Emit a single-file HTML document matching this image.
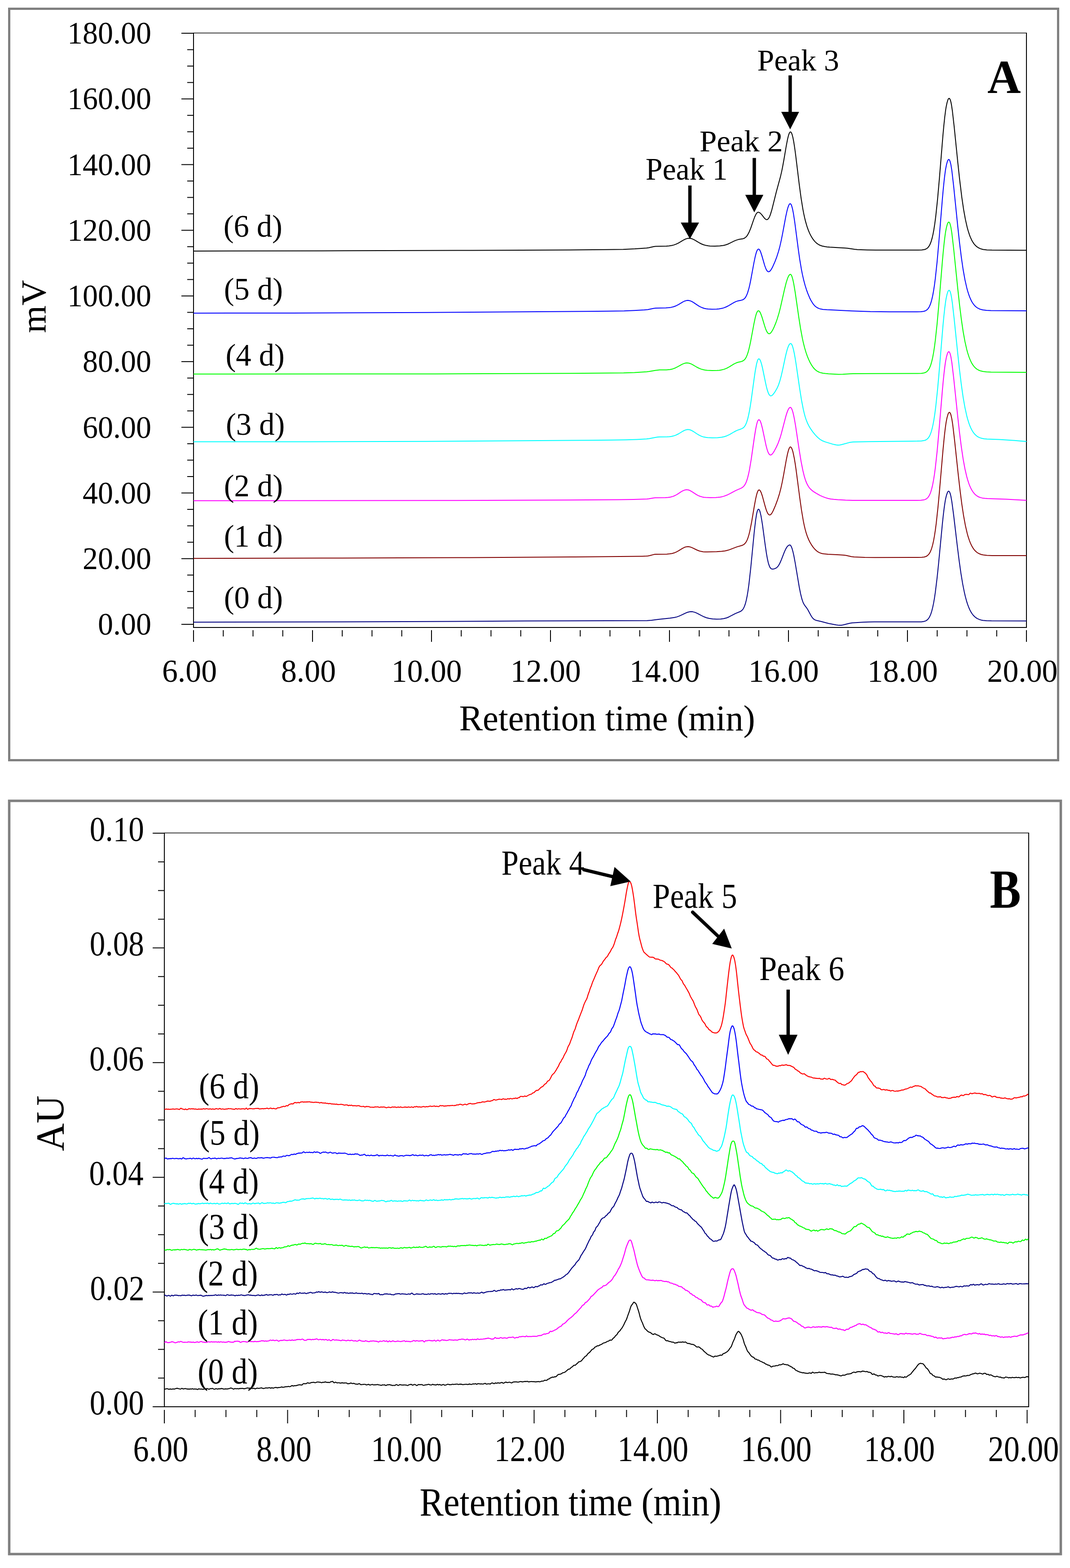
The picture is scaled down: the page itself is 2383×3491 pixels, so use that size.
<!DOCTYPE html>
<html><head><meta charset="utf-8"><title>Chromatograms</title>
<style>html,body{margin:0;padding:0;background:#fff;}svg{display:block;}
text{font-family:"Liberation Serif","Times New Roman",serif;font-size:100px;fill:#000;}</style></head>
<body><svg xmlns="http://www.w3.org/2000/svg" width="2383" height="3491" viewBox="0 0 2383 3491">
<rect width="2383" height="3491" fill="#fff"/>
<rect x="20.5" y="19.5" width="2336" height="1673" fill="none" stroke="#808080" stroke-width="5"/>
<line x1="430" y1="73.5" x2="2287" y2="73.5" stroke="#000" stroke-width="1.5"/>
<line x1="2286" y1="73" x2="2286" y2="1398" stroke="#000" stroke-width="2"/>
<line x1="431" y1="73" x2="431" y2="1398" stroke="#000" stroke-width="2"/>
<line x1="430" y1="1397" x2="2287" y2="1397" stroke="#000" stroke-width="2"/>
<line x1="404" y1="1390.0" x2="431" y2="1390.0" stroke="#000" stroke-width="2"/>
<line x1="417" y1="1353.445" x2="431" y2="1353.445" stroke="#000" stroke-width="2"/>
<line x1="417" y1="1316.89" x2="431" y2="1316.89" stroke="#000" stroke-width="2"/>
<line x1="417" y1="1280.335" x2="431" y2="1280.335" stroke="#000" stroke-width="2"/>
<line x1="404" y1="1243.78" x2="431" y2="1243.78" stroke="#000" stroke-width="2"/>
<line x1="417" y1="1207.225" x2="431" y2="1207.225" stroke="#000" stroke-width="2"/>
<line x1="417" y1="1170.67" x2="431" y2="1170.67" stroke="#000" stroke-width="2"/>
<line x1="417" y1="1134.115" x2="431" y2="1134.115" stroke="#000" stroke-width="2"/>
<line x1="404" y1="1097.56" x2="431" y2="1097.56" stroke="#000" stroke-width="2"/>
<line x1="417" y1="1061.005" x2="431" y2="1061.005" stroke="#000" stroke-width="2"/>
<line x1="417" y1="1024.45" x2="431" y2="1024.45" stroke="#000" stroke-width="2"/>
<line x1="417" y1="987.895" x2="431" y2="987.895" stroke="#000" stroke-width="2"/>
<line x1="404" y1="951.34" x2="431" y2="951.34" stroke="#000" stroke-width="2"/>
<line x1="417" y1="914.7850000000001" x2="431" y2="914.7850000000001" stroke="#000" stroke-width="2"/>
<line x1="417" y1="878.23" x2="431" y2="878.23" stroke="#000" stroke-width="2"/>
<line x1="417" y1="841.675" x2="431" y2="841.675" stroke="#000" stroke-width="2"/>
<line x1="404" y1="805.12" x2="431" y2="805.12" stroke="#000" stroke-width="2"/>
<line x1="417" y1="768.565" x2="431" y2="768.565" stroke="#000" stroke-width="2"/>
<line x1="417" y1="732.01" x2="431" y2="732.01" stroke="#000" stroke-width="2"/>
<line x1="417" y1="695.455" x2="431" y2="695.455" stroke="#000" stroke-width="2"/>
<line x1="404" y1="658.9" x2="431" y2="658.9" stroke="#000" stroke-width="2"/>
<line x1="417" y1="622.345" x2="431" y2="622.345" stroke="#000" stroke-width="2"/>
<line x1="417" y1="585.79" x2="431" y2="585.79" stroke="#000" stroke-width="2"/>
<line x1="417" y1="549.235" x2="431" y2="549.235" stroke="#000" stroke-width="2"/>
<line x1="404" y1="512.6800000000001" x2="431" y2="512.6800000000001" stroke="#000" stroke-width="2"/>
<line x1="417" y1="476.125" x2="431" y2="476.125" stroke="#000" stroke-width="2"/>
<line x1="417" y1="439.57000000000005" x2="431" y2="439.57000000000005" stroke="#000" stroke-width="2"/>
<line x1="417" y1="403.015" x2="431" y2="403.015" stroke="#000" stroke-width="2"/>
<line x1="404" y1="366.46000000000004" x2="431" y2="366.46000000000004" stroke="#000" stroke-width="2"/>
<line x1="417" y1="329.905" x2="431" y2="329.905" stroke="#000" stroke-width="2"/>
<line x1="417" y1="293.3499999999999" x2="431" y2="293.3499999999999" stroke="#000" stroke-width="2"/>
<line x1="417" y1="256.7950000000001" x2="431" y2="256.7950000000001" stroke="#000" stroke-width="2"/>
<line x1="404" y1="220.24" x2="431" y2="220.24" stroke="#000" stroke-width="2"/>
<line x1="417" y1="183.68499999999995" x2="431" y2="183.68499999999995" stroke="#000" stroke-width="2"/>
<line x1="417" y1="147.1300000000001" x2="431" y2="147.1300000000001" stroke="#000" stroke-width="2"/>
<line x1="417" y1="110.57500000000005" x2="431" y2="110.57500000000005" stroke="#000" stroke-width="2"/>
<line x1="404" y1="74.01999999999998" x2="431" y2="74.01999999999998" stroke="#000" stroke-width="2"/>
<line x1="431.0" y1="1403" x2="431.0" y2="1429" stroke="#000" stroke-width="2"/>
<line x1="497.25" y1="1403" x2="497.25" y2="1417" stroke="#000" stroke-width="2"/>
<line x1="563.5" y1="1403" x2="563.5" y2="1417" stroke="#000" stroke-width="2"/>
<line x1="629.75" y1="1403" x2="629.75" y2="1417" stroke="#000" stroke-width="2"/>
<line x1="696.0" y1="1403" x2="696.0" y2="1429" stroke="#000" stroke-width="2"/>
<line x1="762.25" y1="1403" x2="762.25" y2="1417" stroke="#000" stroke-width="2"/>
<line x1="828.5" y1="1403" x2="828.5" y2="1417" stroke="#000" stroke-width="2"/>
<line x1="894.75" y1="1403" x2="894.75" y2="1417" stroke="#000" stroke-width="2"/>
<line x1="961.0" y1="1403" x2="961.0" y2="1429" stroke="#000" stroke-width="2"/>
<line x1="1027.25" y1="1403" x2="1027.25" y2="1417" stroke="#000" stroke-width="2"/>
<line x1="1093.5" y1="1403" x2="1093.5" y2="1417" stroke="#000" stroke-width="2"/>
<line x1="1159.75" y1="1403" x2="1159.75" y2="1417" stroke="#000" stroke-width="2"/>
<line x1="1226.0" y1="1403" x2="1226.0" y2="1429" stroke="#000" stroke-width="2"/>
<line x1="1292.25" y1="1403" x2="1292.25" y2="1417" stroke="#000" stroke-width="2"/>
<line x1="1358.5" y1="1403" x2="1358.5" y2="1417" stroke="#000" stroke-width="2"/>
<line x1="1424.75" y1="1403" x2="1424.75" y2="1417" stroke="#000" stroke-width="2"/>
<line x1="1491.0" y1="1403" x2="1491.0" y2="1429" stroke="#000" stroke-width="2"/>
<line x1="1557.25" y1="1403" x2="1557.25" y2="1417" stroke="#000" stroke-width="2"/>
<line x1="1623.5" y1="1403" x2="1623.5" y2="1417" stroke="#000" stroke-width="2"/>
<line x1="1689.75" y1="1403" x2="1689.75" y2="1417" stroke="#000" stroke-width="2"/>
<line x1="1756.0" y1="1403" x2="1756.0" y2="1429" stroke="#000" stroke-width="2"/>
<line x1="1822.25" y1="1403" x2="1822.25" y2="1417" stroke="#000" stroke-width="2"/>
<line x1="1888.5" y1="1403" x2="1888.5" y2="1417" stroke="#000" stroke-width="2"/>
<line x1="1954.75" y1="1403" x2="1954.75" y2="1417" stroke="#000" stroke-width="2"/>
<line x1="2021.0" y1="1403" x2="2021.0" y2="1429" stroke="#000" stroke-width="2"/>
<line x1="2087.25" y1="1403" x2="2087.25" y2="1417" stroke="#000" stroke-width="2"/>
<line x1="2153.5" y1="1403" x2="2153.5" y2="1417" stroke="#000" stroke-width="2"/>
<line x1="2219.75" y1="1403" x2="2219.75" y2="1417" stroke="#000" stroke-width="2"/>
<line x1="2286.0" y1="1403" x2="2286.0" y2="1429" stroke="#000" stroke-width="2"/>
<rect x="20.5" y="1783" width="2342" height="1677" fill="none" stroke="#808080" stroke-width="5.5"/>
<line x1="365" y1="1854.5" x2="2292" y2="1854.5" stroke="#000" stroke-width="1.5"/>
<line x1="2291" y1="1854" x2="2291" y2="3133" stroke="#000" stroke-width="2"/>
<line x1="366" y1="1854" x2="366" y2="3133" stroke="#000" stroke-width="2"/>
<line x1="340" y1="3132" x2="2292" y2="3132" stroke="#000" stroke-width="2"/>
<line x1="340" y1="3132.0" x2="366" y2="3132.0" stroke="#000" stroke-width="2"/>
<line x1="352" y1="3068.15" x2="366" y2="3068.15" stroke="#000" stroke-width="2"/>
<line x1="352" y1="3004.3" x2="366" y2="3004.3" stroke="#000" stroke-width="2"/>
<line x1="352" y1="2940.45" x2="366" y2="2940.45" stroke="#000" stroke-width="2"/>
<line x1="340" y1="2876.6" x2="366" y2="2876.6" stroke="#000" stroke-width="2"/>
<line x1="352" y1="2812.75" x2="366" y2="2812.75" stroke="#000" stroke-width="2"/>
<line x1="352" y1="2748.9" x2="366" y2="2748.9" stroke="#000" stroke-width="2"/>
<line x1="352" y1="2685.05" x2="366" y2="2685.05" stroke="#000" stroke-width="2"/>
<line x1="340" y1="2621.2" x2="366" y2="2621.2" stroke="#000" stroke-width="2"/>
<line x1="352" y1="2557.35" x2="366" y2="2557.35" stroke="#000" stroke-width="2"/>
<line x1="352" y1="2493.5" x2="366" y2="2493.5" stroke="#000" stroke-width="2"/>
<line x1="352" y1="2429.65" x2="366" y2="2429.65" stroke="#000" stroke-width="2"/>
<line x1="340" y1="2365.8" x2="366" y2="2365.8" stroke="#000" stroke-width="2"/>
<line x1="352" y1="2301.95" x2="366" y2="2301.95" stroke="#000" stroke-width="2"/>
<line x1="352" y1="2238.1" x2="366" y2="2238.1" stroke="#000" stroke-width="2"/>
<line x1="352" y1="2174.25" x2="366" y2="2174.25" stroke="#000" stroke-width="2"/>
<line x1="340" y1="2110.4" x2="366" y2="2110.4" stroke="#000" stroke-width="2"/>
<line x1="352" y1="2046.55" x2="366" y2="2046.55" stroke="#000" stroke-width="2"/>
<line x1="352" y1="1982.7" x2="366" y2="1982.7" stroke="#000" stroke-width="2"/>
<line x1="352" y1="1918.85" x2="366" y2="1918.85" stroke="#000" stroke-width="2"/>
<line x1="340" y1="1855.0" x2="366" y2="1855.0" stroke="#000" stroke-width="2"/>
<line x1="366.0" y1="3139" x2="366.0" y2="3169" stroke="#000" stroke-width="2"/>
<line x1="434.625" y1="3139" x2="434.625" y2="3155" stroke="#000" stroke-width="2"/>
<line x1="503.25" y1="3139" x2="503.25" y2="3155" stroke="#000" stroke-width="2"/>
<line x1="571.875" y1="3139" x2="571.875" y2="3155" stroke="#000" stroke-width="2"/>
<line x1="640.5" y1="3139" x2="640.5" y2="3169" stroke="#000" stroke-width="2"/>
<line x1="709.125" y1="3139" x2="709.125" y2="3155" stroke="#000" stroke-width="2"/>
<line x1="777.75" y1="3139" x2="777.75" y2="3155" stroke="#000" stroke-width="2"/>
<line x1="846.375" y1="3139" x2="846.375" y2="3155" stroke="#000" stroke-width="2"/>
<line x1="915.0" y1="3139" x2="915.0" y2="3169" stroke="#000" stroke-width="2"/>
<line x1="983.625" y1="3139" x2="983.625" y2="3155" stroke="#000" stroke-width="2"/>
<line x1="1052.25" y1="3139" x2="1052.25" y2="3155" stroke="#000" stroke-width="2"/>
<line x1="1120.875" y1="3139" x2="1120.875" y2="3155" stroke="#000" stroke-width="2"/>
<line x1="1189.5" y1="3139" x2="1189.5" y2="3169" stroke="#000" stroke-width="2"/>
<line x1="1258.125" y1="3139" x2="1258.125" y2="3155" stroke="#000" stroke-width="2"/>
<line x1="1326.75" y1="3139" x2="1326.75" y2="3155" stroke="#000" stroke-width="2"/>
<line x1="1395.375" y1="3139" x2="1395.375" y2="3155" stroke="#000" stroke-width="2"/>
<line x1="1464.0" y1="3139" x2="1464.0" y2="3169" stroke="#000" stroke-width="2"/>
<line x1="1532.625" y1="3139" x2="1532.625" y2="3155" stroke="#000" stroke-width="2"/>
<line x1="1601.25" y1="3139" x2="1601.25" y2="3155" stroke="#000" stroke-width="2"/>
<line x1="1669.875" y1="3139" x2="1669.875" y2="3155" stroke="#000" stroke-width="2"/>
<line x1="1738.5" y1="3139" x2="1738.5" y2="3169" stroke="#000" stroke-width="2"/>
<line x1="1807.125" y1="3139" x2="1807.125" y2="3155" stroke="#000" stroke-width="2"/>
<line x1="1875.75" y1="3139" x2="1875.75" y2="3155" stroke="#000" stroke-width="2"/>
<line x1="1944.375" y1="3139" x2="1944.375" y2="3155" stroke="#000" stroke-width="2"/>
<line x1="2013.0" y1="3139" x2="2013.0" y2="3169" stroke="#000" stroke-width="2"/>
<line x1="2081.625" y1="3139" x2="2081.625" y2="3155" stroke="#000" stroke-width="2"/>
<line x1="2150.25" y1="3139" x2="2150.25" y2="3155" stroke="#000" stroke-width="2"/>
<line x1="2218.875" y1="3139" x2="2218.875" y2="3155" stroke="#000" stroke-width="2"/>
<line x1="2287.5" y1="3139" x2="2287.5" y2="3169" stroke="#000" stroke-width="2"/>
<path d="M431.0,559.0l286,-0.5l333,-1l244,-1.2l54,-0.5l40,-0.6l26,-1.1l26,-1.9l5,-0.8l11,-2.5l4,-0.5l24,-0.5l6,-0.5l5,-0.6l5,-1.2l5,-1.7l6,-2.8l10,-6l4,-2.1l3,-1.3l2,-0.6l4,-0.6l4,0.3l2,0.5l3,1.1l4,2l10,6l5,2.6l5,2l6,1.6l4,0.7l4,0.4l11,0.3l11,-0.4l8,-1.1l5,-1.2l5,-1.8l5,-2.3l9,-4.5l5,-2.1l5,-1.5l10,-1.7l3,-1.2l3,-2.2l2,-2.1l2,-2.8l3,-5.5l4,-9.7l6,-17.4l3,-8l3,-6.1l2,-2.6l1,-0.8l1,-0.4l1,-0.1l1,0.2l1,0.4l2,1.3l3,3l7,8.9l2,1.7l1,0.6l1,0.3l1,0l1,-0.2l1,-0.6l2,-2.3l1,-1.7l1,-2l2,-5.2l3,-9.9l10,-40l9,-32.9l3,-13l2,-9.8l3,-16.5l5,-29.5l3,-15.6l2,-8l1,-3.1l1,-2.4l1,-1.6l1,-0.8l1,0l1,0.9l1,1.8l1,2.6l2,7.6l2,10.6l2,13l2,14.8l8,65.6l4,29.6l4,24.8l2,10.5l2,9.2l2,8.1l3,10.4l3,8.6l3,7.2l3,6l4,6.6l4,5.2l4,4l4,2.9l4,2.2l5,1.8l6,1.3l5,0.7l6,0.5l34,1.9l6,0.6l15,2.2l7,0.7l21,0.7l19,0.3l95,0l8,-0.3l5,-0.6l2,-0.5l2,-0.8l3,-1.9l2,-1.9l1,-1.2l2,-3.1l1,-1.9l2,-4.8l1,-2.9l2,-6.9l2,-8.8l2,-10.9l2,-13l2,-15.4l4,-37.6l4,-45.3l8,-97.4l2,-21.6l2,-18.9l2,-15.6l1,-6.4l2,-9.7l2,-6.8l1,-2.1l1,-1.2l1,-0.3l1,0.8l1,1.7l1,2.9l1,3.9l1,5.1l2,13.2l4,35.2l8,78.8l4,37.5l5,40.9l4,27.3l4,22.2l4,17.6l2,7.3l3,9.3l2,5.2l3,6.6l2,3.6l3,4.6l3,3.5l3,2.8l3,2.1l4,2.1l4,1.4l4,0.9l8,1l11,0.4l77,0.4" fill="none" stroke="#000000" stroke-width="2.0" stroke-linejoin="round"/>
<path d="M431.0,697.2l220,-0.3l299,-1.1l356,-2.5l48,-0.5l36,-0.6l23,-0.9l22,-1.3l8,-0.8l12,-2.5l5,-0.7l23,-0.5l6,-0.4l5,-0.7l6,-1.4l6,-2.3l5,-2.6l10,-6l4,-1.9l4,-1.1l3,-0.3l2,0.2l2,0.4l4,1.5l4,2.2l10,6.8l4,2.4l5,2.4l6,2l4,0.8l4,0.5l9,0.5l10,-0.3l5,-0.4l4,-0.7l4,-0.8l3,-0.9l6,-2.4l5,-2.6l11,-6.5l5,-2.5l4,-1.3l8,-1.7l3,-0.9l2,-1l2,-1.7l2,-2.3l1,-1.6l2,-3.9l2,-5.1l3,-10.2l2,-8.5l2,-9.7l7,-38.1l3,-14.4l2,-7.6l1,-3l1,-2.4l1,-1.8l1,-1.1l1,-0.6l1,0.2l1,0.7l1,1.3l2,4.2l3,9.2l6,20.9l3,8l2,3.5l1,1.2l1,0.9l1,0.4l1,0.1l1,-0.3l1,-0.6l1,-0.9l2,-2.5l2,-3.3l2,-3.8l5,-11.4l4,-10.5l4,-12.6l3,-11.3l3,-13.3l3,-15l7,-37.6l3,-13.6l2,-7.1l2,-5l1,-1.5l1,-1l1,-0.2l1,0.5l1,1.4l1,2.3l2,7.2l2,10.1l3,19.5l8,61.3l3,21.1l4,23.8l2,10.1l3,13.2l3,11.1l3,9.6l3,8.4l4,9.5l3,6l4,6.6l3,3.8l2,2.1l2,1.8l3,2l4,1.9l4,1.2l5,0.8l9,0.7l54,2.7l43,1.5l43,0.4l60,0.1l9,-0.2l6,-0.8l4,-1.3l3,-1.8l3,-3.1l2,-3l1,-1.9l2,-4.7l1,-2.8l2,-6.9l2,-8.6l2,-10.7l2,-12.9l2,-15.2l4,-37.3l4,-45.1l8,-97.7l2,-21.9l2,-19.3l2,-16l1,-6.6l2,-10.2l2,-7.1l1,-2.3l1,-1.4l1,-0.5l1,0.5l1,1.6l1,2.6l1,3.7l1,4.7l2,12.8l4,34.7l9,88.3l4,36.7l4,32.3l4,27.4l4,22.4l4,17.7l2,7.4l3,9.4l2,5.2l3,6.6l2,3.7l3,4.5l3,3.6l3,2.7l3,2.2l4,2l4,1.4l4,0.9l8,1l10,0.4l79,0.6" fill="none" stroke="#0000FF" stroke-width="2.0" stroke-linejoin="round"/>
<path d="M431.0,832.7l538,-0.3l331,-1.3l89,-0.8l24,-0.8l27,-1.7l6,-0.7l13,-2.4l6,-0.8l4,-0.3l15,-0.2l8,-0.7l6,-1.3l6,-2.2l5,-2.5l10,-5.5l4,-1.8l4,-1.1l3,-0.3l4,0.5l4,1.2l4,1.9l10,5.9l4,2l5,2.1l6,1.7l4,0.7l4,0.4l11,0.5l11,-0.2l5,-0.3l4,-0.6l6,-1.4l6,-2.3l6,-3.2l11,-6.7l5,-2.4l4,-1.3l7,-1.6l3,-1.1l3,-1.9l2,-2.1l1,-1.4l2,-3.5l2,-4.6l2,-5.9l2,-7.3l2,-8.5l2,-9.6l7,-37.6l3,-14.1l2,-7.4l1,-2.8l1,-2.3l1,-1.6l1,-1l1,-0.3l1,0.2l1,0.7l1,1.2l2,3.8l3,8.1l6,19.9l2,6l2,4.8l2,3.6l1,1.2l1,0.9l1,0.6l1,0.1l1,-0.1l1,-0.5l1,-0.8l2,-2.3l3,-4.9l3,-6.2l4,-9.7l3,-8.5l4,-13.3l3,-11.7l9,-40l4,-16l3,-9.3l2,-4.6l2,-3l1,-0.9l1,-0.5l1,0.2l1,1.1l1,1.7l1,2.6l2,7.2l2,9.6l3,17.9l8,55.5l4,25.5l4,21.4l2,9.2l3,11.9l3,10l3,8.6l3,7.3l3,6.3l3,5.4l4,5.9l3,3.5l4,3.6l3,1.9l4,1.9l4,1.2l4,0.8l5,0.7l7,0.6l23,1.3l9,-0.2l16,-1l7,-0.3l41,-0.3l102,-0.2l9,-0.3l5,-0.6l4,-1.3l3,-1.8l3,-3.1l2,-3l1,-1.8l2,-4.7l1,-2.8l2,-6.8l2,-8.6l2,-10.6l2,-12.8l2,-15.1l4,-37l4,-44.9l8,-97.1l2,-21.7l2,-19.2l2,-16l1,-6.5l2,-10.1l2,-7.1l1,-2.3l1,-1.4l1,-0.5l1,0.5l1,1.5l1,2.6l1,3.7l1,4.7l2,12.7l4,34.5l9,87.7l4,36.4l4,32.1l4,27.2l4,22.2l4,17.7l2,7.3l3,9.3l2,5.2l3,6.6l2,3.6l3,4.5l3,3.5l3,2.7l3,2.1l4,2.1l4,1.3l4,0.9l8,1l10,0.4l79,0.6" fill="none" stroke="#00FF00" stroke-width="2.0" stroke-linejoin="round"/>
<path d="M431.0,983.6l261,-0.2l256,-0.6l365,-2.5l48,-0.5l33,-0.6l24,-0.8l22,-1.2l6,-0.7l13,-2.5l6,-0.9l4,-0.3l17,-0.3l5,-0.3l4,-0.5l5,-1.1l5,-1.7l6,-2.9l9,-5.5l4,-2.1l4,-1.5l2,-0.4l2,-0.2l2,0.1l2,0.4l4,1.5l4,2.2l9,6l5,2.9l5,2.2l5,1.5l4,0.7l4,0.5l10,0.5l12,-0.3l9,-0.9l6,-1.3l6,-2.1l6,-2.9l10,-5.8l4,-2.1l4,-1.8l7,-2.4l3,-1.3l2,-1.2l2,-1.8l2,-2.6l2,-3.6l2,-4.9l2,-6.4l2,-8.1l2,-9.8l2,-11.6l2,-13.1l7,-51.2l2,-13.5l3,-16.1l2,-7.1l1,-2.3l1,-1.3l1,-0.4l1,0.4l1,1l1,1.7l1,2.3l2,6.2l2,8l7,34l2,8.9l2,7.5l2,5.8l2,4l1,1.3l1,0.8l1,0.5l1,0.1l1,-0.3l1,-0.5l2,-1.7l2,-2.4l3,-4.2l4,-6.8l2,-4.1l2,-4.8l3,-9l3,-11.2l3,-13.2l6,-28.2l2,-8.5l2,-7.5l2,-6.2l2,-4.5l1,-1.6l1,-1.1l1,-0.6l1,-0.2l1,0.5l1,1.2l1,1.8l1,2.5l2,7l2,9.2l2,11.1l2,12.5l8,55.1l4,25l4,20.6l2,8.5l2,7.4l2,6.3l3,7.7l3,6.2l4,6.8l5,7.1l6,7.3l5,5.2l5,4.2l3,1.9l3,1.6l6,2.4l19,5.7l5,1l4,0.3l4,-0.2l4,-0.7l18,-4.9l4,-0.7l4,-0.4l35,-0.8l108,-1.1l9,-0.4l5,-0.6l4,-1.1l2,-1.1l2,-1.4l2,-2l1,-1.2l2,-3.2l1,-2l2,-4.9l1,-3l2,-7.1l2,-9l2,-10.9l2,-13.2l2,-15.5l4,-37.8l3,-33.3l9,-108.3l2,-21.1l2,-18.5l2,-15.2l1,-6.1l2,-9.4l2,-6.4l1,-2l1,-1l1,-0.1l1,0.9l1,1.9l1,3l1,4.1l1,5.1l2,13.4l4,35l8,77.7l4,36.7l4,32.6l4,27.8l4,22.8l4,18.1l2,7.6l3,9.6l2,5.4l3,6.8l2,3.7l3,4.7l2,2.5l3,3.1l3,2.5l3,1.8l4,1.8l4,1.1l5,0.9l6,0.6l27,1.1l16,0.8l19,1.4l26,2.2" fill="none" stroke="#00FFFF" stroke-width="2.0" stroke-linejoin="round"/>
<path d="M431.0,1114.7l552,-0.4l324,-1.3l69,-0.5l35,-0.5l30,-1l4,-0.4l10,-1.9l4,-0.5l23,-0.3l6,-0.4l5,-0.8l6,-1.6l5,-2.1l5,-2.9l9,-5.9l4,-2.1l4,-1.4l3,-0.4l2,0.2l2,0.3l4,1.5l4,2.3l8,5.2l5,3l5,2.2l5,1.4l4,0.8l4,0.4l10,0.4l12,-0.3l5,-0.4l5,-0.6l4,-0.8l4,-1l7,-2.6l6,-2.9l14,-7.6l10,-4.2l3,-1.5l3,-2.1l2,-2.1l2,-2.8l2,-3.7l2,-5l2,-6.4l2,-7.9l2,-9.5l4,-23.7l7,-48.9l3,-18.5l2,-9.8l1,-3.9l1,-3.1l1,-2.2l1,-1.5l1,-0.5l1,0.2l1,0.9l1,1.6l2,5.1l3,11.5l8,37.8l2,7.7l2,6.1l1,2.4l2,3.4l1,1l1,0.6l1,0.2l1,-0.1l1,-0.5l2,-1.8l2,-2.6l2,-3.1l5,-9.4l4,-8.9l4,-10.9l3,-9.9l9,-34.6l2,-7.1l2,-6.2l2,-5.1l2,-3.5l1,-1.2l1,-0.8l1,-0.3l1,0.3l1,0.9l1,1.6l1,2.2l2,6.3l2,8.6l2,10.4l2,11.9l8,53.2l4,24.5l4,20.4l3,12.3l2,6.7l2,5.7l2,4.7l3,5.6l2,3l3,3.5l3,2.8l4,3l6,3.8l8,4.4l6,2.8l6,2.3l6,1.8l6,1.2l7,0.9l9,0.8l17,1l16,0.4l143,0l9,-0.2l6,-0.7l4,-1.2l3,-1.8l3,-3l2,-3l1,-1.8l2,-4.5l1,-2.8l2,-6.7l2,-8.4l2,-10.5l2,-12.5l2,-14.8l4,-36.4l4,-44l8,-95.4l2,-21.3l2,-18.9l2,-15.6l1,-6.4l2,-10l2,-6.9l1,-2.3l1,-1.4l1,-0.5l1,0.5l1,1.5l1,2.5l1,3.6l1,4.7l2,12.4l4,33.8l9,86l4,35.7l4,31.5l4,26.7l4,21.8l4,17.3l2,7.1l3,9.2l2,5.1l3,6.4l2,3.5l3,4.4l3,3.5l3,2.6l3,2.1l3,1.6l4,1.4l4,1l5,0.7l6,0.5l43,1.4l44,2.5" fill="none" stroke="#FF00FF" stroke-width="2.0" stroke-linejoin="round"/>
<path d="M431.0,1243.3l288,-0.7l326,-1.2l236,-1.5l125,-1.1l25,-0.4l9,-0.3l3,-0.3l4,-0.8l9,-2.4l4,-0.6l25,-0.3l7,-0.6l5,-0.8l5,-1.5l5,-2.1l4,-2.3l9,-5.6l4,-2l4,-1.4l4,-0.4l3,0.3l4,1.1l4,1.7l9,4.4l5,2l4,1.1l5,0.8l4,0.3l5,0.1l21,-0.6l11,-0.7l8,-1.1l5,-1.1l4,-1.2l17,-6.5l10,-2.9l3,-1l2,-1.1l2,-1.5l2,-2.1l2,-2.9l2,-4l2,-5.3l2,-6.6l2,-8l4,-20.2l6,-35.5l3,-16.1l2,-8.7l1,-3.5l1,-2.9l1,-2.2l1,-1.5l1,-0.7l1,-0.1l1,0.6l1,1.1l2,3.7l3,8.7l6,22l2,6.7l2,5.5l2,4.1l1,1.4l1,1.1l1,0.6l1,0.3l1,-0.2l1,-0.5l1,-0.8l2,-2.5l3,-5.6l5,-11.7l5,-13.5l4,-12.7l3,-11.5l3,-13.7l3,-15.7l6,-33.6l3,-14.6l2,-7.6l1,-2.8l1,-2.3l1,-1.5l1,-0.7l1,0.1l1,0.9l1,1.6l1,2.2l2,6.4l3,14.2l2,12l2,13.6l8,61.2l4,28.4l4,23.7l2,9.8l2,8.6l2,7.3l3,9.1l3,7.3l3,6l3,5.1l4,5.8l4,4.7l4,3.7l3,2.1l4,2l4,1.3l4,0.9l10,1l25,1.1l11,0.8l5,0.8l11,2.5l6,0.6l24,1l23,0.4l95,-0.3l9,-0.2l5,-0.6l4,-1.2l2,-1l2,-1.4l3,-3.2l2,-3.2l1,-1.9l2,-4.9l1,-2.9l2,-7l2,-8.8l2,-10.8l2,-12.9l2,-15.1l4,-36.7l3,-32.4l8,-93.1l3,-31.1l2,-17.5l2,-14.2l2,-10.4l2,-7.3l1,-2.6l1,-1.7l1,-0.8l1,0.1l1,1l1,2.1l1,3.1l2,9.2l2,13.3l4,34l8,74.7l4,35.1l4,31.2l4,26.4l4,21.7l4,17.3l2,7.1l3,9.1l2,5.2l3,6.4l2,3.5l3,4.5l3,3.4l3,2.7l3,2.1l4,2l4,1.4l4,0.8l8,1l12,0.4l76,0.1" fill="none" stroke="#800000" stroke-width="2.0" stroke-linejoin="round"/>
<path d="M431.0,1385.2l207,-0.4l262,-0.8l271,-1.4l270,-0.9l10,-0.7l15,-1.9l26,-2.8l10,-1.5l5,-1.2l5,-1.7l5,-2.2l10,-4.8l4,-1.6l4,-1l4,-0.5l4,0.3l5,1.3l5,2.2l10,5.3l5,2.4l5,1.9l6,1.6l8,1.2l9,0.4l9,-0.2l7,-0.9l6,-1.6l5,-2l14,-7.3l4,-1.8l7,-2.8l3,-1.7l2,-1.8l1,-1.1l2,-3l2,-4.3l2,-5.7l2,-7.7l2,-9.7l2,-12.2l2,-14.5l4,-35.8l8,-82.3l3,-25.2l2,-12.3l1,-4.5l1,-3.3l1,-2.1l1,-0.9l1,0.3l1,1.2l1,2.2l1,3.2l2,8.8l3,18.2l6,44.6l3,20.4l2,11.2l2,8.9l1,3.5l2,5.4l1,1.8l1,1.4l1,1l1,0.7l2,0.6l3,-0.3l3,-0.9l3,-1.6l2,-1.6l2,-2.3l1,-1.4l3,-5.5l3,-6.9l7,-17.9l3,-6.5l2,-3.5l2,-2.6l1,-1l2,-1.4l2,-0.4l1,0.4l1,1l1,1.6l2,4.9l2,7.2l2,8.9l3,16.1l9,53.6l3,15l3,11.9l2,5.9l1,2.4l2,3.8l2,2.9l4,5.3l2,3l7,13.1l2,3.2l2,2.7l3,2.7l2,1.2l3,1.2l11,2.5l16,4.2l17,3.2l4,0.5l4,0.3l4,-0.1l4,-0.6l14,-3.5l6,-1.1l24,-1.4l13,-0.5l12,-0.2l98,0l7,-0.2l5,-0.6l4,-1.2l3,-1.6l3,-2.8l2,-2.7l1,-1.7l2,-4.2l1,-2.5l2,-6.1l2,-7.7l2,-9.4l2,-11.3l2,-13.4l4,-32.5l3,-28.9l9,-93.9l2,-18.5l2,-16.2l2,-13.3l1,-5.3l2,-8.3l2,-5.7l1,-1.8l1,-1l1,-0.2l1,0.7l1,1.6l1,2.5l1,3.5l1,4.4l2,11.5l4,30.2l8,67.5l4,31.9l4,28.5l4,24.2l4,20l2,8.4l3,10.9l2,6.2l3,7.9l2,4.4l3,5.5l2,3.1l3,3.8l3,3l3,2.3l3,1.8l4,1.8l4,1.2l4,0.8l8,0.8l11,0.3l78,0.1" fill="none" stroke="#000080" stroke-width="2.0" stroke-linejoin="round"/>
<path d="M366.0,2469.8l1.5,0.2l1.5,-0.6l1.5,-0.4l1.5,0.7l1.5,0l1.5,-0.3l1.5,0.3l1.5,0.1l1.5,-0.1l1.5,-0.1l1.5,-0.1l1.5,-0.4l1.5,-0.1l1.5,0.2l1.5,0.4l1.5,-0.1l1.5,-0.5l1.5,-0.2l1.5,0.2l1.5,0.2l1.5,0.4l1.5,0.7l1.5,-0.8l1.5,-1.9l1.5,-0.1l1.5,1.1l1.5,0.5l1.5,0.3l1.5,0.7l1.5,0.2l1.5,-1.1l1.5,0.2l1.5,1.1l1.5,-0.1l1.5,-0.7l1.5,-0.9l1.5,-0.5l1.5,0.7l1.5,0.1l1.5,-0.6l1.5,0.1l1.5,0.2l1.5,-0.1l1.5,0.3l1.5,0.3l1.5,-0.1l1.5,0l1.5,0.5l1.5,0.3l1.5,-0.6l1.5,-0.3l1.5,0.2l1.5,0.1l1.5,-0.1l1.5,-0.2l1.5,0.3l1.5,-0.3l1.5,-0.7l1.5,0.3l1.5,0.5l1.5,-0.1l1.5,-0.7l1.5,-0.1l1.5,0.5l1.5,0.2l1.5,0.4l1.5,-0.2l1.5,-0.7l1.5,0.7l1.5,0.6l1.5,-0.7l1.5,-0.3l1.5,0.6l1.5,0.3l1.5,-0.1l1.5,-0.9l1.5,-0.6l1.5,0.4l1.5,0.5l1.5,0.4l1.5,-0.5l1.5,-1l1.5,0.3l1.5,1.2l1.5,0.1l1.5,-0.6l1.5,0.1l1.5,0.4l1.5,0.2l1.5,0.1l1.5,-0.4l1.5,-0.4l1.5,0.2l1.5,-0.2l1.5,-0.9l1.5,0.3l1.5,0.2l1.5,-0.2l1.5,0.2l1.5,0.4l1.5,0.3l1.5,0.1l1.5,0.3l1.5,0.3l1.5,-0.7l1.5,-1.1l1.5,0.2l1.5,1.1l1.5,-0.3l1.5,-0.6l1.5,0.2l1.5,0.3l1.5,0.2l1.5,-0.1l1.5,-0.5l1.5,-0.1l1.5,0.1l1.5,-0.1l1.5,0.8l1.5,0.1l1.5,-1.8l1.5,-0.5l1.5,2l1.5,0.9l1.5,-1.5l1.5,-0.6l1.5,0.5l1.5,-0.2l1.5,-0.2l1.5,0.5l1.5,0.2l1.5,-0.1l1.5,0l1.5,-0.3l1.5,-0.3l1.5,-0.1l1.5,0l1.5,0.1l1.5,-0.4l1.5,0.4l1.5,1l1.5,-0.2l1.5,-0.3l1.5,0.1l1.5,-0.4l1.5,0l1.5,0.4l1.5,-0.3l1.5,-0.3l1.5,0.3l1.5,-0.4l1.5,-0.6l1.5,0l1.5,0.9l1.5,0.4l1.5,-0.6l1.5,-0.7l1.5,-0.3l1.5,0.7l1.5,0.8l1.5,-0.5l1.5,-0.4l1.5,0.4l1.5,0.4l1.5,0.3l1.5,0.1l1.5,-1.1l1.5,-1l1.5,-0.3l1.5,-0.1l1.5,-0.2l1.5,-0.4l1.5,-0.8l1.5,-0.6l1.5,0l1.5,-0.7l1.5,-0.6l1.5,0.5l1.5,0.2l1.5,-0.8l1.5,-1.2l1.5,-0.1l1.5,0.7l1.5,-1.1l1.5,-2l1.5,-0.6l1.5,-0.4l1.5,-0.6l1.5,-0.2l1.5,0.2l1.5,0.2l1.5,-1.1l1.5,-1.7l1.5,-0.3l1.5,0.2l1.5,0.4l1.5,0.1l1.5,-0.8l1.5,-0.2l1.5,0.9l1.5,-0.1l1.5,-1.4l1.5,-0.5l1.5,0l1.5,-0.3l1.5,0.3l1.5,0.6l1.5,-0.5l1.5,-0.1l1.5,0.3l1.5,-0.3l1.5,-0.1l1.5,0.1l1.5,-0.1l1.5,-0.2l1.5,0.2l1.5,0.4l1.5,0.2l1.5,0.1l1.5,0.3l1.5,0.3l1.5,-0.2l1.5,-0.2l1.5,-0.1l1.5,-0.2l1.5,0.3l1.5,0.4l1.5,-0.2l1.5,0.2l1.5,0.8l1.5,0.3l1.5,-0.8l1.5,-0.3l1.5,1l1.5,0.2l1.5,-0.2l1.5,0.5l1.5,-0.2l1.5,-0.2l1.5,0.6l1.5,0.5l1.5,-0.2l1.5,0.1l1.5,0.9l1.5,-0.5l1.5,-0.4l1.5,0.8l1.5,0.4l1.5,0l1.5,0.1l1.5,0.2l1.5,0.1l1.5,0l1.5,0.4l1.5,-0.2l1.5,-0.2l1.5,0.7l1.5,0.4l1.5,-0.3l1.5,0l1.5,0.1l1.5,-0.6l1.5,0.2l1.5,0.5l1.5,0l1.5,0.5l1.5,0.7l1.5,0.1l1.5,-0.6l1.5,0.1l1.5,-0.1l1.5,0.4l1.5,1.3l1.5,-0.5l1.5,-0.5l1.5,0.8l1.5,-0.5l1.5,-0.4l1.5,1l1.5,0.6l1.5,-0.5l1.5,0l1.5,0.2l1.5,0l1.5,0.4l1.5,0.1l1.5,-0.6l1.5,-0.2l1.5,0.4l1.5,0.5l1.5,0.8l1.5,0.3l1.5,0.1l1.5,-0.1l1.5,-0.2l1.5,-0.1l1.5,1l1.5,0.5l1.5,-0.8l1.5,-0.5l1.5,0.2l1.5,-0.1l1.5,0.2l1.5,0.3l1.5,0.6l1.5,0.5l1.5,-0.1l1.5,0l1.5,0.2l1.5,0l1.5,0.2l1.5,-0.7l1.5,-0.5l1.5,0.4l1.5,-0.1l1.5,-0.2l1.5,0l1.5,0.4l1.5,0.8l1.5,0l1.5,-0.8l1.5,-0.1l1.5,0.3l1.5,0l1.5,-0.4l1.5,0.1l1.5,0.3l1.5,0.4l1.5,0.8l1.5,0.2l1.5,-0.5l1.5,-0.5l1.5,-0.4l1.5,0.4l1.5,0.3l1.5,0.4l1.5,-0.3l1.5,-1.1l1.5,-0.1l1.5,0.4l1.5,0l1.5,-0.3l1.5,0.1l1.5,0.7l1.5,0.2l1.5,-0.4l1.5,-0.6l1.5,0.3l1.5,0.6l1.5,-0.6l1.5,-0.5l1.5,0.8l1.5,0.5l1.5,-0.2l1.5,-0.2l1.5,-0.3l1.5,-0.3l1.5,0.1l1.5,0.1l1.5,0.5l1.5,-0.1l1.5,-0.7l1.5,-0.1l1.5,0.5l1.5,0.5l1.5,-0.5l1.5,-0.7l1.5,0.4l1.5,1l1.5,-0.3l1.5,-1.4l1.5,0l1.5,0.6l1.5,-1l1.5,-0.2l1.5,1.1l1.5,0.2l1.5,-0.5l1.5,0.1l1.5,0.4l1.5,0.2l1.5,-0.2l1.5,-0.4l1.5,-0.6l1.5,-0.2l1.5,0.5l1.5,0.6l1.5,-0.4l1.5,-0.6l1.5,0.4l1.5,0.2l1.5,-0.6l1.5,-0.3l1.5,-0.5l1.5,-0.3l1.5,0.6l1.5,0.2l1.5,-0.2l1.5,-0.1l1.5,-0.5l1.5,-0.2l1.5,0.9l1.5,0.3l1.5,-0.7l1.5,0.2l1.5,0.6l1.5,0l1.5,-0.4l1.5,-1.4l1.5,-0.5l1.5,0.7l1.5,-0.1l1.5,-0.4l1.5,0.4l1.5,0.8l1.5,0l1.5,-0.6l1.5,0.2l1.5,-0.2l1.5,-0.3l1.5,-0.2l1.5,0.1l1.5,0.2l1.5,-0.3l1.5,-0.2l1.5,0.1l1.5,-0.4l1.5,-0.1l1.5,0.5l1.5,0l1.5,-0.3l1.5,0.1l1.5,-0.4l1.5,-0.9l1.5,-0.2l1.5,0.3l1.5,-0.4l1.5,-0.9l1.5,-0.3l1.5,0.1l1.5,0.5l1.5,0.8l1.5,0.4l1.5,-0.5l1.5,-0.8l1.5,-0.6l1.5,0.2l1.5,0.7l1.5,0.5l1.5,-0.9l1.5,-1l1.5,-0.5l1.5,-0.4l1.5,-0.3l1.5,0.2l1.5,0.6l1.5,0.4l1.5,-0.4l1.5,0.2l1.5,-0.1l1.5,-0.5l1.5,-0.1l1.5,-0.6l1.5,-0.8l1.5,-0.2l1.5,-0.2l1.5,-0.4l1.5,-0.1l1.5,0.1l1.5,-0.3l1.5,-0.6l1.5,-0.5l1.5,-0.4l1.5,0.4l1.5,0.3l1.5,-0.5l1.5,-0.2l1.5,-0.5l1.5,-0.8l1.5,-0.3l1.5,0.3l1.5,0l1.5,0.1l1.5,0l1.5,-0.9l1.5,-0.3l1.5,-0.2l1.5,-1.1l1.5,-1.1l1.5,-0.1l1.5,0.7l1.5,0.5l1.5,-0.3l1.5,-0.6l1.5,-0.2l1.5,-0.5l1.5,-0.6l1.5,0.4l1.5,0l1.5,0.1l1.5,0.5l1.5,-1l1.5,-0.9l1.5,0.5l1.5,0.6l1.5,-0.1l1.5,0.2l1.5,0.2l1.5,-0.7l1.5,-0.9l1.5,0.5l1.5,0.5l1.5,-1l1.5,-0.5l1.5,0.6l1.5,0.4l1.5,-0.1l1.5,-0.6l1.5,-0.5l1.5,0.3l1.5,-0.5l1.5,-0.6l1.5,1.1l1.5,0.1l1.5,-1.5l1.5,-0.3l1.5,-0.1l1.5,-1.7l1.5,-1.2l1.5,0.1l1.5,0.2l1.5,0.2l1.5,0.2l1.5,-0.7l1.5,-0.8l1.5,0.5l1.5,0.6l1.5,-0.5l1.5,-1l1.5,-0.8l1.5,-0.8l1.5,-0.9l1.5,-0.4l1.5,-0.4l1.5,-0.4l1.5,-1.2l1.5,-1.5l1.5,-0.3l1.5,-0.5l1.5,-1.8l1.5,-1.3l1.5,-1.2l1.5,-0.8l1.5,0.2l1.5,-0.3l1.5,-1.5l1.5,-1.6l1.5,-1.4l1.5,-1.4l1.5,-1.3l1.5,-0.5l1.5,-0.8l1.5,-1.7l1.5,-2l1.5,-1.4l1.5,-0.9l1.5,-0.8l1.5,-2.5l1.5,-2.5l1.5,-0.6l1.5,-0.6l1.5,-2l1.5,-2.3l1.5,-2.9l1.5,-3.3l1.5,-2.3l1.5,-1.5l1.5,-1.2l1.5,-1.6l1.5,-2.2l1.5,-2.4l1.5,-2.3l1.5,-2.8l1.5,-2.6l1.5,-2.2l1.5,-3.5l1.5,-3.6l1.5,-1.8l1.5,-2.4l1.5,-3.3l1.5,-2.1l1.5,-2.4l1.5,-3.5l1.5,-3.1l1.5,-2.7l1.5,-2.5l1.5,-2.7l1.5,-4l1.5,-4.6l1.5,-3.4l1.5,-2.3l1.5,-3.1l1.5,-4.4l1.5,-3.9l1.5,-3.6l1.5,-4.7l1.5,-5l1.5,-4.5l1.5,-3.1l1.5,-3.4l1.5,-5l1.5,-4.7l1.5,-4.1l1.5,-3.5l1.5,-3.5l1.5,-4.3l1.5,-3.9l1.5,-3.8l1.5,-3.9l1.5,-3.6l1.5,-4.4l1.5,-4.8l1.5,-4.4l1.5,-3.6l1.5,-3.2l1.5,-2.9l1.5,-2.5l1.5,-4.1l1.5,-5.3l1.5,-4.1l1.5,-3.9l1.5,-5.1l1.5,-3.8l1.5,-3.4l1.5,-4.6l1.5,-4.2l1.5,-3.4l1.5,-3.4l1.5,-3.6l1.5,-3.6l1.5,-3.4l1.5,-3.3l1.5,-3.2l1.5,-3.8l1.5,-3.8l1.5,-2.8l1.5,-2.1l1.5,-1.1l1.5,-1.3l1.5,-2.4l1.5,-2.9l1.5,-2.4l1.5,-1.8l1.5,-1.8l1.5,-2.2l1.5,-2l1.5,-1.1l1.5,-1.7l1.5,-3l1.5,-2.5l1.5,-2.3l1.5,-2.1l1.5,-3l1.5,-3.3l1.5,-1.8l1.5,-2.2l1.5,-3.7l1.5,-3.9l1.5,-4.9l1.5,-4.8l1.5,-3.6l1.5,-4.4l1.5,-4.9l1.5,-4l1.5,-4.9l1.5,-5.6l1.5,-5.7l1.5,-6.3l1.5,-6.7l1.5,-7.3l1.5,-7.8l1.5,-8l1.5,-8.1l1.5,-8.5l1.5,-9.3l1.5,-9.4l1.5,-8l1.5,-6.9l1.5,-6.4l1.5,-2.9l1.5,0.1l1.5,1.4l1.5,3.3l1.5,5.5l1.5,7.7l1.5,9l1.5,9.9l1.5,11.5l1.5,12.3l1.5,12l1.5,10.4l1.5,9.5l1.5,10.3l1.5,10.4l1.5,8.6l1.5,6.8l1.5,5.4l1.5,5.8l1.5,5.7l1.5,4.3l1.5,4l1.5,3.2l1.5,1.4l1.5,1.3l1.5,1.5l1.5,1.2l1.5,1.5l1.5,1.3l1.5,1.2l1.5,1.3l1.5,0.5l1.5,0l1.5,0.2l1.5,-0.1l1.5,0l1.5,0.4l1.5,0.9l1.5,1.5l1.5,1l1.5,0.3l1.5,0l1.5,0.1l1.5,0l1.5,0.4l1.5,1.3l1.5,0.5l1.5,0.3l1.5,0.5l1.5,0.2l1.5,0.8l1.5,0.9l1.5,0.6l1.5,1.2l1.5,1.8l1.5,1.5l1.5,1l1.5,0.3l1.5,0.4l1.5,1.1l1.5,1.6l1.5,2.2l1.5,2l1.5,0.9l1.5,0.7l1.5,1.6l1.5,1.4l1.5,1.3l1.5,2l1.5,1.9l1.5,1.3l1.5,1.8l1.5,2l1.5,1.7l1.5,2.3l1.5,3l1.5,2.8l1.5,2.4l1.5,1.2l1.5,2.1l1.5,3.9l1.5,2.9l1.5,1.6l1.5,2.2l1.5,2.8l1.5,2.6l1.5,2.5l1.5,2.6l1.5,2.7l1.5,2.7l1.5,3.6l1.5,3.8l1.5,2.6l1.5,2.7l1.5,2.4l1.5,2.5l1.5,3.4l1.5,4.1l1.5,3.8l1.5,3.1l1.5,2.4l1.5,3.1l1.5,4l1.5,4.1l1.5,3l1.5,1.7l1.5,1.9l1.5,3.2l1.5,4l1.5,2.5l1.5,2l1.5,1.9l1.5,1.3l1.5,2.6l1.5,3.4l1.5,2.1l1.5,1.1l1.5,1.4l1.5,2.5l1.5,1.8l1.5,0.6l1.5,1.1l1.5,1.6l1.5,1.4l1.5,1l1.5,0.4l1.5,0.4l1.5,0.4l1.5,0.1l1.5,-0.1l1.5,0l1.5,-0.6l1.5,-1.5l1.5,-1.3l1.5,-1.7l1.5,-3.1l1.5,-3.8l1.5,-4.1l1.5,-5.8l1.5,-7.1l1.5,-8.5l1.5,-9.7l1.5,-9.8l1.5,-10.9l1.5,-13.3l1.5,-14.1l1.5,-13.4l1.5,-13.3l1.5,-12.7l1.5,-11.7l1.5,-10.1l1.5,-7.6l1.5,-5.8l1.5,-3.2l1.5,-0.2l1.5,2.5l1.5,4.2l1.5,6.1l1.5,8.7l1.5,10.7l1.5,12.9l1.5,14.3l1.5,14l1.5,13.3l1.5,12.6l1.5,12.3l1.5,11.9l1.5,11.2l1.5,9.3l1.5,8.3l1.5,7.7l1.5,4.9l1.5,4l1.5,4.6l1.5,3.7l1.5,2.6l1.5,3l1.5,3.8l1.5,3.7l1.5,3.9l1.5,3.1l1.5,2l1.5,2.6l1.5,3.2l1.5,3.1l1.5,2.1l1.5,1.2l1.5,1.1l1.5,1.8l1.5,1.1l1.5,0.1l1.5,0.9l1.5,1.3l1.5,0.7l1.5,1.3l1.5,1.7l1.5,0.9l1.5,0l1.5,0.7l1.5,1.6l1.5,0.5l1.5,0l1.5,0.9l1.5,2l1.5,2.3l1.5,1.2l1.5,0.5l1.5,1.2l1.5,2.2l1.5,1.6l1.5,1.6l1.5,2.1l1.5,1.7l1.5,1.9l1.5,1l1.5,-0.1l1.5,0.5l1.5,0.5l1.5,0.9l1.5,0.3l1.5,-0.2l1.5,0.3l1.5,-0.7l1.5,-0.9l1.5,0.3l1.5,0l1.5,-0.9l1.5,-0.5l1.5,0.1l1.5,0.5l1.5,-0.2l1.5,-0.4l1.5,-0.2l1.5,-0.7l1.5,0.4l1.5,1l1.5,0.1l1.5,0.3l1.5,0l1.5,0l1.5,0.8l1.5,1l1.5,0.6l1.5,0.6l1.5,0.8l1.5,1.1l1.5,1.9l1.5,1.8l1.5,0.7l1.5,0.6l1.5,1.6l1.5,0.9l1.5,0.5l1.5,1.6l1.5,1.6l1.5,0.9l1.5,0.8l1.5,0.8l1.5,0.4l1.5,-0.4l1.5,-0.3l1.5,1.1l1.5,1.4l1.5,0.9l1.5,1.1l1.5,0.8l1.5,0.8l1.5,0.7l1.5,0l1.5,0.5l1.5,0.2l1.5,0.4l1.5,0.8l1.5,0.6l1.5,0.3l1.5,0l1.5,0.2l1.5,0.3l1.5,0.3l1.5,0l1.5,0.1l1.5,0.3l1.5,-0.5l1.5,0.1l1.5,1.2l1.5,0.4l1.5,-0.2l1.5,0.3l1.5,0l1.5,-1.3l1.5,-0.7l1.5,0.5l1.5,0.8l1.5,0.4l1.5,0.2l1.5,-0.1l1.5,-0.9l1.5,-0.7l1.5,0.7l1.5,1.6l1.5,0.4l1.5,-0.4l1.5,0l1.5,0.5l1.5,0.7l1.5,0.2l1.5,0.3l1.5,1.6l1.5,1.5l1.5,1.2l1.5,1.3l1.5,1l1.5,0.8l1.5,0.1l1.5,-0.5l1.5,1.4l1.5,1.7l1.5,0l1.5,0.4l1.5,0.6l1.5,0l1.5,-0.2l1.5,-1.2l1.5,-1.3l1.5,-0.7l1.5,-0.6l1.5,-0.5l1.5,-1l1.5,-1.6l1.5,-1.3l1.5,-0.9l1.5,-2.3l1.5,-2.4l1.5,-1.8l1.5,-2.2l1.5,-2l1.5,-1.3l1.5,-1.1l1.5,-1.4l1.5,-1.8l1.5,-2.1l1.5,-0.9l1.5,-0.1l1.5,-0.9l1.5,-0.6l1.5,0.4l1.5,-0.1l1.5,-0.5l1.5,0.5l1.5,1.5l1.5,0.9l1.5,1.1l1.5,1.7l1.5,1.9l1.5,3.1l1.5,3.2l1.5,1.9l1.5,1.9l1.5,2.4l1.5,1.8l1.5,1.5l1.5,2.2l1.5,2.4l1.5,2.7l1.5,1.5l1.5,0.4l1.5,1.7l1.5,2l1.5,0.7l1.5,-0.2l1.5,0.1l1.5,0.5l1.5,0.2l1.5,0.9l1.5,1.7l1.5,0.6l1.5,-0.2l1.5,-0.2l1.5,-0.4l1.5,0.4l1.5,0.9l1.5,0.1l1.5,-0.5l1.5,-0.1l1.5,0.9l1.5,0.6l1.5,-0.4l1.5,0.5l1.5,1.1l1.5,-0.2l1.5,-0.7l1.5,-0.3l1.5,0.2l1.5,0.9l1.5,0.6l1.5,0l1.5,0.1l1.5,-0.6l1.5,-0.1l1.5,0.5l1.5,-0.5l1.5,-0.6l1.5,0.1l1.5,-0.4l1.5,-0.9l1.5,-0.2l1.5,0l1.5,-0.3l1.5,-0.3l1.5,-0.9l1.5,-0.7l1.5,-0.1l1.5,-0.3l1.5,-0.5l1.5,-0.6l1.5,-0.8l1.5,-0.6l1.5,-1l1.5,-0.6l1.5,0.4l1.5,0.3l1.5,-1l1.5,-1l1.5,-0.2l1.5,-0.8l1.5,-0.7l1.5,0.2l1.5,0.3l1.5,-0.1l1.5,-0.3l1.5,0.4l1.5,0.6l1.5,0.2l1.5,0.2l1.5,0.7l1.5,1.2l1.5,1l1.5,0.8l1.5,0.7l1.5,0.8l1.5,0.9l1.5,1.7l1.5,1.7l1.5,1.2l1.5,1.3l1.5,1.4l1.5,1.2l1.5,0.1l1.5,0.5l1.5,1.6l1.5,1l1.5,0.8l1.5,1.3l1.5,1.1l1.5,0.4l1.5,0.2l1.5,0.5l1.5,1l1.5,0.5l1.5,-0.3l1.5,0.1l1.5,0.2l1.5,-0.7l1.5,0.8l1.5,1.3l1.5,-0.2l1.5,0.1l1.5,0.1l1.5,-0.5l1.5,-0.2l1.5,0.8l1.5,0.7l1.5,-0.2l1.5,0.4l1.5,0.8l1.5,0.1l1.5,-0.5l1.5,0l1.5,-0.2l1.5,-1.3l1.5,-0.4l1.5,0.3l1.5,-0.7l1.5,-0.2l1.5,0.7l1.5,-0.3l1.5,-1.1l1.5,-0.5l1.5,0.2l1.5,0.7l1.5,-0.4l1.5,-1.6l1.5,-1.1l1.5,-0.9l1.5,-0.1l1.5,0.6l1.5,0.6l1.5,-0.8l1.5,-1.3l1.5,-0.5l1.5,-0.1l1.5,0l1.5,0l1.5,0.3l1.5,0.2l1.5,-1l1.5,-1.7l1.5,-0.7l1.5,0.7l1.5,0.6l1.5,-0.5l1.5,-0.4l1.5,-0.2l1.5,-0.6l1.5,0.1l1.5,0.8l1.5,0l1.5,0l1.5,0.2l1.5,-0.2l1.5,-0.1l1.5,0.5l1.5,0.7l1.5,-0.1l1.5,-0.4l1.5,0.6l1.5,1.4l1.5,0.4l1.5,-0.6l1.5,0.1l1.5,0.7l1.5,0.6l1.5,0.7l1.5,0.6l1.5,-0.2l1.5,-0.5l1.5,0.3l1.5,0.9l1.5,1.1l1.5,1.3l1.5,-0.3l1.5,-1l1.5,0l1.5,-0.3l1.5,0.4l1.5,1.5l1.5,0.5l1.5,0.1l1.5,0.6l1.5,-0.4l1.5,-0.1l1.5,1.1l1.5,0.4l1.5,-0.1l1.5,0.3l1.5,0.3l1.5,0l1.5,-0.4l1.5,-0.7l1.5,0.5l1.5,0.9l1.5,0.2l1.5,0.5l1.5,0.3l1.5,-0.5l1.5,0.3l1.5,0.7l1.5,0l1.5,0l1.5,-0.2l1.5,-0.9l1.5,-1.1l1.5,-0.9l1.5,-0.2l1.5,0.6l1.5,0l1.5,-0.4l1.5,-0.3l1.5,-0.4l1.5,-0.1l1.5,-0.4l1.5,-0.7l1.5,-0.4l1.5,0.2l1.5,-0.1l1.5,-1.5l1.5,-0.3l1.5,0.5l1.5,-0.7l1.5,-0.6l1.5,-0.4l1.5,-1.6l1.5,-0.9l1.5,0.3" fill="none" stroke="#FF0000" stroke-width="2.2" stroke-linejoin="round"/>
<path d="M366.0,2579.4l1.5,-0.3l1.5,-0.7l1.5,0l1.5,1.6l1.5,0.4l1.5,-0.7l1.5,0.1l1.5,-0.2l1.5,-0.2l1.5,0.3l1.5,-0.3l1.5,-0.5l1.5,0.1l1.5,0.4l1.5,0.2l1.5,-0.1l1.5,-0.3l1.5,-0.2l1.5,0.2l1.5,0.4l1.5,0.2l1.5,-0.1l1.5,-0.3l1.5,-0.3l1.5,1l1.5,0.2l1.5,-1.8l1.5,-1l1.5,0.8l1.5,1.1l1.5,0.5l1.5,0.3l1.5,-0.1l1.5,-0.4l1.5,-0.2l1.5,0l1.5,-0.1l1.5,-0.6l1.5,0l1.5,1l1.5,0.3l1.5,-1l1.5,-0.8l1.5,0.6l1.5,0.7l1.5,0.2l1.5,-0.4l1.5,-0.5l1.5,0.8l1.5,0l1.5,-0.9l1.5,0.5l1.5,0.7l1.5,-0.1l1.5,0.6l1.5,0.4l1.5,-1l1.5,-1l1.5,0l1.5,0.4l1.5,-0.1l1.5,-0.2l1.5,0.3l1.5,-0.1l1.5,-0.9l1.5,-0.9l1.5,0.3l1.5,1.5l1.5,0.7l1.5,0.1l1.5,-0.7l1.5,-0.5l1.5,0.4l1.5,-0.3l1.5,-0.7l1.5,0.6l1.5,1.1l1.5,0l1.5,-0.6l1.5,-0.5l1.5,0.1l1.5,0.4l1.5,-0.3l1.5,-0.4l1.5,-0.1l1.5,0l1.5,0.7l1.5,0.3l1.5,-0.3l1.5,0.2l1.5,-0.3l1.5,-0.5l1.5,-0.1l1.5,0.1l1.5,0.2l1.5,-0.3l1.5,-0.3l1.5,-0.1l1.5,-0.3l1.5,-0.1l1.5,0.7l1.5,0.9l1.5,0.4l1.5,0.4l1.5,0.4l1.5,-0.9l1.5,-0.4l1.5,0.2l1.5,-0.4l1.5,-0.2l1.5,-0.2l1.5,-0.5l1.5,-0.1l1.5,0.6l1.5,0l1.5,0l1.5,0.9l1.5,0l1.5,-0.8l1.5,-0.5l1.5,0.1l1.5,0.4l1.5,0.4l1.5,-0.1l1.5,-0.8l1.5,-0.3l1.5,-0.2l1.5,-0.3l1.5,0.3l1.5,0.7l1.5,0.7l1.5,0l1.5,-0.7l1.5,-0.1l1.5,0.5l1.5,0.5l1.5,-0.4l1.5,-0.7l1.5,-0.6l1.5,-0.1l1.5,0.4l1.5,0.1l1.5,-0.3l1.5,-0.3l1.5,0.3l1.5,0.4l1.5,0.5l1.5,-0.1l1.5,-0.5l1.5,-0.5l1.5,-0.1l1.5,-0.1l1.5,-0.1l1.5,0.3l1.5,0.1l1.5,0.3l1.5,0.3l1.5,-0.1l1.5,-0.8l1.5,-0.8l1.5,0l1.5,0l1.5,-0.2l1.5,0.7l1.5,0.1l1.5,-0.1l1.5,0.5l1.5,-0.1l1.5,-0.9l1.5,-0.6l1.5,0.2l1.5,-0.2l1.5,-0.4l1.5,0.4l1.5,-0.7l1.5,-1.2l1.5,-0.2l1.5,0.2l1.5,0.5l1.5,-0.3l1.5,-1.4l1.5,-0.5l1.5,0.2l1.5,0.3l1.5,0.3l1.5,-0.5l1.5,-0.9l1.5,-0.8l1.5,-0.9l1.5,0.4l1.5,0.3l1.5,-0.9l1.5,-0.5l1.5,0.6l1.5,0.3l1.5,-1.2l1.5,-0.8l1.5,-0.1l1.5,-0.8l1.5,-0.2l1.5,0.3l1.5,-0.2l1.5,-0.2l1.5,0.2l1.5,-0.8l1.5,-1.6l1.5,-0.4l1.5,1.1l1.5,0.9l1.5,-0.3l1.5,-0.6l1.5,0l1.5,0.3l1.5,0l1.5,-0.5l1.5,-0.1l1.5,0.9l1.5,-0.1l1.5,-0.4l1.5,0.8l1.5,-0.1l1.5,-1.5l1.5,-0.4l1.5,1l1.5,0.4l1.5,-1l1.5,-0.1l1.5,0.8l1.5,0l1.5,0.5l1.5,1.7l1.5,0.3l1.5,-1.2l1.5,-0.7l1.5,-0.6l1.5,-0.6l1.5,0.4l1.5,0.1l1.5,-0.6l1.5,0.4l1.5,1l1.5,0.4l1.5,0.2l1.5,0l1.5,-0.7l1.5,-0.8l1.5,0.1l1.5,1l1.5,0.8l1.5,0.1l1.5,-0.2l1.5,-0.5l1.5,-0.1l1.5,0l1.5,0.6l1.5,1.4l1.5,0l1.5,-1.1l1.5,-0.2l1.5,0.1l1.5,0.1l1.5,0.3l1.5,-0.1l1.5,-0.1l1.5,0.2l1.5,0l1.5,-0.3l1.5,-0.1l1.5,0.4l1.5,0.6l1.5,0.5l1.5,0.8l1.5,0.8l1.5,-0.2l1.5,-0.4l1.5,-0.1l1.5,0.2l1.5,0.6l1.5,-0.3l1.5,-0.6l1.5,0.8l1.5,-0.3l1.5,-1.3l1.5,0.3l1.5,0.4l1.5,-0.4l1.5,0.2l1.5,0.8l1.5,0.8l1.5,1.1l1.5,0.4l1.5,-0.5l1.5,-0.2l1.5,0l1.5,-0.5l1.5,-0.8l1.5,-0.5l1.5,1l1.5,1.4l1.5,0.7l1.5,-0.3l1.5,-0.6l1.5,0l1.5,0.9l1.5,0.1l1.5,-0.9l1.5,-0.4l1.5,0.3l1.5,0.9l1.5,0l1.5,-0.4l1.5,0.2l1.5,0l1.5,-0.7l1.5,-0.7l1.5,-0.3l1.5,0.4l1.5,1.6l1.5,0.5l1.5,-1.2l1.5,0.1l1.5,0.3l1.5,-0.4l1.5,-0.1l1.5,0.3l1.5,0.4l1.5,-0.2l1.5,0.1l1.5,0.2l1.5,-0.8l1.5,-0.8l1.5,0.7l1.5,0.8l1.5,0l1.5,-0.4l1.5,-0.3l1.5,0.5l1.5,0.4l1.5,0.3l1.5,0.3l1.5,-0.9l1.5,-1.2l1.5,0.2l1.5,1l1.5,0.4l1.5,0.1l1.5,0.3l1.5,0.4l1.5,-0.3l1.5,-0.9l1.5,0.2l1.5,-0.1l1.5,-0.3l1.5,0.8l1.5,0.5l1.5,-0.5l1.5,-0.6l1.5,-0.4l1.5,-0.4l1.5,0.1l1.5,0.1l1.5,0.1l1.5,0l1.5,0.5l1.5,0l1.5,-0.5l1.5,-0.3l1.5,-1l1.5,-0.4l1.5,1.1l1.5,0.8l1.5,-0.3l1.5,-0.6l1.5,0.3l1.5,0.8l1.5,0.3l1.5,-0.3l1.5,-0.4l1.5,-0.5l1.5,-0.1l1.5,0.4l1.5,0.1l1.5,-0.6l1.5,0l1.5,1.1l1.5,0.7l1.5,-0.5l1.5,-0.6l1.5,0l1.5,0.4l1.5,0.4l1.5,0.1l1.5,-0.8l1.5,-1l1.5,-0.3l1.5,-0.2l1.5,0.4l1.5,1.1l1.5,-0.1l1.5,-0.5l1.5,0.7l1.5,-0.4l1.5,-0.7l1.5,0.2l1.5,-0.1l1.5,-0.8l1.5,-0.4l1.5,0.8l1.5,-0.1l1.5,-0.7l1.5,0.9l1.5,0.6l1.5,-0.4l1.5,-0.2l1.5,-0.2l1.5,-0.3l1.5,0.5l1.5,0.3l1.5,-0.6l1.5,0.1l1.5,0.1l1.5,-0.5l1.5,-0.4l1.5,-0.3l1.5,0.2l1.5,0.7l1.5,0.1l1.5,0.4l1.5,0.8l1.5,-0.7l1.5,-0.8l1.5,-0.1l1.5,0.2l1.5,0.4l1.5,-0.1l1.5,0.5l1.5,-0.3l1.5,-0.7l1.5,0l1.5,0.5l1.5,0.5l1.5,-0.9l1.5,-1.5l1.5,-0.6l1.5,0.2l1.5,0.4l1.5,-0.1l1.5,-0.2l1.5,0.4l1.5,0.8l1.5,0.1l1.5,-1l1.5,-0.4l1.5,-0.1l1.5,-0.4l1.5,0l1.5,0.7l1.5,0.6l1.5,-0.2l1.5,-0.1l1.5,0.3l1.5,0l1.5,-0.3l1.5,-0.2l1.5,-0.1l1.5,0.3l1.5,0l1.5,-0.8l1.5,0l1.5,0.9l1.5,0.7l1.5,0.1l1.5,-1l1.5,-0.7l1.5,-0.3l1.5,-0.1l1.5,-0.2l1.5,-0.8l1.5,-0.3l1.5,0l1.5,-0.1l1.5,0l1.5,0l1.5,-0.5l1.5,-0.8l1.5,-1l1.5,-0.8l1.5,-0.2l1.5,0.4l1.5,0.2l1.5,-0.7l1.5,-0.4l1.5,0.2l1.5,-0.4l1.5,-0.4l1.5,0.3l1.5,-0.4l1.5,-1.2l1.5,0.1l1.5,0.8l1.5,-0.2l1.5,-0.5l1.5,0.5l1.5,0.5l1.5,-0.3l1.5,0l1.5,-0.1l1.5,-0.5l1.5,-0.2l1.5,-0.4l1.5,-0.6l1.5,0.1l1.5,0.5l1.5,-0.4l1.5,-0.7l1.5,0.3l1.5,1.1l1.5,-0.2l1.5,-1.1l1.5,-0.9l1.5,-0.2l1.5,0.6l1.5,-0.1l1.5,-0.4l1.5,0.6l1.5,-0.1l1.5,-1.1l1.5,-0.5l1.5,0.2l1.5,0.1l1.5,-0.7l1.5,-0.2l1.5,0.7l1.5,0.3l1.5,-0.1l1.5,-0.4l1.5,-0.9l1.5,-0.3l1.5,0l1.5,-0.4l1.5,-1l1.5,-0.7l1.5,-0.4l1.5,-0.6l1.5,-0.9l1.5,-0.6l1.5,0l1.5,-0.4l1.5,-0.4l1.5,0l1.5,0.3l1.5,-0.1l1.5,-1.5l1.5,-1.6l1.5,-0.5l1.5,-0.5l1.5,-0.7l1.5,-1.2l1.5,-1.2l1.5,-0.9l1.5,-1.4l1.5,-1.4l1.5,-0.7l1.5,-0.1l1.5,-0.8l1.5,-1.8l1.5,-1.5l1.5,-0.8l1.5,-0.9l1.5,-1.1l1.5,-1.9l1.5,-1.8l1.5,-0.9l1.5,-1.6l1.5,-2.5l1.5,-2.3l1.5,-2.1l1.5,-1.7l1.5,-1.4l1.5,-1.6l1.5,-1.6l1.5,-1.7l1.5,-1.5l1.5,-1.6l1.5,-2l1.5,-2.6l1.5,-1.8l1.5,-0.7l1.5,-1.6l1.5,-2.6l1.5,-2.5l1.5,-3l1.5,-2.5l1.5,-1.1l1.5,-1.8l1.5,-3.4l1.5,-2.5l1.5,-2.2l1.5,-3.3l1.5,-2.4l1.5,-2.5l1.5,-3.3l1.5,-2.3l1.5,-2.6l1.5,-4.2l1.5,-3.7l1.5,-3l1.5,-3.5l1.5,-2.9l1.5,-2.1l1.5,-3.6l1.5,-4.4l1.5,-2.8l1.5,-2.2l1.5,-3.3l1.5,-3.8l1.5,-2.9l1.5,-2.7l1.5,-3.2l1.5,-4l1.5,-3.7l1.5,-2.6l1.5,-3l1.5,-2.9l1.5,-3.4l1.5,-5.2l1.5,-4.4l1.5,-3l1.5,-3.5l1.5,-4l1.5,-3l1.5,-2.5l1.5,-3.9l1.5,-3.9l1.5,-2.9l1.5,-2.6l1.5,-2.4l1.5,-3l1.5,-3l1.5,-2.5l1.5,-2.7l1.5,-2.3l1.5,-2.6l1.5,-3.5l1.5,-3l1.5,-1.9l1.5,-1.9l1.5,-2.5l1.5,-2.2l1.5,-1.8l1.5,-1.4l1.5,-1.7l1.5,-2.1l1.5,-1.7l1.5,-1.5l1.5,-1.7l1.5,-1.4l1.5,-1.6l1.5,-2.3l1.5,-2.6l1.5,-1.8l1.5,-1.2l1.5,-2.9l1.5,-4l1.5,-2.6l1.5,-1.7l1.5,-3.1l1.5,-4.1l1.5,-4.2l1.5,-4.6l1.5,-3.7l1.5,-4.1l1.5,-5.3l1.5,-4.3l1.5,-3.6l1.5,-4.9l1.5,-6l1.5,-5.4l1.5,-5.7l1.5,-7.7l1.5,-7.9l1.5,-7.2l1.5,-7.3l1.5,-7.7l1.5,-8.6l1.5,-7.8l1.5,-6.4l1.5,-6.6l1.5,-4.9l1.5,-2.7l1.5,-1.2l1.5,0.7l1.5,3l1.5,4.7l1.5,6.5l1.5,8.9l1.5,10l1.5,10.4l1.5,10.5l1.5,10.7l1.5,11.1l1.5,9.2l1.5,7.4l1.5,8.1l1.5,6.8l1.5,6l1.5,6.4l1.5,5.2l1.5,4l1.5,3.9l1.5,4l1.5,2.8l1.5,1.8l1.5,1.5l1.5,1.2l1.5,0.8l1.5,0.8l1.5,0.8l1.5,0.7l1.5,1l1.5,0.8l1.5,0.4l1.5,1l1.5,-0.1l1.5,-1.4l1.5,-0.2l1.5,0.4l1.5,-0.2l1.5,0l1.5,0.5l1.5,0.3l1.5,-0.1l1.5,0.1l1.5,-0.5l1.5,0.1l1.5,1.1l1.5,0.1l1.5,-0.2l1.5,0.4l1.5,-0.4l1.5,0.1l1.5,1l1.5,0.3l1.5,0.8l1.5,1.5l1.5,1.5l1.5,0.8l1.5,0l1.5,0.2l1.5,1.3l1.5,2.1l1.5,1.5l1.5,0.3l1.5,0.5l1.5,1.3l1.5,0.8l1.5,0.8l1.5,1.4l1.5,1.6l1.5,1.4l1.5,1.6l1.5,1.5l1.5,0.3l1.5,-0.2l1.5,1.6l1.5,2.7l1.5,2.7l1.5,2.2l1.5,1.1l1.5,1.5l1.5,2.4l1.5,1.8l1.5,1.4l1.5,1.5l1.5,1.3l1.5,2.2l1.5,2.4l1.5,1.7l1.5,2.5l1.5,2.4l1.5,2.1l1.5,2.1l1.5,1.2l1.5,0.9l1.5,2.3l1.5,3.2l1.5,2.7l1.5,1.7l1.5,2.2l1.5,3.1l1.5,2.6l1.5,1.3l1.5,2.2l1.5,2.7l1.5,2.1l1.5,2.6l1.5,2.2l1.5,1.7l1.5,2.4l1.5,2.4l1.5,2.8l1.5,3.1l1.5,2.7l1.5,2l1.5,1.9l1.5,2.3l1.5,2.8l1.5,2.4l1.5,1.6l1.5,2.5l1.5,2.3l1.5,2l1.5,2.2l1.5,1.6l1.5,0.9l1.5,0.6l1.5,0.8l1.5,0.2l1.5,-0.1l1.5,0.2l1.5,-0.2l1.5,-1.1l1.5,-1.8l1.5,-2.3l1.5,-2.7l1.5,-3.1l1.5,-3.6l1.5,-4.6l1.5,-4.9l1.5,-6.5l1.5,-9.3l1.5,-9.6l1.5,-10.6l1.5,-12.1l1.5,-11.7l1.5,-11l1.5,-11.2l1.5,-12.1l1.5,-11.4l1.5,-8.9l1.5,-6l1.5,-4.1l1.5,-2.7l1.5,-0.1l1.5,2.6l1.5,4.2l1.5,6.6l1.5,8.4l1.5,10l1.5,12.3l1.5,13l1.5,12.4l1.5,11.7l1.5,12.3l1.5,12.6l1.5,11.2l1.5,9.7l1.5,8.1l1.5,7.4l1.5,6.8l1.5,5.7l1.5,4.9l1.5,4.4l1.5,3.7l1.5,1.9l1.5,1.4l1.5,2.4l1.5,1.5l1.5,0.2l1.5,0.8l1.5,1.5l1.5,1l1.5,-0.1l1.5,0.2l1.5,1.2l1.5,1.7l1.5,0.8l1.5,0.2l1.5,1.5l1.5,0.8l1.5,0l1.5,0.5l1.5,0.4l1.5,0.3l1.5,0.2l1.5,0.4l1.5,0.2l1.5,0.5l1.5,1.3l1.5,1.4l1.5,1.9l1.5,1.5l1.5,0.8l1.5,1.2l1.5,1.1l1.5,1l1.5,2l1.5,1.9l1.5,1.2l1.5,0.6l1.5,1.1l1.5,2.2l1.5,2.4l1.5,1.7l1.5,1.3l1.5,0.6l1.5,0.3l1.5,0.2l1.5,-0.1l1.5,0.1l1.5,0.8l1.5,0.3l1.5,-1.5l1.5,-1l1.5,0.1l1.5,-0.6l1.5,-0.6l1.5,-0.4l1.5,-0.2l1.5,0.5l1.5,-0.5l1.5,-1.1l1.5,-0.5l1.5,-0.1l1.5,-0.2l1.5,-0.7l1.5,-0.7l1.5,-0.2l1.5,0.2l1.5,0l1.5,-0.2l1.5,0.3l1.5,1.3l1.5,1.1l1.5,-0.8l1.5,-1.2l1.5,1l1.5,1.8l1.5,1.7l1.5,1.7l1.5,0.1l1.5,-0.1l1.5,1.6l1.5,1.8l1.5,1.5l1.5,1.1l1.5,0.6l1.5,0.8l1.5,0.5l1.5,1.2l1.5,2l1.5,1.1l1.5,-0.7l1.5,0.1l1.5,1.4l1.5,1.3l1.5,1.1l1.5,0.1l1.5,0.6l1.5,1.6l1.5,0.9l1.5,0.3l1.5,0.4l1.5,1.1l1.5,0.6l1.5,0.2l1.5,-0.2l1.5,0l1.5,1l1.5,1.3l1.5,0.8l1.5,0l1.5,0l1.5,0.8l1.5,0.4l1.5,-0.8l1.5,-0.2l1.5,0l1.5,-0.3l1.5,0.2l1.5,0.2l1.5,-0.8l1.5,-0.3l1.5,0.4l1.5,0.5l1.5,0.9l1.5,0.4l1.5,-0.3l1.5,0.3l1.5,0.1l1.5,0.4l1.5,1.1l1.5,1l1.5,-0.2l1.5,-0.5l1.5,0.9l1.5,0.9l1.5,0l1.5,0.4l1.5,0.4l1.5,0l1.5,1.5l1.5,1.7l1.5,0.1l1.5,0.1l1.5,0.9l1.5,1.2l1.5,0.3l1.5,-0.8l1.5,-0.2l1.5,0.4l1.5,0l1.5,-0.1l1.5,-0.7l1.5,-1.2l1.5,-1.3l1.5,-0.9l1.5,-1.2l1.5,-1.2l1.5,-0.8l1.5,-0.7l1.5,-1.6l1.5,-2.1l1.5,-1.3l1.5,-1.2l1.5,-2.3l1.5,-2.8l1.5,-1.4l1.5,0.2l1.5,-0.5l1.5,-1.8l1.5,-1.2l1.5,0.2l1.5,-0.4l1.5,-1.1l1.5,-1l1.5,-0.1l1.5,0.8l1.5,0.8l1.5,1.5l1.5,1.5l1.5,1.3l1.5,1.6l1.5,1.1l1.5,1.6l1.5,1.9l1.5,1.4l1.5,1.7l1.5,2.3l1.5,1.7l1.5,1.3l1.5,1.6l1.5,2.5l1.5,2.3l1.5,0.8l1.5,0.4l1.5,0.6l1.5,0.6l1.5,1.1l1.5,1.6l1.5,0.6l1.5,-0.4l1.5,0.1l1.5,0.7l1.5,0.3l1.5,0.3l1.5,0.9l1.5,0.6l1.5,0.4l1.5,0.2l1.5,0.3l1.5,0.3l1.5,-0.1l1.5,0.4l1.5,0.5l1.5,-0.1l1.5,-0.2l1.5,-0.6l1.5,-0.1l1.5,0.7l1.5,0.5l1.5,0.6l1.5,0.3l1.5,0.1l1.5,0.1l1.5,-0.2l1.5,-0.1l1.5,-0.3l1.5,0.4l1.5,0.2l1.5,-1.2l1.5,-0.1l1.5,0.5l1.5,-0.1l1.5,-0.4l1.5,-1.3l1.5,-1.6l1.5,-0.9l1.5,-0.4l1.5,0.4l1.5,-0.3l1.5,-1.5l1.5,-1l1.5,-1.3l1.5,-1.3l1.5,-0.8l1.5,-0.8l1.5,-0.3l1.5,0.2l1.5,0l1.5,-0.6l1.5,-1.2l1.5,-0.5l1.5,-0.1l1.5,-1.2l1.5,-1.5l1.5,0.4l1.5,0.9l1.5,-0.2l1.5,0.5l1.5,0.3l1.5,-0.4l1.5,0.9l1.5,1.3l1.5,0.3l1.5,0.5l1.5,1.3l1.5,1.5l1.5,1.5l1.5,1l1.5,0.8l1.5,1.1l1.5,0.9l1.5,0.8l1.5,1.2l1.5,2l1.5,2l1.5,1.1l1.5,0.8l1.5,0.8l1.5,1.4l1.5,1.1l1.5,1.1l1.5,1.7l1.5,1.2l1.5,1.1l1.5,0.2l1.5,-0.3l1.5,0.4l1.5,0.4l1.5,0.1l1.5,-0.1l1.5,-0.7l1.5,-0.4l1.5,-0.3l1.5,-0.2l1.5,0.4l1.5,0.4l1.5,0l1.5,-0.4l1.5,-0.2l1.5,-0.4l1.5,-1l1.5,-0.1l1.5,0.6l1.5,0.4l1.5,0l1.5,-0.5l1.5,-0.4l1.5,-0.5l1.5,-0.8l1.5,-0.8l1.5,-0.2l1.5,1.2l1.5,0.1l1.5,-1.6l1.5,-1.4l1.5,-0.9l1.5,0.1l1.5,0.7l1.5,-0.4l1.5,-0.8l1.5,-0.2l1.5,0.2l1.5,0.4l1.5,-0.1l1.5,-0.6l1.5,-0.4l1.5,-0.8l1.5,-0.8l1.5,0.4l1.5,0.5l1.5,-0.5l1.5,-0.7l1.5,0.2l1.5,0l1.5,0.2l1.5,-0.1l1.5,-1.3l1.5,-0.1l1.5,0.6l1.5,-0.5l1.5,-0.1l1.5,0.7l1.5,0.2l1.5,0.2l1.5,0l1.5,0.1l1.5,0.9l1.5,0.5l1.5,-0.3l1.5,0.3l1.5,0.2l1.5,-0.4l1.5,-0.2l1.5,-0.3l1.5,0.4l1.5,0.8l1.5,0.7l1.5,0.3l1.5,-0.5l1.5,0.1l1.5,0.6l1.5,0.9l1.5,0.6l1.5,0l1.5,0.5l1.5,0.2l1.5,0.5l1.5,0.9l1.5,0.3l1.5,0.4l1.5,0.2l1.5,0l1.5,-0.2l1.5,-0.2l1.5,0.8l1.5,1.1l1.5,0.1l1.5,0.1l1.5,1.1l1.5,0.2l1.5,-0.9l1.5,0.3l1.5,0.5l1.5,-0.3l1.5,0.3l1.5,0.7l1.5,0.3l1.5,0.2l1.5,0l1.5,-0.4l1.5,0.5l1.5,0.6l1.5,-1l1.5,-0.2l1.5,0.3l1.5,0.3l1.5,0.5l1.5,0l1.5,-0.8l1.5,-0.7l1.5,1.2l1.5,0.4l1.5,-0.5l1.5,0.3l1.5,0.2l1.5,0.3l1.5,0.1l1.5,-1l1.5,-0.9l1.5,-0.2l1.5,-0.3l1.5,-0.2l1.5,0.1l1.5,0.5l1.5,0.9l1.5,-0.3l1.5,-0.6l1.5,-0.2l1.5,-0.9l1.5,-0.2l1.5,0.5" fill="none" stroke="#0000FF" stroke-width="2.2" stroke-linejoin="round"/>
<path d="M366.0,2680.4l1.5,-1.1l1.5,0.1l1.5,0.3l1.5,-0.2l1.5,-0.3l1.5,-0.4l1.5,0.3l1.5,1.3l1.5,1.2l1.5,-0.7l1.5,-1.1l1.5,-0.3l1.5,-0.3l1.5,-0.1l1.5,0.5l1.5,0.4l1.5,0.2l1.5,0.2l1.5,-0.3l1.5,0.2l1.5,0.6l1.5,-0.4l1.5,-0.7l1.5,0l1.5,0.9l1.5,0.4l1.5,-0.9l1.5,-0.2l1.5,0.1l1.5,-0.5l1.5,0.1l1.5,0.8l1.5,0l1.5,-0.2l1.5,-0.8l1.5,-0.7l1.5,0.6l1.5,-0.2l1.5,-0.5l1.5,1l1.5,0.5l1.5,-0.7l1.5,-0.4l1.5,0.4l1.5,0.7l1.5,0.6l1.5,-0.1l1.5,-0.3l1.5,0l1.5,-0.7l1.5,-0.3l1.5,0.6l1.5,0.2l1.5,-0.6l1.5,-0.3l1.5,-0.3l1.5,-0.4l1.5,1l1.5,0.1l1.5,-0.7l1.5,0l1.5,0.4l1.5,-0.1l1.5,-0.8l1.5,0.3l1.5,1.3l1.5,-0.2l1.5,-1.2l1.5,0.2l1.5,0.6l1.5,0.3l1.5,0.2l1.5,-0.5l1.5,-0.3l1.5,0.3l1.5,0.6l1.5,-0.2l1.5,-1l1.5,0.1l1.5,1.2l1.5,0.4l1.5,-0.1l1.5,0l1.5,-0.6l1.5,-0.8l1.5,-0.4l1.5,0.5l1.5,0.4l1.5,-0.7l1.5,-0.2l1.5,0.5l1.5,0.5l1.5,-0.2l1.5,-1l1.5,-0.3l1.5,1.1l1.5,1l1.5,-0.1l1.5,-0.5l1.5,-0.3l1.5,0l1.5,0.2l1.5,0l1.5,-0.4l1.5,0l1.5,0.3l1.5,0.2l1.5,0.6l1.5,0.9l1.5,0.1l1.5,-1.3l1.5,-1.5l1.5,-0.1l1.5,0.6l1.5,-0.2l1.5,-0.3l1.5,1.1l1.5,0.2l1.5,-1.2l1.5,-0.5l1.5,0.4l1.5,0.7l1.5,0.9l1.5,0.4l1.5,-0.6l1.5,-0.3l1.5,0.4l1.5,0.4l1.5,0l1.5,-0.6l1.5,-0.9l1.5,-0.4l1.5,0.5l1.5,0.9l1.5,-0.1l1.5,-0.8l1.5,-0.1l1.5,0.1l1.5,-0.5l1.5,-0.1l1.5,1.3l1.5,0.7l1.5,-1l1.5,-1.1l1.5,-0.5l1.5,0.2l1.5,1.1l1.5,0.4l1.5,-0.3l1.5,-0.1l1.5,-0.1l1.5,-0.5l1.5,-0.6l1.5,0.2l1.5,0.4l1.5,-0.3l1.5,-0.2l1.5,0l1.5,0.5l1.5,0.4l1.5,-0.3l1.5,0l1.5,0.5l1.5,0.4l1.5,-0.6l1.5,-1l1.5,0.1l1.5,0.1l1.5,0l1.5,0.5l1.5,0.2l1.5,-0.4l1.5,-0.2l1.5,-0.2l1.5,-0.8l1.5,-0.4l1.5,0l1.5,0l1.5,0.6l1.5,0.2l1.5,-0.5l1.5,-1.2l1.5,-0.9l1.5,0.1l1.5,-0.2l1.5,-0.5l1.5,-0.2l1.5,0.2l1.5,-0.1l1.5,-0.6l1.5,-0.4l1.5,-0.8l1.5,-0.8l1.5,-0.3l1.5,-0.1l1.5,0.6l1.5,0.4l1.5,-0.4l1.5,0.1l1.5,0.1l1.5,-0.8l1.5,-0.7l1.5,-0.9l1.5,-0.4l1.5,0.1l1.5,-0.3l1.5,0.3l1.5,0.5l1.5,-0.1l1.5,-0.7l1.5,-0.5l1.5,0.1l1.5,-0.2l1.5,-0.1l1.5,0.1l1.5,-0.1l1.5,-0.2l1.5,-0.3l1.5,-0.3l1.5,-0.4l1.5,0.3l1.5,0.6l1.5,1.1l1.5,-0.2l1.5,-1.1l1.5,0.2l1.5,0.2l1.5,-0.1l1.5,0.3l1.5,-0.4l1.5,-0.6l1.5,0.6l1.5,0.5l1.5,-0.1l1.5,-0.1l1.5,0.7l1.5,0.1l1.5,-0.8l1.5,-0.1l1.5,0.4l1.5,0.6l1.5,0.7l1.5,-0.5l1.5,-0.9l1.5,0l1.5,1.2l1.5,0.8l1.5,-0.5l1.5,-0.4l1.5,0.2l1.5,0.5l1.5,0.5l1.5,-0.5l1.5,-0.2l1.5,0.2l1.5,-0.3l1.5,0l1.5,0.7l1.5,-0.1l1.5,-0.7l1.5,-0.3l1.5,0.3l1.5,0.9l1.5,0.6l1.5,0.2l1.5,0.1l1.5,-0.2l1.5,-0.2l1.5,0.2l1.5,0l1.5,-0.1l1.5,0.4l1.5,0.4l1.5,-0.5l1.5,-0.3l1.5,0.9l1.5,0.4l1.5,-0.7l1.5,-0.5l1.5,0.5l1.5,-0.1l1.5,-0.6l1.5,0.7l1.5,0.6l1.5,-0.2l1.5,0.5l1.5,-0.1l1.5,-0.6l1.5,-0.3l1.5,-0.4l1.5,0.8l1.5,0.9l1.5,0l1.5,0.3l1.5,0l1.5,-0.1l1.5,-0.8l1.5,-1l1.5,0.6l1.5,0.5l1.5,-0.5l1.5,0l1.5,0.7l1.5,-0.3l1.5,-0.5l1.5,0.7l1.5,0.8l1.5,0.1l1.5,0.6l1.5,0.4l1.5,-1l1.5,-1l1.5,-0.1l1.5,1l1.5,0.7l1.5,0l1.5,-0.3l1.5,-0.2l1.5,-0.1l1.5,-0.1l1.5,-0.4l1.5,-0.6l1.5,-0.1l1.5,0.4l1.5,0l1.5,0.4l1.5,0.7l1.5,0.8l1.5,0.9l1.5,-0.7l1.5,-1l1.5,0.2l1.5,-0.1l1.5,-0.2l1.5,0.2l1.5,-1.2l1.5,-0.7l1.5,1.1l1.5,0.8l1.5,0.2l1.5,-0.8l1.5,-0.1l1.5,0.6l1.5,-0.4l1.5,0.4l1.5,0.6l1.5,-0.5l1.5,-0.4l1.5,0.2l1.5,0l1.5,-0.3l1.5,0.3l1.5,0.8l1.5,0.2l1.5,-1.2l1.5,-0.6l1.5,0.4l1.5,0l1.5,0l1.5,0.4l1.5,0l1.5,-0.6l1.5,-0.9l1.5,-0.8l1.5,0.9l1.5,1.1l1.5,-0.5l1.5,-0.8l1.5,0.1l1.5,0.7l1.5,-0.1l1.5,-0.4l1.5,0.5l1.5,0.4l1.5,-0.3l1.5,0l1.5,0.5l1.5,-0.2l1.5,-0.8l1.5,-0.4l1.5,0.3l1.5,0.4l1.5,0l1.5,0.2l1.5,0.3l1.5,0.1l1.5,-0.4l1.5,-1.2l1.5,-0.7l1.5,0.8l1.5,0.7l1.5,-0.1l1.5,-0.3l1.5,-0.5l1.5,-0.5l1.5,0.3l1.5,0.8l1.5,-0.3l1.5,-0.9l1.5,-0.4l1.5,0.8l1.5,0.9l1.5,-0.5l1.5,-0.4l1.5,0.8l1.5,0.4l1.5,-0.3l1.5,-0.2l1.5,-0.1l1.5,-0.2l1.5,-0.5l1.5,-0.3l1.5,0.5l1.5,0.3l1.5,-0.5l1.5,-1.1l1.5,0.5l1.5,0.4l1.5,-0.4l1.5,0l1.5,0.3l1.5,-0.4l1.5,-0.6l1.5,0.2l1.5,0.8l1.5,0l1.5,-0.6l1.5,-0.4l1.5,0.3l1.5,-0.2l1.5,-1l1.5,-0.4l1.5,0.3l1.5,-0.2l1.5,0.1l1.5,0.5l1.5,-0.1l1.5,-0.3l1.5,-0.1l1.5,-0.4l1.5,0l1.5,-0.6l1.5,0.1l1.5,0.8l1.5,-0.3l1.5,-0.4l1.5,0.2l1.5,0.4l1.5,-0.1l1.5,0.1l1.5,0.1l1.5,-0.7l1.5,-0.4l1.5,0.4l1.5,0.8l1.5,0.4l1.5,-0.3l1.5,-0.8l1.5,-0.2l1.5,0.1l1.5,-0.1l1.5,0.2l1.5,-0.2l1.5,-0.7l1.5,-0.1l1.5,0.6l1.5,1.2l1.5,0.1l1.5,-1.2l1.5,-1.4l1.5,-0.6l1.5,0.6l1.5,0.2l1.5,-0.2l1.5,0l1.5,-0.5l1.5,0.1l1.5,0.1l1.5,-0.1l1.5,0.8l1.5,-0.1l1.5,-1.4l1.5,-0.2l1.5,0.9l1.5,-0.2l1.5,-0.6l1.5,0.1l1.5,0.3l1.5,0.2l1.5,0.4l1.5,0.3l1.5,0.5l1.5,-0.1l1.5,-0.5l1.5,0.1l1.5,0l1.5,-0.9l1.5,-0.7l1.5,0.3l1.5,0.5l1.5,0.2l1.5,-0.4l1.5,-0.3l1.5,0.3l1.5,0.2l1.5,-0.6l1.5,-0.6l1.5,-0.1l1.5,-0.1l1.5,0l1.5,0.1l1.5,0.4l1.5,0.3l1.5,-0.8l1.5,-0.5l1.5,0.1l1.5,-0.2l1.5,-0.7l1.5,-0.1l1.5,0.5l1.5,0.3l1.5,-0.4l1.5,-0.7l1.5,0l1.5,0.8l1.5,0.5l1.5,-0.6l1.5,-0.4l1.5,-0.4l1.5,-0.6l1.5,-0.2l1.5,0.2l1.5,0.1l1.5,-0.5l1.5,-0.3l1.5,1l1.5,0.3l1.5,-1l1.5,-0.3l1.5,0l1.5,-0.6l1.5,-0.5l1.5,0.2l1.5,-0.1l1.5,-0.3l1.5,-0.7l1.5,-1l1.5,-0.2l1.5,-0.4l1.5,-1.1l1.5,-0.8l1.5,-0.9l1.5,-0.5l1.5,0.5l1.5,-0.5l1.5,-0.9l1.5,-0.8l1.5,-1.4l1.5,-0.3l1.5,0.2l1.5,-1.6l1.5,-3.1l1.5,-1.7l1.5,0.7l1.5,0.5l1.5,-1.1l1.5,-1.1l1.5,-1l1.5,-1.4l1.5,-0.9l1.5,-0.8l1.5,-1.4l1.5,-1.8l1.5,-1.8l1.5,-1.4l1.5,-1.3l1.5,-0.6l1.5,-1.5l1.5,-3.5l1.5,-3l1.5,-1l1.5,-0.7l1.5,-1.2l1.5,-2.2l1.5,-2.9l1.5,-1.8l1.5,-1.4l1.5,-2l1.5,-1.6l1.5,-1.7l1.5,-1.7l1.5,-1.7l1.5,-1.9l1.5,-2.5l1.5,-2.7l1.5,-1.9l1.5,-1.9l1.5,-1.8l1.5,-2l1.5,-2.9l1.5,-2.9l1.5,-2.3l1.5,-1.8l1.5,-2.1l1.5,-2.3l1.5,-2l1.5,-2.4l1.5,-3.2l1.5,-2.8l1.5,-1.7l1.5,-2.4l1.5,-2.8l1.5,-1.3l1.5,-1.7l1.5,-3l1.5,-2.2l1.5,-1.6l1.5,-3.2l1.5,-3.7l1.5,-2.7l1.5,-2.4l1.5,-3.2l1.5,-2.9l1.5,-1.9l1.5,-2.3l1.5,-2.6l1.5,-2.3l1.5,-2.5l1.5,-3.1l1.5,-2.8l1.5,-1.8l1.5,-2.3l1.5,-2.8l1.5,-2.4l1.5,-2.9l1.5,-2.8l1.5,-2.6l1.5,-3.1l1.5,-3l1.5,-3l1.5,-3l1.5,-2.9l1.5,-1.7l1.5,-0.6l1.5,-1.3l1.5,-1.7l1.5,-1.3l1.5,-1.4l1.5,-1.8l1.5,-1.2l1.5,-0.6l1.5,-1.1l1.5,-1l1.5,-0.6l1.5,-1l1.5,-0.7l1.5,-0.4l1.5,-1.2l1.5,-1.9l1.5,-2.3l1.5,-2.6l1.5,-2.2l1.5,-2.1l1.5,-2.4l1.5,-1.6l1.5,-1l1.5,-2l1.5,-3.3l1.5,-3.8l1.5,-3.1l1.5,-3.1l1.5,-3.1l1.5,-3.4l1.5,-3l1.5,-3.2l1.5,-4.2l1.5,-4.8l1.5,-5.8l1.5,-5.6l1.5,-4.8l1.5,-6.2l1.5,-7.6l1.5,-7.6l1.5,-7.6l1.5,-6.7l1.5,-6.4l1.5,-6.9l1.5,-6.5l1.5,-4.6l1.5,-2.2l1.5,-0.8l1.5,0.2l1.5,1.7l1.5,4.1l1.5,6.7l1.5,7l1.5,7.8l1.5,8.4l1.5,8.2l1.5,9.3l1.5,9.3l1.5,8.7l1.5,7.9l1.5,6l1.5,4.9l1.5,5.7l1.5,5.3l1.5,3.7l1.5,2.5l1.5,2.9l1.5,3.4l1.5,2.5l1.5,0.9l1.5,1.3l1.5,1.3l1.5,0.1l1.5,1.5l1.5,2.1l1.5,0.1l1.5,-0.3l1.5,0.4l1.5,0.5l1.5,0l1.5,0.3l1.5,0.3l1.5,0l1.5,0.3l1.5,-0.4l1.5,0.2l1.5,0.8l1.5,0.5l1.5,0.9l1.5,0.6l1.5,-0.1l1.5,0l1.5,0.5l1.5,0.9l1.5,0.9l1.5,0.4l1.5,0.4l1.5,0.1l1.5,0.4l1.5,0.6l1.5,0.1l1.5,0.9l1.5,0.8l1.5,-0.3l1.5,-0.1l1.5,0.1l1.5,0.4l1.5,0.6l1.5,0.8l1.5,0.9l1.5,1.3l1.5,1.2l1.5,0.5l1.5,0.3l1.5,0.5l1.5,0.3l1.5,0.3l1.5,0.7l1.5,2.2l1.5,2.2l1.5,0.6l1.5,0.9l1.5,1.5l1.5,0.7l1.5,0.4l1.5,1l1.5,1.6l1.5,2.4l1.5,2.3l1.5,0.6l1.5,0.5l1.5,1.7l1.5,1.4l1.5,1.4l1.5,2.3l1.5,2.3l1.5,1.6l1.5,1.3l1.5,0.9l1.5,2.1l1.5,3.6l1.5,2.2l1.5,1.3l1.5,2.5l1.5,2.9l1.5,2.6l1.5,2.1l1.5,2.1l1.5,2.5l1.5,2.3l1.5,1.6l1.5,0.7l1.5,1.4l1.5,2.5l1.5,2.4l1.5,2.7l1.5,2.5l1.5,1.5l1.5,1.5l1.5,2.2l1.5,1.9l1.5,1.5l1.5,2l1.5,1.9l1.5,1.6l1.5,1.3l1.5,1l1.5,1l1.5,0.6l1.5,0.4l1.5,1.1l1.5,1l1.5,0.3l1.5,0.1l1.5,0.3l1.5,1.1l1.5,0.5l1.5,-0.6l1.5,-0.5l1.5,-0.6l1.5,-1.1l1.5,-2.8l1.5,-2.8l1.5,-2l1.5,-3.8l1.5,-5.1l1.5,-5.5l1.5,-6l1.5,-6.7l1.5,-7.2l1.5,-7.6l1.5,-9.6l1.5,-11l1.5,-9.9l1.5,-9.4l1.5,-9l1.5,-7.5l1.5,-6.6l1.5,-5.8l1.5,-3.5l1.5,-0.9l1.5,1l1.5,2l1.5,3.4l1.5,5.3l1.5,6.7l1.5,8.1l1.5,9l1.5,9.7l1.5,9.2l1.5,9.6l1.5,10.1l1.5,8.9l1.5,7.4l1.5,7.5l1.5,7.2l1.5,5.6l1.5,4.5l1.5,4.2l1.5,3.9l1.5,3.4l1.5,1.8l1.5,0.3l1.5,1.1l1.5,2.6l1.5,2.1l1.5,1l1.5,0.8l1.5,0.4l1.5,0.8l1.5,1.9l1.5,1.6l1.5,0.8l1.5,0.7l1.5,1.3l1.5,1.6l1.5,1.4l1.5,0.7l1.5,0.8l1.5,1.5l1.5,1.7l1.5,0.7l1.5,0.2l1.5,0.8l1.5,1.8l1.5,1.7l1.5,0.4l1.5,1.3l1.5,2.5l1.5,1.6l1.5,0.9l1.5,1.4l1.5,1.5l1.5,1l1.5,1.2l1.5,1.3l1.5,1l1.5,0.6l1.5,0.3l1.5,0.6l1.5,0l1.5,0.4l1.5,1.1l1.5,0.6l1.5,0.1l1.5,0.4l1.5,0.6l1.5,-0.6l1.5,-1l1.5,0.3l1.5,-0.2l1.5,-0.8l1.5,0.1l1.5,0.4l1.5,-1.1l1.5,-1.5l1.5,-0.7l1.5,-0.6l1.5,-1.7l1.5,-1.1l1.5,0.5l1.5,1.1l1.5,1l1.5,-0.3l1.5,-0.8l1.5,0.5l1.5,1.1l1.5,0.5l1.5,0.7l1.5,1.3l1.5,1.3l1.5,1.2l1.5,1.5l1.5,2l1.5,0.9l1.5,0.7l1.5,2.1l1.5,1.5l1.5,0.8l1.5,0.8l1.5,1.4l1.5,1.5l1.5,1.4l1.5,1.5l1.5,0.8l1.5,0.4l1.5,1.2l1.5,1.6l1.5,0.8l1.5,0.1l1.5,0.3l1.5,0.3l1.5,-0.3l1.5,0.5l1.5,1l1.5,-0.2l1.5,-0.5l1.5,0.3l1.5,1l1.5,0.2l1.5,-0.7l1.5,-0.5l1.5,0.2l1.5,0.8l1.5,-0.3l1.5,-0.6l1.5,0.4l1.5,0.1l1.5,-0.2l1.5,-0.3l1.5,-0.5l1.5,0.1l1.5,0.5l1.5,-0.3l1.5,0.1l1.5,0.8l1.5,-0.5l1.5,-0.9l1.5,0.2l1.5,0.9l1.5,0.4l1.5,0l1.5,-0.4l1.5,-0.6l1.5,0.2l1.5,0.6l1.5,0.7l1.5,0l1.5,0.4l1.5,1.4l1.5,-0.1l1.5,0l1.5,1l1.5,0.3l1.5,-0.9l1.5,-1.1l1.5,1l1.5,1.3l1.5,-0.1l1.5,-0.7l1.5,0.5l1.5,1.6l1.5,0.3l1.5,-0.6l1.5,0.1l1.5,-0.1l1.5,-0.4l1.5,0.1l1.5,0.2l1.5,0l1.5,-0.5l1.5,-1.4l1.5,-1.2l1.5,-0.8l1.5,-1.5l1.5,-1l1.5,-0.4l1.5,-1.1l1.5,-1.1l1.5,-1.2l1.5,-1.4l1.5,-0.7l1.5,-0.8l1.5,-1.2l1.5,-1.1l1.5,-1.7l1.5,-1.3l1.5,-0.2l1.5,0.2l1.5,0.2l1.5,-0.3l1.5,-0.5l1.5,0.6l1.5,1.2l1.5,0.6l1.5,0.3l1.5,0.5l1.5,0.7l1.5,1.3l1.5,1.5l1.5,1.3l1.5,1.1l1.5,0.7l1.5,0.8l1.5,1.7l1.5,2.7l1.5,2.7l1.5,1.2l1.5,-0.1l1.5,1l1.5,2.2l1.5,0.9l1.5,0.4l1.5,1.3l1.5,0.9l1.5,0.4l1.5,0.3l1.5,0.1l1.5,-0.2l1.5,-0.4l1.5,0.2l1.5,0.6l1.5,0.5l1.5,-0.5l1.5,0l1.5,1.5l1.5,1.1l1.5,0.4l1.5,-0.6l1.5,-1.1l1.5,-0.1l1.5,0.7l1.5,-0.1l1.5,-0.3l1.5,0.8l1.5,0.5l1.5,-0.1l1.5,0.6l1.5,0.7l1.5,0l1.5,0.3l1.5,0.2l1.5,-0.3l1.5,-0.4l1.5,0l1.5,0.3l1.5,-0.6l1.5,-0.2l1.5,0.3l1.5,-0.2l1.5,0.4l1.5,0.3l1.5,-0.4l1.5,-0.1l1.5,0.3l1.5,-0.6l1.5,-1.3l1.5,0.1l1.5,1.2l1.5,-0.6l1.5,-1.5l1.5,0l1.5,0.5l1.5,0.2l1.5,0.3l1.5,0.2l1.5,-0.4l1.5,-0.4l1.5,0.8l1.5,0.4l1.5,-0.6l1.5,0.3l1.5,0.2l1.5,-0.5l1.5,-0.8l1.5,-0.6l1.5,0.3l1.5,1.2l1.5,0.8l1.5,0.4l1.5,0.2l1.5,-0.2l1.5,-0.6l1.5,-0.1l1.5,1.1l1.5,0.9l1.5,-0.1l1.5,-0.3l1.5,0.4l1.5,0.7l1.5,0.9l1.5,0.6l1.5,0.8l1.5,1l1.5,1l1.5,0.5l1.5,-0.7l1.5,0.2l1.5,2.1l1.5,1.7l1.5,0.3l1.5,0l1.5,0.2l1.5,0l1.5,-0.2l1.5,0.7l1.5,0.9l1.5,0.8l1.5,0.5l1.5,-0.6l1.5,0.4l1.5,0.9l1.5,-0.5l1.5,-0.7l1.5,0l1.5,1l1.5,1.1l1.5,0l1.5,-0.6l1.5,-0.2l1.5,0.1l1.5,-0.4l1.5,-0.8l1.5,0l1.5,0.6l1.5,0.2l1.5,-0.4l1.5,0.2l1.5,0l1.5,-1.5l1.5,-0.6l1.5,0.7l1.5,-0.1l1.5,-0.6l1.5,-0.3l1.5,-0.3l1.5,-0.1l1.5,-0.2l1.5,-0.4l1.5,-0.9l1.5,-0.3l1.5,0.2l1.5,0.1l1.5,0l1.5,-0.4l1.5,-0.4l1.5,-0.1l1.5,-0.6l1.5,-0.8l1.5,-0.1l1.5,0.3l1.5,0.4l1.5,0.5l1.5,0.5l1.5,0.4l1.5,0.4l1.5,-0.3l1.5,-0.5l1.5,0.5l1.5,-0.2l1.5,-0.8l1.5,0.2l1.5,0.4l1.5,0l1.5,0l1.5,-0.1l1.5,-0.2l1.5,-0.3l1.5,-0.1l1.5,0l1.5,-0.2l1.5,-0.5l1.5,0.7l1.5,0.9l1.5,-0.3l1.5,-0.4l1.5,-0.2l1.5,-0.6l1.5,-0.2l1.5,0.3l1.5,0.5l1.5,0.2l1.5,-0.2l1.5,-0.2l1.5,-0.7l1.5,0l1.5,0.9l1.5,0.4l1.5,-1.1l1.5,-0.6l1.5,0.9l1.5,0.2l1.5,-0.7l1.5,-0.2l1.5,0.4l1.5,0.7l1.5,-0.1l1.5,0l1.5,0.9l1.5,-0.3l1.5,-0.6l1.5,0.3l1.5,0.6l1.5,0.8l1.5,-0.5l1.5,-1.2l1.5,-0.4l1.5,0l1.5,0.3l1.5,0.2l1.5,0.2l1.5,0.4l1.5,-0.3l1.5,-0.2l1.5,-0.2l1.5,-1l1.5,0.2l1.5,0.9l1.5,0.1l1.5,0l1.5,-0.1l1.5,-0.3l1.5,-0.4l1.5,-0.7l1.5,0.3l1.5,1l1.5,-0.3l1.5,0.1l1.5,1.1l1.5,0l1.5,-1l1.5,-0.3l1.5,0l1.5,0l1.5,0.5l1.5,0.2l1.5,0.1l1.5,0.3l1.5,0.5l1.5,0" fill="none" stroke="#00FFFF" stroke-width="2.2" stroke-linejoin="round"/>
<path d="M366.0,2782.2l1.5,0.6l1.5,0.8l1.5,-0.6l1.5,-1.1l1.5,0.1l1.5,0.3l1.5,-0.2l1.5,-0.3l1.5,0.5l1.5,0.9l1.5,0.4l1.5,-0.3l1.5,-0.8l1.5,0l1.5,0.4l1.5,-0.5l1.5,0.2l1.5,-0.2l1.5,-0.6l1.5,0l1.5,0.3l1.5,0.4l1.5,0.5l1.5,-0.2l1.5,-0.9l1.5,-0.1l1.5,0.5l1.5,-0.2l1.5,-0.6l1.5,0.3l1.5,0.3l1.5,-0.1l1.5,0.7l1.5,0.4l1.5,0.3l1.5,-0.4l1.5,-1l1.5,-0.3l1.5,0.6l1.5,0.7l1.5,-0.1l1.5,-0.8l1.5,-0.4l1.5,0l1.5,0.1l1.5,0.3l1.5,0.7l1.5,0.6l1.5,-0.8l1.5,-0.4l1.5,0.1l1.5,-0.4l1.5,0l1.5,0.6l1.5,-0.1l1.5,-0.2l1.5,0.4l1.5,0l1.5,-0.1l1.5,0.5l1.5,0.2l1.5,-0.1l1.5,-0.4l1.5,-0.3l1.5,-0.2l1.5,-0.1l1.5,0.3l1.5,-0.6l1.5,0.1l1.5,1.1l1.5,-0.6l1.5,-0.4l1.5,0.8l1.5,0l1.5,-0.4l1.5,-0.5l1.5,-0.6l1.5,-0.7l1.5,-0.3l1.5,0.7l1.5,1l1.5,1.2l1.5,0.1l1.5,-0.9l1.5,-0.2l1.5,-0.3l1.5,-0.5l1.5,-0.6l1.5,-0.2l1.5,0.2l1.5,0.3l1.5,0.3l1.5,0.5l1.5,0.6l1.5,-0.1l1.5,0l1.5,0.3l1.5,-0.2l1.5,-0.5l1.5,-0.2l1.5,0.2l1.5,0.6l1.5,0l1.5,-0.2l1.5,-0.2l1.5,-0.4l1.5,-0.3l1.5,-0.1l1.5,0.7l1.5,0l1.5,-0.2l1.5,0.1l1.5,-0.3l1.5,0l1.5,0.5l1.5,-0.6l1.5,-0.5l1.5,-0.1l1.5,0.1l1.5,0.7l1.5,-0.1l1.5,0.2l1.5,1.3l1.5,-0.1l1.5,-1l1.5,-0.2l1.5,0.5l1.5,-0.1l1.5,-0.8l1.5,0l1.5,0.3l1.5,-0.1l1.5,-0.1l1.5,-0.4l1.5,-1l1.5,-0.9l1.5,-0.2l1.5,1.2l1.5,0.8l1.5,-0.3l1.5,0.5l1.5,0.2l1.5,-0.7l1.5,-0.3l1.5,-0.2l1.5,-0.4l1.5,0.1l1.5,0.4l1.5,0.4l1.5,-0.2l1.5,-0.4l1.5,0l1.5,-0.4l1.5,0l1.5,0.3l1.5,-0.1l1.5,-0.1l1.5,-0.1l1.5,-0.5l1.5,-0.2l1.5,0.5l1.5,0.4l1.5,0.2l1.5,0.2l1.5,-1.3l1.5,-1.7l1.5,0.9l1.5,1.3l1.5,-0.7l1.5,-1l1.5,0l1.5,0.8l1.5,0.1l1.5,-0.6l1.5,-0.2l1.5,0l1.5,-0.9l1.5,-1l1.5,0.1l1.5,-0.2l1.5,-0.4l1.5,-0.1l1.5,-1.3l1.5,-0.9l1.5,1.2l1.5,0.3l1.5,-1.1l1.5,-0.6l1.5,-0.5l1.5,-0.5l1.5,0l1.5,-0.2l1.5,-0.7l1.5,-0.5l1.5,0.2l1.5,0.8l1.5,0.1l1.5,-0.8l1.5,-1l1.5,-0.4l1.5,0.7l1.5,-0.1l1.5,-1l1.5,-0.4l1.5,-0.7l1.5,0.1l1.5,0.3l1.5,-0.9l1.5,-0.2l1.5,1.1l1.5,0.4l1.5,-0.1l1.5,0.1l1.5,0l1.5,0.4l1.5,-0.2l1.5,-0.2l1.5,0.2l1.5,0.4l1.5,0.9l1.5,0.2l1.5,-1l1.5,-1.1l1.5,-0.6l1.5,0.2l1.5,0.6l1.5,0.2l1.5,0.1l1.5,0.2l1.5,-0.1l1.5,-0.7l1.5,0.3l1.5,1.3l1.5,0.1l1.5,-0.2l1.5,0.1l1.5,-0.3l1.5,-0.7l1.5,0.1l1.5,0.9l1.5,0.7l1.5,0.3l1.5,0l1.5,-0.3l1.5,0.3l1.5,0.3l1.5,-0.3l1.5,-0.2l1.5,0.4l1.5,0.6l1.5,0.7l1.5,0.2l1.5,-0.4l1.5,-0.2l1.5,-0.2l1.5,0.2l1.5,0.6l1.5,0.6l1.5,-0.3l1.5,-0.5l1.5,0.3l1.5,0.1l1.5,-0.3l1.5,-0.2l1.5,0.8l1.5,1.3l1.5,-0.1l1.5,-0.7l1.5,-0.8l1.5,-0.1l1.5,0.6l1.5,0.7l1.5,0.2l1.5,-0.2l1.5,0.7l1.5,0.5l1.5,-0.5l1.5,0l1.5,-0.1l1.5,0.4l1.5,0.8l1.5,0.3l1.5,-0.6l1.5,0.1l1.5,0.3l1.5,-0.6l1.5,0l1.5,0l1.5,0.3l1.5,0.9l1.5,1.1l1.5,0.8l1.5,-0.1l1.5,-0.6l1.5,-0.8l1.5,-0.2l1.5,-0.4l1.5,0l1.5,0.9l1.5,-0.2l1.5,-0.6l1.5,0.7l1.5,1.1l1.5,0.2l1.5,-0.5l1.5,-0.1l1.5,-0.2l1.5,-0.3l1.5,0.5l1.5,-0.2l1.5,-0.1l1.5,0.4l1.5,-0.2l1.5,-0.1l1.5,-0.1l1.5,-0.1l1.5,0.5l1.5,0.3l1.5,-0.3l1.5,0.5l1.5,0.7l1.5,-0.6l1.5,0l1.5,0.2l1.5,-0.2l1.5,-0.1l1.5,0.1l1.5,0.2l1.5,-0.2l1.5,-0.1l1.5,0.6l1.5,-0.2l1.5,-0.7l1.5,-0.3l1.5,0.1l1.5,0.4l1.5,0.5l1.5,-0.1l1.5,-0.8l1.5,0.3l1.5,0.8l1.5,-0.1l1.5,0.2l1.5,0.3l1.5,-0.3l1.5,-0.4l1.5,0.2l1.5,0.6l1.5,-0.4l1.5,-0.8l1.5,-0.3l1.5,0l1.5,0.7l1.5,0.1l1.5,-0.7l1.5,-0.7l1.5,-0.2l1.5,0.8l1.5,0.1l1.5,-0.1l1.5,0.1l1.5,-0.5l1.5,-0.4l1.5,-0.2l1.5,0.6l1.5,1.1l1.5,-0.5l1.5,-0.5l1.5,-0.5l1.5,-1l1.5,0.6l1.5,0.5l1.5,-0.1l1.5,-0.2l1.5,-0.5l1.5,0.6l1.5,0.2l1.5,-1.3l1.5,-0.2l1.5,0.9l1.5,0.2l1.5,0l1.5,0.3l1.5,-0.3l1.5,-0.6l1.5,-0.2l1.5,-0.6l1.5,-0.9l1.5,0.5l1.5,1.5l1.5,0.8l1.5,-0.2l1.5,-1l1.5,-0.2l1.5,0.5l1.5,0l1.5,0.1l1.5,-0.3l1.5,-1l1.5,-0.8l1.5,0.9l1.5,1.6l1.5,0.3l1.5,-0.5l1.5,-0.9l1.5,-0.5l1.5,0l1.5,0.4l1.5,0.2l1.5,0.4l1.5,0.1l1.5,-0.7l1.5,-0.5l1.5,-0.1l1.5,0.3l1.5,-0.1l1.5,-0.2l1.5,0.6l1.5,0.3l1.5,-0.7l1.5,-0.9l1.5,-0.2l1.5,0.2l1.5,-0.1l1.5,-0.1l1.5,0.5l1.5,0.1l1.5,-0.3l1.5,0.7l1.5,0l1.5,-0.8l1.5,0.8l1.5,0.4l1.5,-1l1.5,-0.7l1.5,-0.3l1.5,0.1l1.5,0.2l1.5,-0.2l1.5,-0.5l1.5,-0.3l1.5,0.1l1.5,-0.1l1.5,0.1l1.5,-0.1l1.5,-0.2l1.5,0.4l1.5,-0.2l1.5,-0.8l1.5,0.3l1.5,0l1.5,-0.6l1.5,-0.1l1.5,0.1l1.5,0.5l1.5,0.1l1.5,0l1.5,0.2l1.5,0l1.5,0.3l1.5,0l1.5,-0.6l1.5,0.9l1.5,0.4l1.5,-0.9l1.5,-0.4l1.5,-0.1l1.5,-0.2l1.5,-0.2l1.5,0l1.5,0.6l1.5,0.1l1.5,-0.1l1.5,0.4l1.5,0.1l1.5,-0.8l1.5,-0.2l1.5,0.8l1.5,-0.6l1.5,-1.9l1.5,-0.2l1.5,0.9l1.5,1l1.5,0.1l1.5,-0.7l1.5,-0.1l1.5,-0.2l1.5,-0.5l1.5,0.2l1.5,0.1l1.5,-0.1l1.5,-0.4l1.5,-0.7l1.5,0.1l1.5,0.5l1.5,0.2l1.5,0.1l1.5,0.2l1.5,-0.7l1.5,-0.7l1.5,0.2l1.5,0.3l1.5,0.4l1.5,0.5l1.5,0l1.5,0l1.5,-0.4l1.5,-0.3l1.5,0l1.5,-0.3l1.5,-0.5l1.5,-0.3l1.5,0.1l1.5,0.2l1.5,0.6l1.5,1l1.5,0.3l1.5,-1l1.5,-0.8l1.5,0l1.5,-0.5l1.5,-0.5l1.5,-0.1l1.5,-0.1l1.5,0.2l1.5,0.3l1.5,-0.6l1.5,-0.3l1.5,0.2l1.5,-0.7l1.5,-0.7l1.5,0.3l1.5,0.7l1.5,0.1l1.5,-0.4l1.5,-0.7l1.5,-0.1l1.5,0l1.5,-0.6l1.5,-0.5l1.5,-0.2l1.5,0l1.5,0.6l1.5,-0.6l1.5,-0.9l1.5,0.3l1.5,0l1.5,-0.1l1.5,-0.2l1.5,-0.8l1.5,-0.2l1.5,0l1.5,-0.7l1.5,-0.6l1.5,-0.1l1.5,-0.6l1.5,-0.5l1.5,0.4l1.5,-0.9l1.5,-1.8l1.5,0.4l1.5,1.4l1.5,-0.2l1.5,-1.8l1.5,-1.5l1.5,0.1l1.5,0.4l1.5,-0.9l1.5,-1.4l1.5,-0.7l1.5,-0.3l1.5,-0.9l1.5,-0.8l1.5,-0.4l1.5,-0.7l1.5,-1.5l1.5,-2l1.5,-1.4l1.5,-0.1l1.5,-0.8l1.5,-2.4l1.5,-2.2l1.5,-0.8l1.5,0.1l1.5,-0.4l1.5,-1.6l1.5,-1.6l1.5,-1.2l1.5,-1.7l1.5,-2.6l1.5,-2l1.5,-1.4l1.5,-1.2l1.5,-1.3l1.5,-1.8l1.5,-1.9l1.5,-1.8l1.5,-1.3l1.5,-1.4l1.5,-1.8l1.5,-1.3l1.5,-2.6l1.5,-3.4l1.5,-1.8l1.5,-2.5l1.5,-2.9l1.5,-1.9l1.5,-2.1l1.5,-2.6l1.5,-2.7l1.5,-2.2l1.5,-2.1l1.5,-2.8l1.5,-2.7l1.5,-2.5l1.5,-2.5l1.5,-2.9l1.5,-2.9l1.5,-1.9l1.5,-2.6l1.5,-3.2l1.5,-3.5l1.5,-3.3l1.5,-3l1.5,-3.8l1.5,-3.5l1.5,-2.8l1.5,-3.3l1.5,-4.3l1.5,-4l1.5,-3.5l1.5,-3.7l1.5,-2.8l1.5,-2l1.5,-2.4l1.5,-3.4l1.5,-3.4l1.5,-2.8l1.5,-2.5l1.5,-1.7l1.5,-1.9l1.5,-2.4l1.5,-2.3l1.5,-2l1.5,-1.5l1.5,-1.8l1.5,-2.4l1.5,-1.6l1.5,-1l1.5,-1.1l1.5,-1.5l1.5,-2.3l1.5,-2.3l1.5,-1.1l1.5,0l1.5,-0.7l1.5,-1.5l1.5,-1.7l1.5,-2.4l1.5,-1.7l1.5,-1.5l1.5,-2.5l1.5,-2l1.5,-2l1.5,-2.2l1.5,-2.5l1.5,-3.6l1.5,-3.8l1.5,-3.6l1.5,-2.9l1.5,-2.7l1.5,-3.3l1.5,-3.4l1.5,-3.8l1.5,-4.8l1.5,-4.7l1.5,-3.8l1.5,-4.7l1.5,-6.1l1.5,-5.4l1.5,-5l1.5,-6.5l1.5,-7.5l1.5,-7.8l1.5,-8l1.5,-7.4l1.5,-6.5l1.5,-6l1.5,-4.8l1.5,-3l1.5,-1.1l1.5,0.3l1.5,2.6l1.5,4.7l1.5,5.1l1.5,6.9l1.5,8.6l1.5,8.3l1.5,8.8l1.5,8.4l1.5,7.8l1.5,8.4l1.5,8l1.5,7.2l1.5,6.6l1.5,5.7l1.5,5l1.5,3.9l1.5,2.8l1.5,2.3l1.5,2l1.5,1.3l1.5,1.9l1.5,2.2l1.5,0.5l1.5,-0.4l1.5,0.9l1.5,1.5l1.5,0.8l1.5,-0.4l1.5,-1.1l1.5,-0.1l1.5,0.5l1.5,0.2l1.5,0.4l1.5,0.3l1.5,0.1l1.5,0l1.5,0.4l1.5,0.1l1.5,-0.5l1.5,-0.1l1.5,0.9l1.5,0.4l1.5,0l1.5,-0.3l1.5,-0.1l1.5,0.8l1.5,0.2l1.5,0.5l1.5,1.3l1.5,0.5l1.5,0.7l1.5,1.3l1.5,0.2l1.5,-0.7l1.5,0.7l1.5,1.4l1.5,-0.3l1.5,-0.2l1.5,2l1.5,1.9l1.5,1l1.5,0.5l1.5,0.4l1.5,1l1.5,0.7l1.5,0.7l1.5,1.2l1.5,0.7l1.5,0.7l1.5,1.6l1.5,1.3l1.5,0l1.5,-0.1l1.5,1.7l1.5,1.6l1.5,1.2l1.5,1.4l1.5,1.4l1.5,2.2l1.5,1.5l1.5,1.4l1.5,2.1l1.5,1.6l1.5,0.9l1.5,1.2l1.5,2.5l1.5,2.7l1.5,1.1l1.5,1.1l1.5,2.6l1.5,2.4l1.5,1.1l1.5,0.5l1.5,0.9l1.5,1.8l1.5,2.3l1.5,2.3l1.5,1.7l1.5,0.9l1.5,1.3l1.5,2.1l1.5,2.6l1.5,2.6l1.5,1.9l1.5,2.5l1.5,2.4l1.5,1.9l1.5,2.4l1.5,2l1.5,1.4l1.5,2.2l1.5,2.9l1.5,2l1.5,1.3l1.5,2.2l1.5,1.9l1.5,1.2l1.5,1.8l1.5,1.6l1.5,1.5l1.5,1l1.5,1l1.5,1.5l1.5,0.2l1.5,-1.2l1.5,-0.5l1.5,0.6l1.5,0.6l1.5,0.2l1.5,0.1l1.5,-0.7l1.5,-1.8l1.5,-2.1l1.5,-2.6l1.5,-2.7l1.5,-3l1.5,-4.8l1.5,-5.9l1.5,-6.2l1.5,-6.8l1.5,-8l1.5,-9.5l1.5,-9.8l1.5,-9.7l1.5,-10.1l1.5,-9.8l1.5,-8.8l1.5,-8.9l1.5,-7.5l1.5,-4.3l1.5,-2.8l1.5,-1.1l1.5,0l1.5,0.8l1.5,3.8l1.5,6.8l1.5,7.8l1.5,8.2l1.5,9.8l1.5,10.5l1.5,10l1.5,10.7l1.5,10.4l1.5,9.2l1.5,8.7l1.5,7.2l1.5,6.2l1.5,6.4l1.5,5.6l1.5,4.6l1.5,3.9l1.5,3.3l1.5,2.6l1.5,1.7l1.5,1.4l1.5,1.3l1.5,1l1.5,1.3l1.5,1l1.5,0.1l1.5,0.4l1.5,0.5l1.5,1.1l1.5,1.4l1.5,0.9l1.5,0.6l1.5,0l1.5,0.2l1.5,0.9l1.5,0.8l1.5,0.7l1.5,0.7l1.5,1.4l1.5,1.3l1.5,0.8l1.5,0.6l1.5,0.8l1.5,0.6l1.5,0.8l1.5,1.5l1.5,1.4l1.5,1.2l1.5,1.8l1.5,1.2l1.5,0.7l1.5,1.5l1.5,1.7l1.5,1.2l1.5,1.2l1.5,1.8l1.5,0.5l1.5,-0.6l1.5,0.2l1.5,-0.1l1.5,-0.3l1.5,0.8l1.5,0.7l1.5,-0.4l1.5,-0.1l1.5,0.5l1.5,-0.4l1.5,-0.3l1.5,0.2l1.5,-0.9l1.5,-1.4l1.5,-0.7l1.5,0.1l1.5,0.4l1.5,0.3l1.5,-0.3l1.5,-1l1.5,-0.5l1.5,0.5l1.5,-0.2l1.5,-0.7l1.5,0.4l1.5,1.4l1.5,1.3l1.5,0.6l1.5,0.9l1.5,1.3l1.5,0.5l1.5,1.6l1.5,2.6l1.5,1l1.5,0.6l1.5,1.8l1.5,2l1.5,0.7l1.5,0.8l1.5,1.2l1.5,0.4l1.5,0.5l1.5,0.8l1.5,0.6l1.5,1.1l1.5,0.6l1.5,0.3l1.5,1.2l1.5,1.3l1.5,0.3l1.5,0.4l1.5,0.3l1.5,-0.1l1.5,0.5l1.5,0.8l1.5,1.2l1.5,1.2l1.5,0l1.5,-1.1l1.5,-0.5l1.5,-0.6l1.5,0.2l1.5,1.4l1.5,-0.1l1.5,-1.2l1.5,0.9l1.5,1.2l1.5,-0.6l1.5,-0.8l1.5,-0.7l1.5,-1l1.5,-0.7l1.5,0.1l1.5,0.2l1.5,0l1.5,0.5l1.5,0.2l1.5,-0.5l1.5,-0.7l1.5,-1.1l1.5,0l1.5,1.1l1.5,0.2l1.5,-0.6l1.5,-1l1.5,-0.2l1.5,0.6l1.5,-0.2l1.5,0.5l1.5,1.1l1.5,1.1l1.5,1.1l1.5,0.1l1.5,-0.1l1.5,0.8l1.5,0.7l1.5,1l1.5,0.6l1.5,0.1l1.5,0.5l1.5,0.6l1.5,1.2l1.5,1.3l1.5,0.2l1.5,0.1l1.5,0.2l1.5,0.4l1.5,0l1.5,-1.2l1.5,-1.6l1.5,-0.9l1.5,-0.9l1.5,-0.8l1.5,-0.5l1.5,-0.6l1.5,-1.1l1.5,-1.4l1.5,-1.6l1.5,-1.7l1.5,-2l1.5,-1.7l1.5,-0.7l1.5,0.3l1.5,-0.4l1.5,-1.9l1.5,-1.3l1.5,-1l1.5,-1l1.5,0l1.5,-0.4l1.5,-1.4l1.5,-0.4l1.5,0.8l1.5,0.7l1.5,1l1.5,0.9l1.5,0.7l1.5,1.2l1.5,1.5l1.5,1.4l1.5,1l1.5,0.4l1.5,0.1l1.5,1.1l1.5,2l1.5,1.8l1.5,2l1.5,2.1l1.5,0.9l1.5,0.8l1.5,0.8l1.5,0.9l1.5,1.9l1.5,1.5l1.5,0.4l1.5,0l1.5,0.6l1.5,1.1l1.5,0.3l1.5,-0.2l1.5,1l1.5,0.8l1.5,-0.6l1.5,0.3l1.5,1.1l1.5,0.6l1.5,0.3l1.5,0.5l1.5,0l1.5,-0.9l1.5,-0.4l1.5,0.9l1.5,0.6l1.5,0.3l1.5,0.5l1.5,0.6l1.5,0l1.5,0.3l1.5,0.3l1.5,-0.4l1.5,-0.1l1.5,-0.2l1.5,0.1l1.5,0.5l1.5,-0.9l1.5,-0.8l1.5,0.5l1.5,0.5l1.5,-0.3l1.5,-0.6l1.5,-1.1l1.5,-0.7l1.5,0.9l1.5,0.1l1.5,-2l1.5,-1.2l1.5,0.2l1.5,-1.6l1.5,-2.2l1.5,-0.2l1.5,-0.2l1.5,0.2l1.5,0.8l1.5,-0.7l1.5,-1.6l1.5,-0.5l1.5,-0.4l1.5,-1.2l1.5,-0.7l1.5,-0.3l1.5,-0.2l1.5,-0.7l1.5,-0.5l1.5,0.3l1.5,0.4l1.5,-0.1l1.5,-0.8l1.5,-0.5l1.5,0.5l1.5,0.6l1.5,0l1.5,0.8l1.5,1.3l1.5,0.6l1.5,0.4l1.5,0.7l1.5,1.1l1.5,0.8l1.5,0.1l1.5,0.7l1.5,1.8l1.5,1.5l1.5,1.7l1.5,1.8l1.5,1.8l1.5,0.6l1.5,0.3l1.5,0.5l1.5,0.4l1.5,1.1l1.5,1.3l1.5,0.5l1.5,-0.2l1.5,1.1l1.5,2.2l1.5,1.1l1.5,0.3l1.5,0.6l1.5,0.3l1.5,0.7l1.5,0.8l1.5,0.3l1.5,0l1.5,-0.8l1.5,-0.8l1.5,0.5l1.5,0.2l1.5,-0.3l1.5,-0.1l1.5,0.4l1.5,0.5l1.5,0.2l1.5,-0.7l1.5,-0.9l1.5,0l1.5,0.2l1.5,-0.7l1.5,-1.1l1.5,-0.3l1.5,0.1l1.5,-0.1l1.5,-0.4l1.5,-0.2l1.5,-0.1l1.5,-1.3l1.5,-1.3l1.5,0.1l1.5,0.4l1.5,-0.4l1.5,-1.2l1.5,-0.9l1.5,-0.3l1.5,-0.9l1.5,-0.6l1.5,0.9l1.5,0.2l1.5,-1.5l1.5,-0.7l1.5,-0.1l1.5,0l1.5,0l1.5,-0.2l1.5,-0.5l1.5,-0.9l1.5,-0.9l1.5,-0.2l1.5,0.4l1.5,1.1l1.5,0.6l1.5,-0.3l1.5,-0.9l1.5,-0.3l1.5,0.6l1.5,0.4l1.5,1.2l1.5,0.8l1.5,-0.7l1.5,-0.2l1.5,-0.2l1.5,-0.8l1.5,-0.1l1.5,0.8l1.5,1l1.5,0.7l1.5,0.4l1.5,0.2l1.5,-0.6l1.5,-0.3l1.5,0.9l1.5,0.3l1.5,0.2l1.5,0.8l1.5,0l1.5,0.1l1.5,0.6l1.5,0.4l1.5,0.8l1.5,0.7l1.5,0.2l1.5,-0.1l1.5,-0.1l1.5,0.3l1.5,1.1l1.5,1.1l1.5,0.1l1.5,0.1l1.5,0.6l1.5,-0.2l1.5,-0.8l1.5,0.6l1.5,0.7l1.5,-0.5l1.5,0.1l1.5,0.5l1.5,0.4l1.5,0.2l1.5,-0.1l1.5,0.7l1.5,1l1.5,-1l1.5,-1.7l1.5,-0.6l1.5,0.3l1.5,0.1l1.5,-0.1l1.5,0.9l1.5,1l1.5,-0.6l1.5,-1.5l1.5,-0.6l1.5,-0.3l1.5,0.2l1.5,0.3l1.5,-1.1l1.5,-0.8l1.5,0.4l1.5,0.4l1.5,0.3l1.5,-0.6l1.5,-1.9l1.5,-1.2l1.5,0.7l1.5,0.7l1.5,-0.8l1.5,-2l1.5,-0.4l1.5,1.2l1.5,0.2l1.5,-1l1.5,-1.4" fill="none" stroke="#00FF00" stroke-width="2.2" stroke-linejoin="round"/>
<path d="M366.0,2883.8l1.5,-0.2l1.5,0.6l1.5,0.9l1.5,0.3l1.5,-0.6l1.5,-0.7l1.5,0.1l1.5,1l1.5,0.6l1.5,-1l1.5,-1.1l1.5,0.4l1.5,1.1l1.5,-0.6l1.5,-1l1.5,0.1l1.5,0l1.5,0l1.5,0.2l1.5,0.2l1.5,0.5l1.5,-0.1l1.5,-0.2l1.5,0.5l1.5,-0.2l1.5,-0.9l1.5,-0.1l1.5,0.2l1.5,0l1.5,-0.1l1.5,0.4l1.5,0.3l1.5,-0.4l1.5,-0.3l1.5,-0.1l1.5,-0.3l1.5,0.1l1.5,0.5l1.5,0.3l1.5,0.7l1.5,-0.3l1.5,-1l1.5,0.1l1.5,0.2l1.5,0.2l1.5,-0.3l1.5,-0.6l1.5,0.4l1.5,0.8l1.5,0.1l1.5,-0.4l1.5,0l1.5,-0.3l1.5,-0.2l1.5,0.5l1.5,0.9l1.5,0.7l1.5,0.2l1.5,-0.4l1.5,-0.4l1.5,-0.3l1.5,-0.7l1.5,0.3l1.5,0.4l1.5,-0.4l1.5,-0.2l1.5,0.2l1.5,0l1.5,-0.3l1.5,0l1.5,0.2l1.5,-0.3l1.5,-0.1l1.5,0.1l1.5,-0.7l1.5,-0.6l1.5,0.6l1.5,0.9l1.5,-0.3l1.5,-0.8l1.5,0.2l1.5,0.4l1.5,-0.5l1.5,0l1.5,0.5l1.5,-0.2l1.5,0l1.5,0.3l1.5,-0.1l1.5,0.5l1.5,0.4l1.5,-0.9l1.5,-1.1l1.5,-0.1l1.5,0.7l1.5,0.6l1.5,0.1l1.5,-0.3l1.5,-0.3l1.5,-0.1l1.5,0.3l1.5,0.2l1.5,0l1.5,0.6l1.5,0.8l1.5,-0.9l1.5,-0.6l1.5,0.8l1.5,-0.2l1.5,-0.6l1.5,0.4l1.5,-0.1l1.5,-0.6l1.5,-0.3l1.5,0l1.5,0.8l1.5,0.4l1.5,-0.3l1.5,0.5l1.5,0.1l1.5,-0.9l1.5,-0.2l1.5,-0.1l1.5,-0.6l1.5,0.1l1.5,0.7l1.5,0.2l1.5,-0.3l1.5,0.3l1.5,0.4l1.5,0.1l1.5,0l1.5,0l1.5,0.2l1.5,0.4l1.5,-0.4l1.5,-0.5l1.5,-0.3l1.5,-0.6l1.5,0.2l1.5,0.7l1.5,0.5l1.5,0l1.5,-1l1.5,-0.3l1.5,1.2l1.5,-0.2l1.5,-0.7l1.5,0.3l1.5,-0.6l1.5,-1l1.5,0.2l1.5,0.9l1.5,0.5l1.5,-0.6l1.5,-0.4l1.5,0.1l1.5,-0.3l1.5,0l1.5,0.7l1.5,0.6l1.5,-0.4l1.5,-1.1l1.5,-0.2l1.5,0.3l1.5,-0.1l1.5,-0.5l1.5,0.4l1.5,1.3l1.5,-0.1l1.5,-0.9l1.5,0.6l1.5,-0.4l1.5,-1.5l1.5,0l1.5,0.8l1.5,0.3l1.5,-0.3l1.5,-0.3l1.5,0.5l1.5,1.1l1.5,-0.1l1.5,-1.6l1.5,-0.1l1.5,0.7l1.5,-1l1.5,-0.7l1.5,0.5l1.5,0.4l1.5,0.1l1.5,-0.6l1.5,-0.6l1.5,0.2l1.5,0.6l1.5,0.2l1.5,-1.1l1.5,-1.3l1.5,0.4l1.5,0.8l1.5,-1l1.5,-1.1l1.5,0.5l1.5,0.9l1.5,0.1l1.5,-0.5l1.5,0.2l1.5,0l1.5,-0.7l1.5,0.3l1.5,1.1l1.5,0.2l1.5,-0.8l1.5,-0.4l1.5,-0.1l1.5,-0.6l1.5,-0.6l1.5,-0.3l1.5,0.2l1.5,0.9l1.5,0.7l1.5,-0.6l1.5,0l1.5,-0.1l1.5,-0.5l1.5,-0.6l1.5,-0.9l1.5,0.5l1.5,0.1l1.5,-1.3l1.5,0.4l1.5,1.1l1.5,-0.3l1.5,-0.7l1.5,0.1l1.5,0.5l1.5,0.6l1.5,0l1.5,-0.6l1.5,-0.2l1.5,0.6l1.5,0.7l1.5,-0.1l1.5,-0.3l1.5,-0.6l1.5,-0.7l1.5,0.4l1.5,0.8l1.5,-0.2l1.5,-0.8l1.5,-0.2l1.5,0.7l1.5,0.2l1.5,0l1.5,0.2l1.5,0.4l1.5,0.4l1.5,0.4l1.5,0.3l1.5,0.2l1.5,-0.5l1.5,-0.6l1.5,0.1l1.5,0.2l1.5,0l1.5,0.5l1.5,0.1l1.5,-1.1l1.5,-0.2l1.5,1.1l1.5,0.4l1.5,-0.4l1.5,0l1.5,0.9l1.5,0.1l1.5,-0.7l1.5,-0.2l1.5,0.2l1.5,0l1.5,-0.3l1.5,0.3l1.5,0.8l1.5,0l1.5,-0.2l1.5,-0.6l1.5,-0.5l1.5,0.8l1.5,0.4l1.5,0l1.5,0l1.5,0.1l1.5,0.3l1.5,-0.3l1.5,-0.5l1.5,0.3l1.5,0.8l1.5,0.3l1.5,-0.7l1.5,-0.1l1.5,0.6l1.5,0.2l1.5,0.4l1.5,-0.2l1.5,-0.6l1.5,0.2l1.5,0.8l1.5,0.3l1.5,-0.1l1.5,0.7l1.5,0.3l1.5,-1.1l1.5,-1.1l1.5,-0.3l1.5,0.1l1.5,0.4l1.5,0l1.5,0.2l1.5,0l1.5,-0.9l1.5,0.8l1.5,2l1.5,0.2l1.5,-0.5l1.5,0.2l1.5,0.3l1.5,-0.4l1.5,-0.9l1.5,-0.6l1.5,0.1l1.5,0l1.5,-0.2l1.5,0.2l1.5,0.3l1.5,0.3l1.5,0l1.5,-0.5l1.5,0.5l1.5,1l1.5,-0.2l1.5,0.2l1.5,0.3l1.5,-0.1l1.5,-0.8l1.5,-1.1l1.5,0l1.5,-0.1l1.5,-0.3l1.5,0l1.5,-0.2l1.5,0l1.5,0.9l1.5,0.2l1.5,-0.5l1.5,-0.3l1.5,0.2l1.5,0.2l1.5,0.1l1.5,0.1l1.5,0.1l1.5,0.4l1.5,0.2l1.5,-0.3l1.5,-0.6l1.5,0l1.5,0.4l1.5,0l1.5,-0.8l1.5,-1.4l1.5,0.1l1.5,1.6l1.5,1.1l1.5,0.4l1.5,-0.3l1.5,-0.5l1.5,-0.6l1.5,-0.3l1.5,0.5l1.5,0.1l1.5,0.1l1.5,0.1l1.5,0.1l1.5,0l1.5,-0.6l1.5,-0.4l1.5,-0.2l1.5,0.7l1.5,0.7l1.5,-0.1l1.5,0.1l1.5,0.2l1.5,-0.1l1.5,-0.5l1.5,-0.7l1.5,0.6l1.5,0.4l1.5,-0.7l1.5,-0.5l1.5,0.1l1.5,-0.1l1.5,0.3l1.5,0.5l1.5,-0.7l1.5,-0.3l1.5,1.3l1.5,0.3l1.5,-0.5l1.5,-0.4l1.5,-0.5l1.5,0.1l1.5,0.6l1.5,0.3l1.5,-0.2l1.5,-0.6l1.5,-0.5l1.5,0.3l1.5,0.9l1.5,0l1.5,-1l1.5,-0.1l1.5,0.7l1.5,0.2l1.5,-0.8l1.5,-0.8l1.5,-0.1l1.5,0.3l1.5,-0.2l1.5,-0.1l1.5,0.8l1.5,0.3l1.5,-0.6l1.5,-0.6l1.5,0.5l1.5,0.2l1.5,-0.7l1.5,0.3l1.5,0.3l1.5,-0.3l1.5,0.1l1.5,0.2l1.5,0.3l1.5,-0.1l1.5,0.1l1.5,0.6l1.5,-0.1l1.5,-0.8l1.5,-1.1l1.5,-0.1l1.5,1l1.5,0.1l1.5,-0.3l1.5,-0.4l1.5,-0.4l1.5,-0.3l1.5,0l1.5,0.2l1.5,-0.2l1.5,-0.1l1.5,0.8l1.5,0.3l1.5,-1l1.5,-0.2l1.5,0.6l1.5,0.2l1.5,0.3l1.5,-0.3l1.5,-0.5l1.5,0.4l1.5,0.5l1.5,-0.3l1.5,-0.5l1.5,-0.7l1.5,-1l1.5,0.5l1.5,1.2l1.5,0l1.5,-0.5l1.5,-0.5l1.5,-0.6l1.5,-0.5l1.5,-0.3l1.5,-0.2l1.5,-0.4l1.5,-0.1l1.5,0l1.5,-0.2l1.5,0l1.5,-0.1l1.5,-0.1l1.5,-0.4l1.5,-1.5l1.5,-0.4l1.5,1.1l1.5,0.9l1.5,0.2l1.5,-0.5l1.5,-0.9l1.5,-0.6l1.5,0.3l1.5,-0.1l1.5,-1.1l1.5,-0.3l1.5,0.5l1.5,-0.5l1.5,-1l1.5,0.8l1.5,0.7l1.5,-0.2l1.5,0.1l1.5,-0.3l1.5,-0.4l1.5,0.1l1.5,-0.2l1.5,-0.4l1.5,0.7l1.5,0.1l1.5,-1.4l1.5,-1l1.5,0.9l1.5,1.3l1.5,-0.3l1.5,-0.8l1.5,-0.5l1.5,-0.7l1.5,-0.2l1.5,0.9l1.5,-0.1l1.5,-1.1l1.5,-0.1l1.5,0.4l1.5,0.4l1.5,0.5l1.5,0.5l1.5,0.1l1.5,-0.2l1.5,-0.8l1.5,-1.3l1.5,-0.1l1.5,0.7l1.5,-0.3l1.5,-1.2l1.5,-1.3l1.5,0l1.5,1.1l1.5,0.1l1.5,-0.8l1.5,-0.8l1.5,-0.5l1.5,0.7l1.5,0.9l1.5,-0.2l1.5,-1.1l1.5,-1.2l1.5,-0.2l1.5,0.8l1.5,0l1.5,-1.3l1.5,-0.5l1.5,-0.4l1.5,-1.3l1.5,-1.1l1.5,0.5l1.5,0.2l1.5,-1.1l1.5,-1.3l1.5,-0.4l1.5,1.2l1.5,0.3l1.5,-1l1.5,-0.9l1.5,-0.6l1.5,-0.4l1.5,-0.4l1.5,-0.5l1.5,-0.4l1.5,0l1.5,-0.5l1.5,-1.3l1.5,-0.7l1.5,-0.8l1.5,-1.4l1.5,-0.6l1.5,0.2l1.5,-0.6l1.5,-0.6l1.5,-0.4l1.5,-0.8l1.5,-0.6l1.5,-0.1l1.5,-0.2l1.5,-0.9l1.5,-1.2l1.5,-0.6l1.5,-0.9l1.5,-1.2l1.5,-0.9l1.5,-1.3l1.5,-1.7l1.5,-0.8l1.5,-0.9l1.5,-1.5l1.5,-1.4l1.5,-2.3l1.5,-2.1l1.5,-1.9l1.5,-2.2l1.5,-2.1l1.5,-1.5l1.5,-1.7l1.5,-1.8l1.5,-1.1l1.5,-2.1l1.5,-2.8l1.5,-1.8l1.5,-1.7l1.5,-1.6l1.5,-1.2l1.5,-2.4l1.5,-3l1.5,-3.3l1.5,-2.9l1.5,-2l1.5,-2.4l1.5,-2.6l1.5,-2.3l1.5,-2.1l1.5,-2.3l1.5,-3.1l1.5,-3.5l1.5,-3.5l1.5,-2.9l1.5,-3.3l1.5,-3.1l1.5,-2.4l1.5,-3.6l1.5,-3.2l1.5,-1.2l1.5,-2.5l1.5,-4.1l1.5,-2.4l1.5,-1.3l1.5,-3.6l1.5,-4l1.5,-1.6l1.5,-1.1l1.5,-2.5l1.5,-2.7l1.5,-2.3l1.5,-2.8l1.5,-3.2l1.5,-2.3l1.5,-1.2l1.5,-1.4l1.5,-0.5l1.5,-0.3l1.5,-1.6l1.5,-1.8l1.5,-1.3l1.5,-1l1.5,-1.7l1.5,-2.3l1.5,-1l1.5,-0.7l1.5,-2.3l1.5,-3l1.5,-2.7l1.5,-2.6l1.5,-1.3l1.5,-1.2l1.5,-3l1.5,-3.5l1.5,-2.8l1.5,-2.6l1.5,-3.1l1.5,-3.5l1.5,-3.3l1.5,-2.7l1.5,-3.5l1.5,-4.9l1.5,-4.3l1.5,-4.2l1.5,-5.6l1.5,-5.5l1.5,-5.1l1.5,-5.9l1.5,-6.9l1.5,-7l1.5,-7.1l1.5,-7.8l1.5,-7.8l1.5,-6l1.5,-4.9l1.5,-4.5l1.5,-2.6l1.5,-0.9l1.5,0l1.5,1.4l1.5,3.5l1.5,5.4l1.5,6.1l1.5,7.6l1.5,8.7l1.5,8.5l1.5,8.7l1.5,7.6l1.5,6.7l1.5,7.3l1.5,6l1.5,4.4l1.5,4.2l1.5,4.4l1.5,4.2l1.5,3.3l1.5,2.1l1.5,1.6l1.5,2l1.5,2.3l1.5,1.3l1.5,-0.1l1.5,0.2l1.5,1.1l1.5,0.7l1.5,0.6l1.5,0.8l1.5,-0.5l1.5,-1.2l1.5,0.2l1.5,1l1.5,0.1l1.5,-0.3l1.5,-0.6l1.5,-0.5l1.5,0.8l1.5,0.6l1.5,-0.7l1.5,-1l1.5,0l1.5,0.3l1.5,0.5l1.5,1l1.5,0.4l1.5,-0.7l1.5,-0.5l1.5,0.4l1.5,0.3l1.5,0.2l1.5,0.5l1.5,0.3l1.5,0.3l1.5,0.9l1.5,0.3l1.5,0.4l1.5,1l1.5,1.1l1.5,1.3l1.5,0.5l1.5,-0.1l1.5,0.3l1.5,1l1.5,1.1l1.5,0.7l1.5,0.4l1.5,0.2l1.5,1.5l1.5,1.6l1.5,0.6l1.5,0.7l1.5,0.8l1.5,0l1.5,0.5l1.5,1.7l1.5,1.6l1.5,0.7l1.5,0.6l1.5,1.2l1.5,0.8l1.5,-0.2l1.5,0.4l1.5,1.6l1.5,1.7l1.5,1.5l1.5,1.2l1.5,1.7l1.5,2.1l1.5,1.4l1.5,1.7l1.5,1.7l1.5,0.7l1.5,1.3l1.5,1.7l1.5,0.4l1.5,1.2l1.5,2.6l1.5,1.8l1.5,1.3l1.5,1.6l1.5,1.5l1.5,1.1l1.5,1.5l1.5,1.8l1.5,2.4l1.5,2.2l1.5,2l1.5,3.2l1.5,2.5l1.5,0.9l1.5,2l1.5,2.6l1.5,1.4l1.5,1.3l1.5,2.1l1.5,1.6l1.5,0.7l1.5,1l1.5,1.5l1.5,1.3l1.5,1.1l1.5,0.3l1.5,-0.6l1.5,-0.4l1.5,0.1l1.5,0.2l1.5,-0.4l1.5,-1.1l1.5,-0.9l1.5,-0.4l1.5,0l1.5,-0.7l1.5,-2.6l1.5,-3.6l1.5,-3.3l1.5,-3.5l1.5,-4.7l1.5,-5.5l1.5,-6.2l1.5,-7.8l1.5,-9.2l1.5,-9.4l1.5,-9.1l1.5,-9.5l1.5,-8.8l1.5,-8.9l1.5,-8.8l1.5,-7.2l1.5,-5.1l1.5,-3.6l1.5,-3.3l1.5,-1.7l1.5,1.9l1.5,3.5l1.5,4.4l1.5,6.1l1.5,7.9l1.5,8.5l1.5,8.3l1.5,8.4l1.5,8.7l1.5,8.4l1.5,8.2l1.5,8.1l1.5,7.2l1.5,7.1l1.5,6.6l1.5,3.8l1.5,2.2l1.5,2.3l1.5,2.8l1.5,1.8l1.5,1.7l1.5,2.3l1.5,1.5l1.5,2l1.5,2l1.5,0.2l1.5,0.3l1.5,1.1l1.5,0.9l1.5,0.9l1.5,1.9l1.5,1.9l1.5,0.6l1.5,0.3l1.5,1.2l1.5,1.6l1.5,2l1.5,1.6l1.5,1.5l1.5,1.2l1.5,1l1.5,1.3l1.5,1.4l1.5,0.7l1.5,0.9l1.5,1.5l1.5,0.6l1.5,1.2l1.5,2l1.5,1.6l1.5,1.4l1.5,0.3l1.5,0.3l1.5,1.2l1.5,1.6l1.5,2l1.5,1.3l1.5,0.2l1.5,0.2l1.5,1.1l1.5,0.9l1.5,-0.1l1.5,0.5l1.5,1.3l1.5,0.4l1.5,-0.5l1.5,-0.8l1.5,-0.2l1.5,0.6l1.5,-0.5l1.5,-1.3l1.5,-0.5l1.5,0.5l1.5,0.8l1.5,-0.8l1.5,-0.9l1.5,0.7l1.5,-0.4l1.5,-2.1l1.5,-0.7l1.5,1l1.5,0.4l1.5,0l1.5,0.9l1.5,1.5l1.5,1.2l1.5,0.4l1.5,0.4l1.5,1.1l1.5,0.8l1.5,0.9l1.5,1.7l1.5,1.3l1.5,1.1l1.5,1.5l1.5,1.5l1.5,1.7l1.5,0.9l1.5,-0.3l1.5,0l1.5,0.8l1.5,0.9l1.5,0.8l1.5,0.3l1.5,0.9l1.5,1.3l1.5,0.6l1.5,0.5l1.5,0.9l1.5,0l1.5,-0.6l1.5,0.8l1.5,0.8l1.5,0.1l1.5,0.3l1.5,0.9l1.5,0.8l1.5,0.8l1.5,0.9l1.5,0.1l1.5,-0.6l1.5,0.4l1.5,0.8l1.5,0.2l1.5,0.6l1.5,0.9l1.5,0.7l1.5,0.5l1.5,0.2l1.5,-0.1l1.5,0.1l1.5,0.2l1.5,0.4l1.5,0.3l1.5,-0.7l1.5,0.2l1.5,1.7l1.5,0.9l1.5,-0.1l1.5,0l1.5,0.6l1.5,0.8l1.5,0.6l1.5,0.6l1.5,-0.1l1.5,0l1.5,0.5l1.5,0.3l1.5,0l1.5,-0.2l1.5,0.9l1.5,0.8l1.5,0.1l1.5,0.5l1.5,0.6l1.5,0.7l1.5,0.4l1.5,-0.4l1.5,-0.3l1.5,-0.2l1.5,-0.7l1.5,0.4l1.5,1.2l1.5,0.6l1.5,0.4l1.5,-0.3l1.5,-0.1l1.5,0.4l1.5,0.1l1.5,-0.5l1.5,-1.1l1.5,-0.4l1.5,0l1.5,-0.6l1.5,-0.4l1.5,-1l1.5,-1.6l1.5,-1.1l1.5,-0.5l1.5,-0.7l1.5,-0.6l1.5,-0.8l1.5,-1.8l1.5,-1.7l1.5,-0.6l1.5,-0.4l1.5,-0.7l1.5,-0.5l1.5,-0.9l1.5,-1.1l1.5,-0.8l1.5,-0.1l1.5,0.1l1.5,-0.7l1.5,-0.6l1.5,0.3l1.5,0.4l1.5,-0.1l1.5,0.9l1.5,2.2l1.5,1.2l1.5,0.8l1.5,0.6l1.5,0.8l1.5,2l1.5,1.6l1.5,0.4l1.5,1.1l1.5,2.2l1.5,2.2l1.5,1.6l1.5,1.4l1.5,1.4l1.5,0.6l1.5,0.1l1.5,0.6l1.5,1.2l1.5,0.7l1.5,0.3l1.5,0.5l1.5,0.7l1.5,0.6l1.5,-0.4l1.5,-0.5l1.5,0.2l1.5,1l1.5,0.7l1.5,-0.9l1.5,-0.7l1.5,0.7l1.5,0.3l1.5,0l1.5,0.7l1.5,0.3l1.5,-0.4l1.5,-0.3l1.5,-0.1l1.5,0.1l1.5,0.6l1.5,1.2l1.5,0.3l1.5,-0.8l1.5,-0.7l1.5,-0.5l1.5,0.6l1.5,0.9l1.5,0.3l1.5,0.2l1.5,0.3l1.5,-0.2l1.5,0.2l1.5,0.2l1.5,-1.1l1.5,-0.3l1.5,0.6l1.5,0.3l1.5,0.3l1.5,0.4l1.5,0.2l1.5,0.6l1.5,0.6l1.5,0.1l1.5,-0.1l1.5,-0.4l1.5,0.1l1.5,0.9l1.5,1l1.5,0.5l1.5,0.5l1.5,0.4l1.5,-0.2l1.5,-0.2l1.5,0.7l1.5,0.9l1.5,0.5l1.5,-0.3l1.5,-0.4l1.5,0l1.5,-0.1l1.5,-0.3l1.5,0.6l1.5,1l1.5,0.5l1.5,-0.2l1.5,0.7l1.5,0.8l1.5,-0.2l1.5,-0.1l1.5,0l1.5,0.3l1.5,0.8l1.5,0.2l1.5,-0.6l1.5,0.3l1.5,1.1l1.5,0.3l1.5,0.2l1.5,0.3l1.5,-0.1l1.5,-0.4l1.5,-0.4l1.5,-0.2l1.5,0.6l1.5,0.3l1.5,0.7l1.5,0.9l1.5,-0.2l1.5,-0.9l1.5,-0.3l1.5,1l1.5,0.4l1.5,-0.7l1.5,-0.2l1.5,-0.1l1.5,-0.1l1.5,-0.4l1.5,-0.5l1.5,-0.1l1.5,0.5l1.5,1.1l1.5,0.3l1.5,-0.7l1.5,-0.3l1.5,-0.1l1.5,-0.1l1.5,-0.2l1.5,-0.3l1.5,-0.6l1.5,-0.6l1.5,-0.2l1.5,0.3l1.5,0.3l1.5,0.3l1.5,0.4l1.5,-0.8l1.5,-0.6l1.5,0.4l1.5,0.6l1.5,0.2l1.5,-0.9l1.5,-1.1l1.5,-0.1l1.5,0.4l1.5,-0.2l1.5,-0.3l1.5,0l1.5,0.4l1.5,0.1l1.5,-0.6l1.5,-1.3l1.5,-1.3l1.5,0l1.5,0.9l1.5,-0.5l1.5,-1.3l1.5,0.7l1.5,1.3l1.5,-0.1l1.5,-0.7l1.5,0l1.5,-0.2l1.5,0l1.5,0.6l1.5,-0.1l1.5,-1.1l1.5,-0.8l1.5,-0.4l1.5,0.6l1.5,1.5l1.5,0.6l1.5,-0.6l1.5,-0.5l1.5,-0.6l1.5,0.1l1.5,0.5l1.5,-0.2l1.5,-0.8l1.5,-0.9l1.5,-0.1l1.5,0.5l1.5,0.3l1.5,0.1l1.5,-0.1l1.5,0.1l1.5,0.3l1.5,0.2l1.5,-0.3l1.5,-0.4l1.5,0.3l1.5,0.3l1.5,-0.5l1.5,-0.7l1.5,0.1l1.5,0.7l1.5,0.6l1.5,0l1.5,-0.2l1.5,0l1.5,-0.4l1.5,-0.6l1.5,0.2l1.5,0.6l1.5,0.2l1.5,-0.6l1.5,-0.8l1.5,-0.2l1.5,0.4l1.5,0.2l1.5,-0.2l1.5,-0.2l1.5,-0.2l1.5,0.4l1.5,0.7l1.5,0.2l1.5,-0.3l1.5,-0.2l1.5,-0.2l1.5,-0.4l1.5,-0.1l1.5,0.8l1.5,0.7l1.5,-0.2l1.5,-0.7l1.5,-0.5l1.5,0l1.5,0.2l1.5,0.3l1.5,0.1l1.5,0l1.5,-0.1l1.5,-0.1l1.5,0l1.5,-0.2l1.5,-0.2l1.5,0.4l1.5,-0.2l1.5,-0.5" fill="none" stroke="#000080" stroke-width="2.2" stroke-linejoin="round"/>
<path d="M366.0,2989.1l1.5,-0.5l1.5,-1.6l1.5,0.5l1.5,1.4l1.5,0.3l1.5,-0.1l1.5,0l1.5,-0.4l1.5,-0.3l1.5,-0.4l1.5,-0.8l1.5,0.1l1.5,0.5l1.5,0.3l1.5,0.8l1.5,0.7l1.5,-0.3l1.5,-0.4l1.5,-0.4l1.5,-0.8l1.5,-0.4l1.5,0.6l1.5,-0.2l1.5,-1l1.5,0l1.5,0.8l1.5,0.5l1.5,0.5l1.5,0.1l1.5,-0.3l1.5,0.1l1.5,0.1l1.5,0l1.5,-0.1l1.5,-0.5l1.5,-0.4l1.5,0.2l1.5,0.5l1.5,-0.3l1.5,0.2l1.5,0.7l1.5,-0.5l1.5,-0.4l1.5,0.8l1.5,0.3l1.5,-0.4l1.5,-0.2l1.5,-0.6l1.5,-0.4l1.5,0.9l1.5,0.4l1.5,-0.6l1.5,-0.6l1.5,-0.7l1.5,-0.2l1.5,0.9l1.5,0.6l1.5,-0.1l1.5,0.3l1.5,0.3l1.5,-0.1l1.5,0.2l1.5,-0.1l1.5,-0.7l1.5,-0.4l1.5,-0.2l1.5,0.5l1.5,0.3l1.5,-0.6l1.5,-0.3l1.5,0.4l1.5,0.2l1.5,-0.1l1.5,0l1.5,0.1l1.5,-0.3l1.5,-0.1l1.5,0.6l1.5,0.2l1.5,-0.8l1.5,0.3l1.5,0.7l1.5,-0.8l1.5,-0.4l1.5,0.5l1.5,0.4l1.5,0l1.5,-0.3l1.5,0.2l1.5,0.7l1.5,-0.3l1.5,-0.3l1.5,0.1l1.5,-0.7l1.5,-0.9l1.5,0.5l1.5,0.6l1.5,0.2l1.5,0.3l1.5,0.2l1.5,-0.3l1.5,0.2l1.5,-0.2l1.5,-1.5l1.5,-0.5l1.5,0.5l1.5,-0.4l1.5,-0.5l1.5,0.6l1.5,0l1.5,-0.1l1.5,1.5l1.5,1.1l1.5,-0.5l1.5,-0.8l1.5,-0.5l1.5,-0.2l1.5,0.1l1.5,0.1l1.5,0.1l1.5,0.2l1.5,0.5l1.5,0.3l1.5,-0.7l1.5,-1.5l1.5,-0.4l1.5,0.9l1.5,0.2l1.5,0.2l1.5,0.1l1.5,0.1l1.5,0.2l1.5,-0.1l1.5,-0.5l1.5,-0.2l1.5,0.6l1.5,0.1l1.5,-0.2l1.5,0l1.5,-0.1l1.5,-0.4l1.5,-0.3l1.5,-0.3l1.5,-0.6l1.5,-0.1l1.5,0.3l1.5,-0.2l1.5,0.4l1.5,0.6l1.5,-0.8l1.5,0.1l1.5,0.8l1.5,-0.6l1.5,-0.2l1.5,0l1.5,-0.9l1.5,-1l1.5,0l1.5,0.8l1.5,-0.1l1.5,-0.7l1.5,0.3l1.5,0.5l1.5,0.4l1.5,-0.3l1.5,-0.7l1.5,0l1.5,0.7l1.5,1.2l1.5,0.5l1.5,-1.1l1.5,-0.8l1.5,0l1.5,-0.1l1.5,0.1l1.5,-0.1l1.5,-0.6l1.5,-0.3l1.5,0.4l1.5,0.4l1.5,0.1l1.5,0.4l1.5,-0.3l1.5,-0.3l1.5,-0.1l1.5,-0.4l1.5,0.6l1.5,0.4l1.5,-1l1.5,-0.3l1.5,0.7l1.5,0.3l1.5,-0.5l1.5,-0.2l1.5,0.1l1.5,-0.7l1.5,-0.7l1.5,0.2l1.5,-0.1l1.5,-0.3l1.5,0.3l1.5,0.3l1.5,-0.1l1.5,-0.7l1.5,-0.5l1.5,0.6l1.5,1.4l1.5,0.7l1.5,0.1l1.5,-0.1l1.5,-0.3l1.5,-0.9l1.5,-0.9l1.5,0.2l1.5,0.2l1.5,-0.4l1.5,0.2l1.5,0.9l1.5,-0.4l1.5,-0.7l1.5,0.5l1.5,0l1.5,-0.5l1.5,0l1.5,-0.5l1.5,-0.7l1.5,0.6l1.5,1.2l1.5,0.5l1.5,-0.5l1.5,-0.6l1.5,0.1l1.5,0.7l1.5,0.2l1.5,-0.7l1.5,0.1l1.5,0.9l1.5,-0.1l1.5,-0.6l1.5,-0.3l1.5,0.6l1.5,1.2l1.5,-0.1l1.5,-1.1l1.5,0l1.5,1.4l1.5,0.7l1.5,-0.3l1.5,-1l1.5,-1.4l1.5,0.1l1.5,1l1.5,0.3l1.5,-0.1l1.5,-0.3l1.5,0.1l1.5,0.4l1.5,0l1.5,0.1l1.5,0.3l1.5,0.3l1.5,0.6l1.5,-0.3l1.5,-1.1l1.5,-0.2l1.5,0.6l1.5,0.2l1.5,-0.1l1.5,0.6l1.5,0.5l1.5,-0.5l1.5,-0.6l1.5,-0.2l1.5,0.2l1.5,0.8l1.5,0.1l1.5,-1l1.5,-0.1l1.5,0.5l1.5,0.6l1.5,0.6l1.5,-0.1l1.5,-0.6l1.5,0.2l1.5,0.7l1.5,0.2l1.5,-0.2l1.5,-0.7l1.5,-1.3l1.5,-0.1l1.5,0.8l1.5,0.8l1.5,0.3l1.5,0.2l1.5,0.3l1.5,0.1l1.5,0.2l1.5,-0.7l1.5,-0.9l1.5,0.8l1.5,0.8l1.5,-0.2l1.5,0.8l1.5,0.2l1.5,-0.9l1.5,-0.5l1.5,-0.1l1.5,0.3l1.5,-0.3l1.5,-0.5l1.5,0.4l1.5,0.2l1.5,0.1l1.5,0.4l1.5,-0.1l1.5,0.1l1.5,1.1l1.5,0.6l1.5,-1l1.5,-1.2l1.5,0.1l1.5,0.6l1.5,0l1.5,-0.6l1.5,-0.8l1.5,-0.1l1.5,0.8l1.5,0.8l1.5,-0.7l1.5,-0.7l1.5,1.2l1.5,1.2l1.5,-0.9l1.5,-1.4l1.5,0.7l1.5,1.1l1.5,-0.2l1.5,-0.9l1.5,-0.7l1.5,0.3l1.5,0.7l1.5,0.5l1.5,0l1.5,-0.1l1.5,-0.2l1.5,-0.7l1.5,-0.1l1.5,0.6l1.5,0.2l1.5,0.1l1.5,0.4l1.5,-0.4l1.5,-0.7l1.5,-0.1l1.5,-0.3l1.5,-0.5l1.5,0.5l1.5,1.3l1.5,-0.2l1.5,-0.8l1.5,0.7l1.5,0.3l1.5,-0.6l1.5,0.6l1.5,0.6l1.5,-0.6l1.5,-0.3l1.5,-0.2l1.5,-1l1.5,-0.8l1.5,0.2l1.5,0.9l1.5,0.4l1.5,-0.9l1.5,-0.3l1.5,0.5l1.5,0.4l1.5,0.1l1.5,-0.2l1.5,-0.2l1.5,0l1.5,-0.2l1.5,-0.6l1.5,0.4l1.5,1.8l1.5,1l1.5,-1.5l1.5,-1.6l1.5,0.4l1.5,0.3l1.5,-0.9l1.5,-0.2l1.5,0.2l1.5,-0.3l1.5,0.4l1.5,0.6l1.5,-0.3l1.5,0.2l1.5,0.4l1.5,-1.2l1.5,-0.6l1.5,1.4l1.5,0.9l1.5,-0.6l1.5,-0.9l1.5,-0.8l1.5,0.3l1.5,1.4l1.5,0.3l1.5,-0.8l1.5,-1.1l1.5,-0.6l1.5,-0.2l1.5,0.4l1.5,0.5l1.5,-0.2l1.5,0l1.5,0.7l1.5,0.1l1.5,-0.3l1.5,-0.1l1.5,-0.7l1.5,-0.8l1.5,0.4l1.5,0.2l1.5,0.1l1.5,0.1l1.5,0.1l1.5,0.4l1.5,-0.3l1.5,-0.2l1.5,0l1.5,-0.1l1.5,0.3l1.5,0.2l1.5,-0.4l1.5,-0.9l1.5,-0.5l1.5,0.3l1.5,-0.2l1.5,-0.6l1.5,-0.1l1.5,0.2l1.5,0l1.5,0.4l1.5,0.8l1.5,0.3l1.5,-0.4l1.5,-0.9l1.5,-0.4l1.5,0.8l1.5,1.2l1.5,-0.1l1.5,-1l1.5,0.4l1.5,0.3l1.5,-1.2l1.5,0l1.5,0.8l1.5,-0.4l1.5,-0.5l1.5,0.7l1.5,0.3l1.5,-0.9l1.5,-0.9l1.5,0.4l1.5,0.8l1.5,0l1.5,-0.4l1.5,-0.1l1.5,0.1l1.5,-0.2l1.5,0l1.5,-0.5l1.5,-0.2l1.5,0.2l1.5,-0.8l1.5,-0.3l1.5,0.2l1.5,-0.8l1.5,-0.2l1.5,0.6l1.5,0.3l1.5,0.2l1.5,0.9l1.5,0.3l1.5,-0.2l1.5,0.2l1.5,-0.6l1.5,-1.6l1.5,-1.3l1.5,0.4l1.5,1.3l1.5,0.2l1.5,-0.4l1.5,0.3l1.5,0.2l1.5,-1l1.5,-0.9l1.5,0.2l1.5,0.6l1.5,0.6l1.5,-0.1l1.5,-0.6l1.5,-0.1l1.5,0.1l1.5,0.3l1.5,0.6l1.5,-0.2l1.5,-1l1.5,-0.7l1.5,-0.1l1.5,0l1.5,0.1l1.5,0l1.5,-0.4l1.5,-0.5l1.5,0.1l1.5,1.2l1.5,1l1.5,-0.4l1.5,-0.7l1.5,-0.3l1.5,0.1l1.5,0.3l1.5,-0.9l1.5,-1.2l1.5,0l1.5,0.3l1.5,-0.4l1.5,-0.3l1.5,-0.2l1.5,0.1l1.5,0.1l1.5,0.4l1.5,0.2l1.5,-1.4l1.5,-0.4l1.5,1.2l1.5,0.3l1.5,-0.2l1.5,0l1.5,0l1.5,0l1.5,0l1.5,-0.2l1.5,-0.5l1.5,0.1l1.5,0.1l1.5,-0.2l1.5,0.2l1.5,0.3l1.5,-0.3l1.5,-0.6l1.5,-0.7l1.5,-0.2l1.5,-0.1l1.5,-0.3l1.5,0l1.5,-0.2l1.5,-1.2l1.5,-0.8l1.5,-0.5l1.5,-0.7l1.5,0.2l1.5,0.2l1.5,-0.7l1.5,-0.6l1.5,-0.2l1.5,-0.3l1.5,-0.8l1.5,-1.9l1.5,-1.9l1.5,0.3l1.5,0.6l1.5,-0.9l1.5,-0.7l1.5,-0.4l1.5,-1.1l1.5,-0.7l1.5,-0.4l1.5,-1.1l1.5,-0.9l1.5,-1.2l1.5,-1.5l1.5,-1l1.5,-0.9l1.5,-0.7l1.5,-0.6l1.5,-1.5l1.5,-2.1l1.5,-1.5l1.5,-0.4l1.5,-0.6l1.5,-1.4l1.5,-1.3l1.5,-1.4l1.5,-2l1.5,-1.5l1.5,-1.2l1.5,-1.5l1.5,-1.1l1.5,-1.1l1.5,-1l1.5,-1.4l1.5,-1.3l1.5,-1.2l1.5,-2l1.5,-1.6l1.5,-1.1l1.5,-1.2l1.5,-1.3l1.5,-1.7l1.5,-1.9l1.5,-1.7l1.5,-1.4l1.5,-1.7l1.5,-1.6l1.5,-1.8l1.5,-2.4l1.5,-1.5l1.5,-0.8l1.5,-1l1.5,-1.9l1.5,-2.4l1.5,-0.8l1.5,-0.5l1.5,-1.6l1.5,-1.5l1.5,-1.8l1.5,-1.5l1.5,-1.7l1.5,-2.8l1.5,-2l1.5,-0.5l1.5,-1.1l1.5,-1.6l1.5,-1.5l1.5,-1.6l1.5,-1.8l1.5,-1.4l1.5,-1.7l1.5,-2l1.5,-1.1l1.5,-1.1l1.5,-1.2l1.5,-0.8l1.5,-1l1.5,-0.6l1.5,-1.1l1.5,-2.1l1.5,-1.1l1.5,0.1l1.5,-0.6l1.5,-0.4l1.5,-0.8l1.5,-1.5l1.5,-1.3l1.5,-1.6l1.5,-1.5l1.5,-0.9l1.5,-1.1l1.5,-1.4l1.5,-1.7l1.5,-1.7l1.5,-2.6l1.5,-2.9l1.5,-2l1.5,-1.4l1.5,-2.2l1.5,-2.8l1.5,-2.5l1.5,-3l1.5,-3.3l1.5,-2.1l1.5,-2.5l1.5,-3.3l1.5,-3.3l1.5,-3.8l1.5,-4.5l1.5,-4.9l1.5,-4.6l1.5,-4.7l1.5,-5.6l1.5,-5.8l1.5,-4.6l1.5,-3.8l1.5,-3.6l1.5,-3.6l1.5,-2.7l1.5,-1.2l1.5,-0.2l1.5,1.7l1.5,3.9l1.5,5.4l1.5,5.3l1.5,5.2l1.5,6.2l1.5,6.9l1.5,6.3l1.5,6.4l1.5,6l1.5,5l1.5,4.3l1.5,3.9l1.5,3.9l1.5,3.3l1.5,3.4l1.5,3l1.5,2.6l1.5,1.5l1.5,0l1.5,1.3l1.5,1.6l1.5,1l1.5,0.6l1.5,0l1.5,-0.1l1.5,0.3l1.5,0.1l1.5,0.1l1.5,0.6l1.5,0.1l1.5,-0.3l1.5,-0.1l1.5,0.2l1.5,0.4l1.5,0.5l1.5,0l1.5,-0.6l1.5,-0.1l1.5,0.7l1.5,0.1l1.5,-0.6l1.5,0.3l1.5,0l1.5,-0.4l1.5,0.3l1.5,0.7l1.5,0.6l1.5,0.2l1.5,0.4l1.5,0.3l1.5,-0.1l1.5,-0.4l1.5,0.5l1.5,0.8l1.5,-0.2l1.5,0.2l1.5,1.3l1.5,1.1l1.5,0.1l1.5,0.3l1.5,0.5l1.5,0.5l1.5,1l1.5,0.3l1.5,-0.1l1.5,0.9l1.5,0.9l1.5,0.2l1.5,0.8l1.5,1.2l1.5,1l1.5,0.2l1.5,0.1l1.5,0.3l1.5,0.4l1.5,1.5l1.5,1.6l1.5,0.6l1.5,0.8l1.5,1.8l1.5,1.3l1.5,0.1l1.5,0.4l1.5,1.3l1.5,0.8l1.5,0.7l1.5,2.2l1.5,2l1.5,0.1l1.5,0.8l1.5,1.8l1.5,1.1l1.5,0.1l1.5,0.9l1.5,1.7l1.5,1.4l1.5,0.6l1.5,0.3l1.5,1.1l1.5,1.7l1.5,0.5l1.5,0.5l1.5,0.8l1.5,0.6l1.5,1.5l1.5,2.2l1.5,1.3l1.5,0.8l1.5,0.4l1.5,0.1l1.5,1.2l1.5,2.4l1.5,1.5l1.5,-0.2l1.5,-0.5l1.5,0.9l1.5,1.8l1.5,0.5l1.5,-0.3l1.5,0.9l1.5,1.5l1.5,0.2l1.5,-0.8l1.5,0l1.5,0l1.5,-0.9l1.5,-0.6l1.5,0.5l1.5,0.7l1.5,-0.4l1.5,-1.9l1.5,-2.7l1.5,-2.4l1.5,-1.7l1.5,-1.7l1.5,-3l1.5,-4.5l1.5,-5.1l1.5,-6l1.5,-5.9l1.5,-5.4l1.5,-6.5l1.5,-7.2l1.5,-6.3l1.5,-5.6l1.5,-5.9l1.5,-5.1l1.5,-4.1l1.5,-2.2l1.5,-0.6l1.5,-0.4l1.5,0.9l1.5,2.7l1.5,3.7l1.5,4.2l1.5,4.8l1.5,6.4l1.5,6.2l1.5,6.2l1.5,7.2l1.5,6.7l1.5,6l1.5,5.4l1.5,4l1.5,4.1l1.5,4.9l1.5,4.5l1.5,2.9l1.5,1.8l1.5,1.6l1.5,2.1l1.5,1.6l1.5,0.4l1.5,0.6l1.5,1.3l1.5,0.9l1.5,0.6l1.5,0.8l1.5,-0.2l1.5,-0.8l1.5,0.4l1.5,1.7l1.5,0.8l1.5,0.5l1.5,1l1.5,1.1l1.5,0.6l1.5,0.3l1.5,0.1l1.5,0.2l1.5,0.5l1.5,0.4l1.5,1.2l1.5,1.2l1.5,0.6l1.5,0.2l1.5,0.1l1.5,0.7l1.5,1.2l1.5,1.5l1.5,1.6l1.5,1.3l1.5,1.3l1.5,0.7l1.5,0.3l1.5,1l1.5,1.6l1.5,0.8l1.5,0.1l1.5,0.8l1.5,1.4l1.5,0.7l1.5,-0.1l1.5,-0.4l1.5,-0.3l1.5,0.4l1.5,0.3l1.5,0l1.5,-0.3l1.5,-0.4l1.5,-0.5l1.5,-0.9l1.5,-0.7l1.5,-1l1.5,-1.6l1.5,-0.5l1.5,0.2l1.5,0.1l1.5,0.1l1.5,-0.2l1.5,-0.8l1.5,-0.6l1.5,-0.2l1.5,-0.4l1.5,0.1l1.5,0.5l1.5,0.7l1.5,0.6l1.5,1.3l1.5,2.1l1.5,1.5l1.5,1l1.5,0.1l1.5,0.2l1.5,1l1.5,1l1.5,1l1.5,1.5l1.5,1.1l1.5,0.4l1.5,0.9l1.5,1.5l1.5,1.5l1.5,0.7l1.5,0.3l1.5,1.1l1.5,1.5l1.5,0.8l1.5,-0.3l1.5,-0.6l1.5,-0.6l1.5,-0.3l1.5,-0.2l1.5,0.1l1.5,0.4l1.5,0.4l1.5,0.3l1.5,-0.3l1.5,-0.7l1.5,-0.7l1.5,0l1.5,0.6l1.5,0.2l1.5,0.1l1.5,-0.7l1.5,0.1l1.5,0.4l1.5,-0.9l1.5,-0.1l1.5,0.8l1.5,-0.2l1.5,0l1.5,0.5l1.5,-0.9l1.5,-0.8l1.5,0.8l1.5,0.1l1.5,0.1l1.5,0.1l1.5,-0.6l1.5,-0.2l1.5,0.8l1.5,0.2l1.5,0.1l1.5,0.8l1.5,0l1.5,-0.6l1.5,0.7l1.5,1.1l1.5,0.7l1.5,0.3l1.5,0l1.5,0l1.5,-0.5l1.5,-0.3l1.5,1.1l1.5,1.2l1.5,0.3l1.5,-0.5l1.5,-0.1l1.5,0.7l1.5,0.7l1.5,0.3l1.5,0.1l1.5,0.1l1.5,0.8l1.5,0.9l1.5,-0.6l1.5,-1.5l1.5,-1l1.5,0.4l1.5,0l1.5,-0.7l1.5,-1.2l1.5,-1.7l1.5,-0.8l1.5,-0.1l1.5,-0.4l1.5,-1.2l1.5,-0.5l1.5,-0.3l1.5,-1.2l1.5,-0.4l1.5,-0.2l1.5,-1.4l1.5,-1.2l1.5,-0.4l1.5,-0.6l1.5,-0.3l1.5,0.1l1.5,0.9l1.5,1.1l1.5,-0.4l1.5,-0.8l1.5,0.5l1.5,1l1.5,0.2l1.5,-0.5l1.5,0.6l1.5,1.4l1.5,0.6l1.5,0.8l1.5,1.2l1.5,0.8l1.5,0.8l1.5,0.5l1.5,0.7l1.5,1.5l1.5,1.1l1.5,0l1.5,0.4l1.5,0.9l1.5,0.6l1.5,0.6l1.5,1.4l1.5,2l1.5,0.8l1.5,-0.8l1.5,-0.2l1.5,1.2l1.5,1.1l1.5,-0.7l1.5,-0.5l1.5,1l1.5,0.7l1.5,0.3l1.5,-0.2l1.5,-0.2l1.5,0.9l1.5,0.3l1.5,-1.1l1.5,-0.8l1.5,0.4l1.5,0.9l1.5,0.8l1.5,0l1.5,0l1.5,0.3l1.5,0.2l1.5,0.4l1.5,0.4l1.5,-0.2l1.5,-0.5l1.5,0.1l1.5,0.8l1.5,1l1.5,-0.2l1.5,-0.9l1.5,-0.5l1.5,-0.9l1.5,-0.2l1.5,0.8l1.5,0.1l1.5,-0.3l1.5,0.6l1.5,0.2l1.5,-1.2l1.5,-0.8l1.5,0.5l1.5,0.9l1.5,-0.2l1.5,-0.3l1.5,0.1l1.5,0.2l1.5,0.2l1.5,0.2l1.5,0.5l1.5,0.1l1.5,-0.7l1.5,-0.2l1.5,-0.1l1.5,0l1.5,1l1.5,0.2l1.5,-0.4l1.5,0.5l1.5,-0.4l1.5,-1.3l1.5,-0.5l1.5,0.9l1.5,0.7l1.5,0.4l1.5,0.5l1.5,0.2l1.5,0.1l1.5,-0.3l1.5,0.2l1.5,1l1.5,1l1.5,0.4l1.5,-0.2l1.5,0l1.5,0.5l1.5,0.2l1.5,0.2l1.5,0.9l1.5,0.3l1.5,-0.1l1.5,0.8l1.5,1.4l1.5,0.2l1.5,-0.9l1.5,0.5l1.5,1.4l1.5,0.6l1.5,-0.3l1.5,-0.6l1.5,0.2l1.5,0.4l1.5,-0.2l1.5,-0.3l1.5,0.9l1.5,1.4l1.5,-0.4l1.5,-0.6l1.5,0.2l1.5,-0.2l1.5,-0.3l1.5,-0.3l1.5,-0.5l1.5,0.1l1.5,0.6l1.5,-0.5l1.5,-0.6l1.5,0.2l1.5,-0.9l1.5,-0.8l1.5,0.6l1.5,0.2l1.5,-0.9l1.5,-0.5l1.5,0.3l1.5,-0.2l1.5,-0.6l1.5,-0.5l1.5,0.3l1.5,-0.1l1.5,-1.1l1.5,-0.4l1.5,0.2l1.5,-0.7l1.5,-1.1l1.5,-0.5l1.5,-0.6l1.5,-0.6l1.5,0.4l1.5,0.5l1.5,-0.1l1.5,-0.2l1.5,-0.7l1.5,-0.7l1.5,-0.5l1.5,-0.3l1.5,0.4l1.5,0.4l1.5,-0.3l1.5,-1.1l1.5,-0.6l1.5,0.4l1.5,-0.1l1.5,-0.6l1.5,0.3l1.5,0.8l1.5,0.3l1.5,0.9l1.5,0.1l1.5,-1.1l1.5,0.5l1.5,1.4l1.5,-0.2l1.5,-0.9l1.5,0.8l1.5,0.4l1.5,-0.9l1.5,0.8l1.5,0.9l1.5,-0.5l1.5,0.1l1.5,0.4l1.5,-0.1l1.5,1l1.5,0.9l1.5,-0.6l1.5,-0.1l1.5,1.1l1.5,0.4l1.5,-0.3l1.5,-0.2l1.5,0.6l1.5,0.4l1.5,-0.8l1.5,-0.6l1.5,0.6l1.5,1.4l1.5,0.5l1.5,-0.2l1.5,0.4l1.5,0.8l1.5,0.3l1.5,-0.7l1.5,-0.1l1.5,0.7l1.5,0.8l1.5,-0.6l1.5,-0.8l1.5,0.3l1.5,-0.1l1.5,-0.2l1.5,0.4l1.5,-0.2l1.5,-0.7l1.5,0.4l1.5,0.9l1.5,-0.1l1.5,-0.9l1.5,-0.4l1.5,0l1.5,-0.6l1.5,-0.4l1.5,0.1l1.5,0.1l1.5,0.3l1.5,-0.1l1.5,-0.8l1.5,-0.7l1.5,-0.5l1.5,-0.6l1.5,-0.6l1.5,0l1.5,0.1l1.5,-0.3l1.5,0.2l1.5,-0.6l1.5,-1l1.5,0.1l1.5,-0.7l1.5,-1l1.5,-0.4l1.5,-0.6l1.5,-0.7" fill="none" stroke="#FF00FF" stroke-width="2.2" stroke-linejoin="round"/>
<path d="M366.0,3092.8l1.5,0l1.5,-0.4l1.5,-0.4l1.5,-0.1l1.5,0.1l1.5,0.8l1.5,0.5l1.5,-0.7l1.5,-0.3l1.5,0.6l1.5,0.1l1.5,-0.4l1.5,-0.4l1.5,0.4l1.5,0.1l1.5,-0.7l1.5,-0.5l1.5,-0.4l1.5,-0.2l1.5,0.3l1.5,0.5l1.5,0.3l1.5,0.5l1.5,0.2l1.5,-0.8l1.5,-0.9l1.5,0.6l1.5,0.9l1.5,-0.3l1.5,-0.5l1.5,-0.1l1.5,0.1l1.5,0.5l1.5,0.5l1.5,-0.3l1.5,0.2l1.5,0.3l1.5,-0.5l1.5,-0.1l1.5,0.3l1.5,-0.4l1.5,-0.3l1.5,0.7l1.5,0.2l1.5,-0.6l1.5,0.4l1.5,0l1.5,0.1l1.5,0.9l1.5,-0.5l1.5,-1.1l1.5,0.3l1.5,0.4l1.5,-0.1l1.5,0.1l1.5,0l1.5,0.4l1.5,0l1.5,-0.7l1.5,-0.3l1.5,0.1l1.5,-0.3l1.5,-0.4l1.5,0.1l1.5,0.7l1.5,0.7l1.5,-0.2l1.5,-1.2l1.5,0l1.5,0.2l1.5,-0.6l1.5,0.2l1.5,1l1.5,0.6l1.5,-0.2l1.5,-0.7l1.5,-0.3l1.5,0.5l1.5,0.5l1.5,-0.6l1.5,-0.3l1.5,0.3l1.5,-0.1l1.5,-0.5l1.5,-0.2l1.5,0.2l1.5,0.5l1.5,0.6l1.5,0l1.5,-0.4l1.5,-0.1l1.5,0.1l1.5,0.1l1.5,0l1.5,-0.5l1.5,-0.4l1.5,-0.2l1.5,-0.8l1.5,-0.3l1.5,0.7l1.5,0.4l1.5,1l1.5,0.6l1.5,-1.1l1.5,-0.5l1.5,0.5l1.5,0.2l1.5,-0.3l1.5,0l1.5,0.5l1.5,-0.3l1.5,-0.7l1.5,0.1l1.5,0l1.5,-0.2l1.5,0.1l1.5,0.2l1.5,0.5l1.5,0l1.5,-0.5l1.5,-0.3l1.5,-0.4l1.5,-0.7l1.5,0.3l1.5,0.4l1.5,-0.2l1.5,0.2l1.5,0.1l1.5,0.2l1.5,0.2l1.5,0.3l1.5,-0.4l1.5,-0.4l1.5,1.1l1.5,0.5l1.5,-0.9l1.5,-0.5l1.5,-0.3l1.5,0.1l1.5,0.5l1.5,-0.3l1.5,-0.4l1.5,-0.2l1.5,-0.4l1.5,0.4l1.5,0.8l1.5,0.2l1.5,-0.1l1.5,-0.4l1.5,-0.6l1.5,-0.1l1.5,0.1l1.5,0.1l1.5,-0.1l1.5,-0.4l1.5,-0.4l1.5,0.6l1.5,0.8l1.5,-0.7l1.5,-0.5l1.5,0.9l1.5,0.1l1.5,-1l1.5,-0.2l1.5,-0.3l1.5,-0.2l1.5,0.8l1.5,0.2l1.5,-0.5l1.5,-0.2l1.5,0l1.5,-0.3l1.5,-0.4l1.5,-0.7l1.5,0.3l1.5,0.7l1.5,-0.3l1.5,-0.4l1.5,-0.2l1.5,-0.6l1.5,0l1.5,0.1l1.5,-0.3l1.5,-0.4l1.5,0.3l1.5,0.3l1.5,-0.3l1.5,-0.8l1.5,-1.1l1.5,-0.3l1.5,0.9l1.5,0.1l1.5,-0.7l1.5,-0.1l1.5,0.1l1.5,-0.2l1.5,-0.5l1.5,-0.5l1.5,-0.3l1.5,-0.6l1.5,0.1l1.5,0.2l1.5,0.1l1.5,0.4l1.5,-0.9l1.5,-2l1.5,-0.6l1.5,0.5l1.5,-0.2l1.5,0l1.5,-0.1l1.5,-1.5l1.5,-0.5l1.5,0.9l1.5,0.3l1.5,-0.3l1.5,-0.4l1.5,-0.8l1.5,-0.4l1.5,0.2l1.5,-0.4l1.5,-0.1l1.5,0.7l1.5,0.3l1.5,-0.4l1.5,-0.7l1.5,-0.4l1.5,-0.2l1.5,0.2l1.5,0.3l1.5,0l1.5,0.3l1.5,0.8l1.5,-0.1l1.5,-0.8l1.5,0.1l1.5,0.1l1.5,-0.6l1.5,-0.5l1.5,0.5l1.5,0.7l1.5,0l1.5,-0.2l1.5,0.2l1.5,0.4l1.5,-0.8l1.5,-1l1.5,-0.1l1.5,-0.6l1.5,-0.2l1.5,1.7l1.5,1.4l1.5,-0.4l1.5,-0.9l1.5,0.4l1.5,1l1.5,0.1l1.5,-0.3l1.5,0l1.5,0.3l1.5,0.5l1.5,0.1l1.5,-0.6l1.5,-0.2l1.5,0.2l1.5,0.4l1.5,0.1l1.5,-0.4l1.5,0.1l1.5,0.1l1.5,0.2l1.5,1.4l1.5,0.2l1.5,-0.7l1.5,0.2l1.5,-0.6l1.5,-0.9l1.5,0.8l1.5,0.7l1.5,-0.2l1.5,-0.3l1.5,0.3l1.5,0.7l1.5,0.7l1.5,-0.1l1.5,0.1l1.5,0.3l1.5,-0.6l1.5,-0.8l1.5,0.3l1.5,1.4l1.5,0.7l1.5,-0.2l1.5,-0.2l1.5,-0.2l1.5,-0.2l1.5,-0.1l1.5,0l1.5,0.7l1.5,0.7l1.5,-0.2l1.5,-0.7l1.5,-0.4l1.5,0.5l1.5,1l1.5,0l1.5,-0.6l1.5,-0.5l1.5,-0.2l1.5,0.7l1.5,0.5l1.5,-0.3l1.5,-0.2l1.5,0.2l1.5,-0.3l1.5,-0.4l1.5,0.1l1.5,0.6l1.5,0.3l1.5,0l1.5,0.6l1.5,0.4l1.5,-0.8l1.5,-0.5l1.5,0.3l1.5,-0.1l1.5,-0.2l1.5,0.9l1.5,0.7l1.5,-0.8l1.5,-0.9l1.5,0l1.5,0l1.5,-0.4l1.5,0.3l1.5,0.7l1.5,0l1.5,0.7l1.5,0.4l1.5,-0.5l1.5,0.2l1.5,0.2l1.5,-0.9l1.5,-1l1.5,-0.1l1.5,0.9l1.5,1l1.5,-0.4l1.5,-1.1l1.5,-0.4l1.5,0.4l1.5,0.4l1.5,0.1l1.5,0.1l1.5,0l1.5,-0.3l1.5,0.1l1.5,0.1l1.5,0l1.5,0.7l1.5,0.5l1.5,-0.5l1.5,-1.1l1.5,-0.5l1.5,0l1.5,-0.6l1.5,0.3l1.5,1.3l1.5,0.3l1.5,-0.9l1.5,-0.8l1.5,0.2l1.5,0.6l1.5,1.1l1.5,0.7l1.5,-1l1.5,-1.2l1.5,-0.2l1.5,0.4l1.5,0l1.5,-0.2l1.5,0l1.5,0.3l1.5,0.9l1.5,0.6l1.5,-0.5l1.5,-0.6l1.5,0l1.5,-0.2l1.5,-0.3l1.5,-0.3l1.5,-0.6l1.5,0.2l1.5,1l1.5,0.1l1.5,0.2l1.5,-0.2l1.5,-1.1l1.5,0l1.5,0.9l1.5,0.1l1.5,0l1.5,0.4l1.5,-0.5l1.5,-0.9l1.5,0.2l1.5,0.9l1.5,-0.4l1.5,-0.5l1.5,0.9l1.5,0.7l1.5,-0.3l1.5,-0.7l1.5,-0.7l1.5,0.6l1.5,1l1.5,0l1.5,-0.4l1.5,-0.6l1.5,-0.7l1.5,-0.4l1.5,0.5l1.5,0.5l1.5,-0.2l1.5,0.4l1.5,-0.1l1.5,-0.9l1.5,-0.1l1.5,0.3l1.5,0.1l1.5,-0.3l1.5,-0.1l1.5,-0.1l1.5,-0.3l1.5,0l1.5,0.8l1.5,0.2l1.5,-0.7l1.5,0l1.5,-0.1l1.5,0.2l1.5,0.5l1.5,0.3l1.5,0l1.5,-0.4l1.5,-0.1l1.5,-0.2l1.5,-0.1l1.5,0.3l1.5,0.2l1.5,0l1.5,-0.5l1.5,-0.5l1.5,0.3l1.5,0.6l1.5,0l1.5,-0.6l1.5,-0.5l1.5,-0.1l1.5,0.4l1.5,-0.5l1.5,-0.5l1.5,1.1l1.5,0.4l1.5,-1.1l1.5,-0.4l1.5,0.2l1.5,0.3l1.5,0.3l1.5,-0.2l1.5,0l1.5,0.4l1.5,-0.1l1.5,-0.2l1.5,-0.6l1.5,-0.7l1.5,0.5l1.5,1.2l1.5,-0.1l1.5,-0.4l1.5,-0.1l1.5,-0.1l1.5,0.4l1.5,0.1l1.5,-1.3l1.5,-1l1.5,-0.1l1.5,0.5l1.5,1l1.5,0l1.5,-1.1l1.5,-0.5l1.5,0.8l1.5,0l1.5,-1l1.5,0.1l1.5,0.6l1.5,0l1.5,-0.5l1.5,-0.6l1.5,-0.4l1.5,0.5l1.5,1.2l1.5,-0.1l1.5,-1.1l1.5,-0.9l1.5,-0.4l1.5,0.5l1.5,0.5l1.5,0l1.5,-0.4l1.5,-0.4l1.5,0.2l1.5,0.6l1.5,0.8l1.5,0l1.5,-1.2l1.5,-0.8l1.5,0l1.5,-0.2l1.5,-0.1l1.5,0l1.5,0l1.5,0.4l1.5,0.1l1.5,-0.2l1.5,-0.3l1.5,-0.6l1.5,-0.1l1.5,0.2l1.5,0.2l1.5,0.3l1.5,-0.3l1.5,-0.4l1.5,0l1.5,-0.2l1.5,0.1l1.5,-0.1l1.5,-0.3l1.5,0.7l1.5,0.5l1.5,-0.2l1.5,-0.2l1.5,-0.2l1.5,-0.2l1.5,0.2l1.5,0.2l1.5,-0.1l1.5,-0.1l1.5,0.4l1.5,0.2l1.5,-0.3l1.5,0.1l1.5,-0.2l1.5,-0.5l1.5,0.4l1.5,0.3l1.5,-0.3l1.5,-0.4l1.5,-0.7l1.5,-0.2l1.5,0.2l1.5,-0.3l1.5,-1l1.5,-0.9l1.5,0.4l1.5,0.3l1.5,-0.6l1.5,-1.5l1.5,-1l1.5,0l1.5,-1.2l1.5,-1.4l1.5,-0.2l1.5,-0.8l1.5,-0.9l1.5,0.3l1.5,0.1l1.5,-0.8l1.5,-0.4l1.5,0.2l1.5,-0.8l1.5,-1.7l1.5,-1.5l1.5,-1.2l1.5,-0.3l1.5,0l1.5,-0.4l1.5,-0.6l1.5,-0.8l1.5,-1.2l1.5,-0.6l1.5,-0.2l1.5,-0.5l1.5,-0.8l1.5,-1.2l1.5,-1.3l1.5,-1.1l1.5,-1.6l1.5,-1.1l1.5,-0.1l1.5,-0.6l1.5,-1.5l1.5,-1.6l1.5,-1l1.5,-0.8l1.5,-1.7l1.5,-1.4l1.5,-0.1l1.5,0l1.5,-1.3l1.5,-1.6l1.5,-0.9l1.5,-1.5l1.5,-2.1l1.5,-0.5l1.5,-0.1l1.5,-0.7l1.5,-0.9l1.5,-1.6l1.5,-2.1l1.5,-1.5l1.5,-1.6l1.5,-2l1.5,-1.4l1.5,-0.6l1.5,-1.3l1.5,-2.3l1.5,-2l1.5,-1.1l1.5,-1.1l1.5,-1.5l1.5,-1.7l1.5,-2.1l1.5,-1.5l1.5,-0.8l1.5,-0.6l1.5,-1.4l1.5,-2.2l1.5,-1l1.5,-0.3l1.5,-1.2l1.5,-0.9l1.5,0.3l1.5,-0.4l1.5,-1.1l1.5,-0.8l1.5,-0.5l1.5,-0.6l1.5,-0.8l1.5,-1.4l1.5,-0.8l1.5,-0.3l1.5,-0.5l1.5,-0.3l1.5,-0.8l1.5,-1.2l1.5,-0.6l1.5,-0.3l1.5,-0.7l1.5,-1.2l1.5,-0.8l1.5,0.4l1.5,-0.1l1.5,-1.4l1.5,-2.2l1.5,-1.3l1.5,-0.9l1.5,-2.1l1.5,-2.1l1.5,-1l1.5,-1.5l1.5,-2.6l1.5,-2.5l1.5,-1.4l1.5,-1.1l1.5,-2.1l1.5,-2.1l1.5,-1.8l1.5,-2.3l1.5,-2.6l1.5,-2.8l1.5,-3.1l1.5,-3.3l1.5,-2.8l1.5,-2.7l1.5,-4l1.5,-4.5l1.5,-4.2l1.5,-3.9l1.5,-4.5l1.5,-5.1l1.5,-4.2l1.5,-2.3l1.5,-1.6l1.5,-2.5l1.5,-2l1.5,0.4l1.5,1.3l1.5,1.2l1.5,2.8l1.5,4.6l1.5,4.6l1.5,4.5l1.5,5.2l1.5,6.1l1.5,5.2l1.5,4.1l1.5,3.4l1.5,3.2l1.5,4.1l1.5,3.6l1.5,2.9l1.5,2.4l1.5,1.2l1.5,1.2l1.5,1.9l1.5,1.3l1.5,0.9l1.5,0.8l1.5,0.2l1.5,0.6l1.5,1.6l1.5,1.1l1.5,0.9l1.5,0.7l1.5,-0.9l1.5,-0.8l1.5,0.5l1.5,0.8l1.5,1l1.5,0.6l1.5,0.3l1.5,0.9l1.5,0.9l1.5,1.1l1.5,0.9l1.5,0.7l1.5,0.7l1.5,0.6l1.5,0.3l1.5,0.6l1.5,2l1.5,2.3l1.5,1.1l1.5,0.3l1.5,-0.2l1.5,0.4l1.5,1l1.5,0.4l1.5,0.1l1.5,0.5l1.5,0.5l1.5,0.3l1.5,0.1l1.5,0.1l1.5,1l1.5,1.2l1.5,-0.6l1.5,-0.6l1.5,0.3l1.5,-0.5l1.5,-1.1l1.5,0l1.5,0.4l1.5,-0.3l1.5,0.1l1.5,0.2l1.5,-0.6l1.5,-0.2l1.5,0.7l1.5,0.2l1.5,-0.7l1.5,0.1l1.5,1.2l1.5,1.1l1.5,0.9l1.5,0.1l1.5,-0.3l1.5,0.7l1.5,0.5l1.5,0.4l1.5,0.7l1.5,-0.1l1.5,0l1.5,0.9l1.5,0.7l1.5,1.1l1.5,1.4l1.5,1.2l1.5,0.8l1.5,-0.4l1.5,-0.3l1.5,0.8l1.5,0.9l1.5,1.2l1.5,1.6l1.5,0.6l1.5,0.8l1.5,2.1l1.5,1.7l1.5,1.2l1.5,1.4l1.5,1.2l1.5,1.4l1.5,1.4l1.5,1l1.5,0.8l1.5,0.5l1.5,0.2l1.5,1l1.5,1.1l1.5,0.3l1.5,0.5l1.5,1.1l1.5,-0.3l1.5,-1.4l1.5,-0.4l1.5,0.5l1.5,0l1.5,-0.5l1.5,-0.4l1.5,-0.4l1.5,-0.4l1.5,-0.8l1.5,-0.3l1.5,0.6l1.5,-0.4l1.5,-2.1l1.5,-1.4l1.5,-0.3l1.5,-0.4l1.5,-1.1l1.5,-0.9l1.5,-0.7l1.5,-1.4l1.5,-1.3l1.5,-1.7l1.5,-2.4l1.5,-2l1.5,-1.8l1.5,-2.5l1.5,-3.9l1.5,-4.3l1.5,-3.3l1.5,-3l1.5,-3.9l1.5,-4.4l1.5,-3.5l1.5,-2.5l1.5,-2.4l1.5,-1.8l1.5,0.3l1.5,1.7l1.5,1.7l1.5,2.1l1.5,2.9l1.5,3.6l1.5,3.8l1.5,4.9l1.5,5.5l1.5,3.8l1.5,3.1l1.5,3.8l1.5,4.1l1.5,3.2l1.5,1.6l1.5,1.6l1.5,2.4l1.5,2.2l1.5,1.8l1.5,1.6l1.5,1.1l1.5,0.5l1.5,0.6l1.5,1.8l1.5,1.8l1.5,0.3l1.5,0.2l1.5,1.1l1.5,0.9l1.5,0l1.5,0.6l1.5,1.3l1.5,0.7l1.5,0.4l1.5,0.8l1.5,0.8l1.5,0.8l1.5,0.6l1.5,0.5l1.5,1.4l1.5,1.1l1.5,0.2l1.5,0.9l1.5,0.9l1.5,0.3l1.5,0.4l1.5,0.7l1.5,1.5l1.5,1.4l1.5,-0.3l1.5,-1.1l1.5,-0.3l1.5,-0.2l1.5,0l1.5,-0.3l1.5,-0.8l1.5,-0.1l1.5,0.2l1.5,-0.2l1.5,-0.9l1.5,-0.9l1.5,0.1l1.5,0l1.5,-0.4l1.5,-0.4l1.5,-1.1l1.5,-0.4l1.5,1.1l1.5,0.6l1.5,-0.2l1.5,0.4l1.5,0.5l1.5,-0.1l1.5,0.2l1.5,1.3l1.5,0.9l1.5,0.5l1.5,1.1l1.5,0.5l1.5,0.9l1.5,1.8l1.5,0.5l1.5,0.3l1.5,1.5l1.5,2.1l1.5,1l1.5,0.3l1.5,1l1.5,0.9l1.5,0.3l1.5,0.8l1.5,0.6l1.5,0.1l1.5,0.5l1.5,0.6l1.5,0.1l1.5,-0.2l1.5,0.3l1.5,0.6l1.5,0.1l1.5,0.2l1.5,0.2l1.5,0.1l1.5,-0.1l1.5,-0.8l1.5,-0.3l1.5,0.3l1.5,0.8l1.5,-0.5l1.5,-1.9l1.5,0l1.5,1.1l1.5,0.5l1.5,-0.3l1.5,-0.4l1.5,0.1l1.5,0l1.5,0l1.5,-0.6l1.5,-0.7l1.5,0.2l1.5,0.5l1.5,0.3l1.5,-0.2l1.5,-0.2l1.5,0.2l1.5,-0.2l1.5,-0.3l1.5,0.2l1.5,1l1.5,1.1l1.5,0.4l1.5,0.1l1.5,0.3l1.5,0l1.5,0.1l1.5,0.7l1.5,0.4l1.5,-0.3l1.5,-0.1l1.5,0.4l1.5,0.2l1.5,0.3l1.5,0.7l1.5,0.2l1.5,-0.1l1.5,0.1l1.5,0.5l1.5,0.3l1.5,0.3l1.5,0.8l1.5,0.3l1.5,0.1l1.5,-0.5l1.5,-1l1.5,-0.2l1.5,0.4l1.5,-0.2l1.5,-0.4l1.5,-0.8l1.5,-0.8l1.5,-0.4l1.5,-0.3l1.5,0.2l1.5,-0.2l1.5,-0.6l1.5,0l1.5,-0.5l1.5,-1.3l1.5,-0.9l1.5,-0.4l1.5,-0.5l1.5,0.7l1.5,0.5l1.5,-0.7l1.5,-0.7l1.5,-0.5l1.5,-0.2l1.5,-0.1l1.5,-0.1l1.5,0.5l1.5,0.2l1.5,-0.7l1.5,-0.9l1.5,-0.2l1.5,0.3l1.5,0.3l1.5,0.3l1.5,0.5l1.5,0l1.5,-0.7l1.5,0.6l1.5,1.2l1.5,0.1l1.5,0l1.5,0.5l1.5,0.5l1.5,1.7l1.5,2l1.5,-0.1l1.5,-1l1.5,0.3l1.5,1.3l1.5,0.9l1.5,0l1.5,0.4l1.5,1.4l1.5,0.5l1.5,-0.6l1.5,-0.6l1.5,0l1.5,0.1l1.5,0.4l1.5,0.9l1.5,0.5l1.5,0.7l1.5,1l1.5,-0.5l1.5,-0.8l1.5,0.7l1.5,0.3l1.5,-1l1.5,-0.3l1.5,0.1l1.5,0.4l1.5,0.3l1.5,-0.9l1.5,0l1.5,0.9l1.5,0.4l1.5,0.3l1.5,0.1l1.5,0.1l1.5,-0.2l1.5,-0.8l1.5,0.1l1.5,0.4l1.5,0.3l1.5,0l1.5,-0.6l1.5,0.2l1.5,0.7l1.5,-0.1l1.5,-0.1l1.5,1.2l1.5,-0.3l1.5,-1.7l1.5,0.3l1.5,0.9l1.5,-0.8l1.5,-1.4l1.5,-1.1l1.5,-1l1.5,-0.9l1.5,-0.8l1.5,-1l1.5,-1.7l1.5,-2.1l1.5,-1.9l1.5,-1.7l1.5,-2l1.5,-1.6l1.5,-1.5l1.5,-2.1l1.5,-2.1l1.5,-2l1.5,-1.9l1.5,-1.7l1.5,-0.9l1.5,-0.6l1.5,-0.4l1.5,0.6l1.5,0.2l1.5,0.1l1.5,1.1l1.5,1.7l1.5,1.9l1.5,2.2l1.5,2.3l1.5,1.1l1.5,1.1l1.5,2.1l1.5,2.2l1.5,2.8l1.5,2.7l1.5,1l1.5,0.2l1.5,1.6l1.5,2.1l1.5,0.6l1.5,0.4l1.5,1.4l1.5,1.3l1.5,0l1.5,-0.3l1.5,0.4l1.5,0.4l1.5,-0.1l1.5,0.2l1.5,0.8l1.5,0.5l1.5,0.8l1.5,1.4l1.5,0.9l1.5,-0.5l1.5,-0.2l1.5,0.7l1.5,0.7l1.5,0.2l1.5,-0.7l1.5,-0.9l1.5,-0.4l1.5,0.5l1.5,0.8l1.5,-0.3l1.5,-0.7l1.5,-0.1l1.5,0.3l1.5,-0.1l1.5,-0.7l1.5,-0.8l1.5,-0.9l1.5,0.4l1.5,0.3l1.5,-1.2l1.5,-0.3l1.5,0.3l1.5,-0.7l1.5,-0.6l1.5,-0.1l1.5,-0.2l1.5,-0.9l1.5,-1l1.5,-0.1l1.5,-0.3l1.5,-0.2l1.5,0.2l1.5,0.1l1.5,-0.5l1.5,-0.8l1.5,0.1l1.5,0.2l1.5,-0.3l1.5,-0.6l1.5,-1.2l1.5,-0.4l1.5,-0.4l1.5,-0.8l1.5,-0.2l1.5,-0.2l1.5,-0.7l1.5,-0.7l1.5,0.2l1.5,0.8l1.5,0.7l1.5,-0.1l1.5,-0.6l1.5,-0.6l1.5,0l1.5,0.4l1.5,0.3l1.5,0.7l1.5,0.6l1.5,-0.9l1.5,-1l1.5,0.1l1.5,0.1l1.5,0.9l1.5,1.5l1.5,-0.1l1.5,-0.4l1.5,1.2l1.5,0.9l1.5,-0.5l1.5,-0.2l1.5,0.6l1.5,0.9l1.5,0.9l1.5,0.7l1.5,0.6l1.5,0.3l1.5,0.3l1.5,-0.6l1.5,-0.7l1.5,0.6l1.5,0.7l1.5,0.4l1.5,0.4l1.5,-0.2l1.5,0.2l1.5,1.2l1.5,0.2l1.5,-0.1l1.5,0.5l1.5,0.1l1.5,-1l1.5,-1.2l1.5,0.2l1.5,0.5l1.5,0.1l1.5,0.8l1.5,0.4l1.5,-0.9l1.5,0.1l1.5,0.9l1.5,-0.8l1.5,-0.7l1.5,0.6l1.5,0.2l1.5,-0.2l1.5,0.2l1.5,-0.5l1.5,-0.3l1.5,0.6l1.5,0.2l1.5,-0.4l1.5,-0.1l1.5,0.8l1.5,0.4l1.5,-0.6l1.5,-0.4l1.5,-0.3l1.5,-0.3l1.5,0.4l1.5,0.2l1.5,-0.1l1.5,-0.8l1.5,-0.9l1.5,-0.2l1.5,0.5l1.5,-0.1" fill="none" stroke="#000000" stroke-width="2.2" stroke-linejoin="round"/>
<rect x="1532.75" y="413" width="7.5" height="83.39999999999998" fill="#000"/>
<polygon points="1516.1,495.4 1556.9,495.4 1536.5,532.1" fill="#000"/>
<rect x="1676.15" y="351.7" width="7.5" height="83.10000000000002" fill="#000"/>
<polygon points="1659.7,433.8 1700.1,433.8 1679.9,472.7" fill="#000"/>
<rect x="1756.05" y="167.8" width="7.5" height="82.29999999999998" fill="#000"/>
<polygon points="1739.9,249.1 1779.7,249.1 1759.8,288.1" fill="#000"/>
<line x1="1300.5" y1="1936.3" x2="1363.9" y2="1951.6" stroke="#000" stroke-width="7.5" stroke-linecap="round"/>
<polygon points="1368.6,1930.2 1359.2,1973.0 1404.6,1962.4" fill="#000"/>
<line x1="1542.7" y1="2030.9" x2="1599.5" y2="2084.6" stroke="#000" stroke-width="7.5" stroke-linecap="round"/>
<polygon points="1612.7,2067.6 1586.2,2101.6 1629.7,2111.8" fill="#000"/>
<rect x="1751.55" y="2203.3" width="7.5" height="101.39999999999964" fill="#000"/>
<polygon points="1734.4,2303.7 1776.2,2303.7 1755.3,2348.4" fill="#000"/>
<text transform="translate(217.93,1413.20) scale(0.6805,0.7000)" font-weight="normal">0.00</text>
<text transform="translate(183.90,1266.98) scale(0.6805,0.7000)" font-weight="normal">20.00</text>
<text transform="translate(183.90,1120.76) scale(0.6805,0.7000)" font-weight="normal">40.00</text>
<text transform="translate(183.90,974.54) scale(0.6805,0.7000)" font-weight="normal">60.00</text>
<text transform="translate(183.90,828.32) scale(0.6805,0.7000)" font-weight="normal">80.00</text>
<text transform="translate(149.88,682.10) scale(0.6805,0.7000)" font-weight="normal">100.00</text>
<text transform="translate(149.88,535.88) scale(0.6805,0.7000)" font-weight="normal">120.00</text>
<text transform="translate(149.88,389.66) scale(0.6805,0.7000)" font-weight="normal">140.00</text>
<text transform="translate(149.88,243.44) scale(0.6805,0.7000)" font-weight="normal">160.00</text>
<text transform="translate(149.88,97.22) scale(0.6805,0.7000)" font-weight="normal">180.00</text>
<text transform="translate(360.96,1517.58) scale(0.6976,0.7088)" font-weight="normal">6.00</text>
<text transform="translate(625.96,1517.58) scale(0.6976,0.7088)" font-weight="normal">8.00</text>
<text transform="translate(871.78,1517.58) scale(0.6976,0.7088)" font-weight="normal">10.00</text>
<text transform="translate(1136.78,1517.58) scale(0.6976,0.7088)" font-weight="normal">12.00</text>
<text transform="translate(1401.78,1517.58) scale(0.6976,0.7088)" font-weight="normal">14.00</text>
<text transform="translate(1666.78,1517.58) scale(0.6976,0.7088)" font-weight="normal">16.00</text>
<text transform="translate(1931.78,1517.58) scale(0.6976,0.7088)" font-weight="normal">18.00</text>
<text transform="translate(2198.52,1517.58) scale(0.6976,0.7088)" font-weight="normal">20.00</text>
<text transform="translate(101.42,741.58) rotate(-90) scale(0.7891,0.7910)" font-weight="normal">mV</text>
<text transform="translate(1022.64,1626.20) scale(0.7858,0.8000)" font-weight="normal">Retention time (min)</text>
<text transform="translate(497.66,526.95) scale(0.6852,0.6978)" font-weight="normal">(6 d)</text>
<text transform="translate(498.76,667.35) scale(0.6852,0.6978)" font-weight="normal">(5 d)</text>
<text transform="translate(502.56,814.05) scale(0.6852,0.6978)" font-weight="normal">(4 d)</text>
<text transform="translate(502.96,967.85) scale(0.6852,0.6978)" font-weight="normal">(3 d)</text>
<text transform="translate(498.76,1104.65) scale(0.6852,0.6978)" font-weight="normal">(2 d)</text>
<text transform="translate(498.76,1217.15) scale(0.6852,0.6978)" font-weight="normal">(1 d)</text>
<text transform="translate(498.76,1354.35) scale(0.6852,0.6978)" font-weight="normal">(0 d)</text>
<text transform="translate(1437.67,400.11) scale(0.6782,0.6914)" font-weight="normal">Peak 1</text>
<text transform="translate(1557.93,336.62) scale(0.6885,0.6757)" font-weight="normal">Peak 2</text>
<text transform="translate(1686.57,156.91) scale(0.6764,0.6871)" font-weight="normal">Peak 3</text>
<text transform="translate(2198.97,206.50) scale(1.0324,1.0682)" font-weight="bold">A</text>
<text transform="translate(199.82,3148.92) scale(0.6923,0.7897)" font-weight="normal">0.00</text>
<text transform="translate(200.51,2893.52) scale(0.6923,0.7897)" font-weight="normal">0.02</text>
<text transform="translate(198.43,2638.12) scale(0.6923,0.7897)" font-weight="normal">0.04</text>
<text transform="translate(199.12,2382.72) scale(0.6923,0.7897)" font-weight="normal">0.06</text>
<text transform="translate(199.82,2127.32) scale(0.6923,0.7897)" font-weight="normal">0.08</text>
<text transform="translate(199.82,1871.92) scale(0.6923,0.7897)" font-weight="normal">0.10</text>
<text transform="translate(296.59,3253.41) scale(0.7018,0.7971)" font-weight="normal">6.00</text>
<text transform="translate(571.09,3253.41) scale(0.7018,0.7971)" font-weight="normal">8.00</text>
<text transform="translate(826.29,3253.41) scale(0.7018,0.7971)" font-weight="normal">10.00</text>
<text transform="translate(1100.79,3253.41) scale(0.7018,0.7971)" font-weight="normal">12.00</text>
<text transform="translate(1375.29,3253.41) scale(0.7018,0.7971)" font-weight="normal">14.00</text>
<text transform="translate(1649.79,3253.41) scale(0.7018,0.7971)" font-weight="normal">16.00</text>
<text transform="translate(1924.29,3253.41) scale(0.7018,0.7971)" font-weight="normal">18.00</text>
<text transform="translate(2200.55,3253.41) scale(0.7018,0.7971)" font-weight="normal">20.00</text>
<text transform="translate(141.21,2562.86) rotate(-90) scale(0.8582,0.8971)" font-weight="normal">AU</text>
<text transform="translate(934.50,3374.18) scale(0.8014,0.8867)" font-weight="normal">Retention time (min)</text>
<text transform="translate(443.10,2445.20) scale(0.7005,0.8000)" font-weight="normal">(6 d)</text>
<text transform="translate(443.69,2548.92) scale(0.7027,0.7989)" font-weight="normal">(5 d)</text>
<text transform="translate(441.79,2657.12) scale(0.7027,0.7989)" font-weight="normal">(4 d)</text>
<text transform="translate(441.79,2758.30) scale(0.7027,0.8000)" font-weight="normal">(3 d)</text>
<text transform="translate(440.20,2862.07) scale(0.6995,0.7967)" font-weight="normal">(2 d)</text>
<text transform="translate(440.20,2971.17) scale(0.6995,0.7967)" font-weight="normal">(1 d)</text>
<text transform="translate(440.20,3080.20) scale(0.6995,0.8000)" font-weight="normal">(0 d)</text>
<text transform="translate(1116.84,1946.83) scale(0.6853,0.7729)" font-weight="normal">Peak 4</text>
<text transform="translate(1453.61,2021.43) scale(0.6977,0.7743)" font-weight="normal">Peak 5</text>
<text transform="translate(1690.89,2182.08) scale(0.7034,0.7620)" font-weight="normal">Peak 6</text>
<text transform="translate(2204.53,2020.90) scale(1.0371,1.2292)" font-weight="bold">B</text>
</svg></body></html>
